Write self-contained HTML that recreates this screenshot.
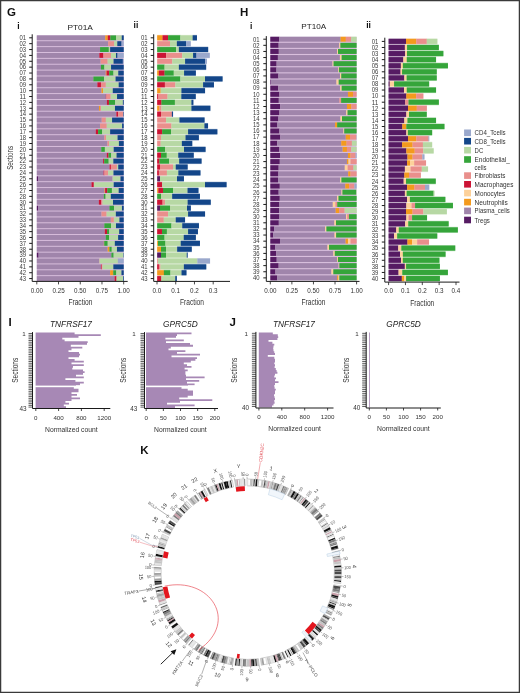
<!DOCTYPE html>
<html><head><meta charset="utf-8"><style>
html,body{margin:0;padding:0;background:#fff;}
body{width:520px;height:693px;overflow:hidden;}
svg{display:block;font-family:"Liberation Sans",sans-serif;will-change:transform;}
</style></head><body>
<svg width="520" height="693" viewBox="0 0 520 693">
<rect x="0" y="0" width="520" height="693" fill="#fff"/>
<rect x="36.8" y="35.4" width="86.9" height="245.3" fill="#d9bfdd"/>
<rect x="270.3" y="36.9" width="86.3" height="243.4" fill="#d9bfdd"/>
<rect x="36.80" y="35.35" width="68.50" height="4.9" fill="#a085ab"/>
<rect x="105.25" y="35.35" width="2.56" height="4.9" fill="#f39a1e"/>
<rect x="107.76" y="35.35" width="2.61" height="4.9" fill="#cc1435"/>
<rect x="110.32" y="35.35" width="5.77" height="4.9" fill="#35a53a"/>
<rect x="116.03" y="35.35" width="5.77" height="4.9" fill="#b7d8a4"/>
<rect x="121.75" y="35.35" width="2.00" height="4.9" fill="#134689"/>
<line x1="29.20" y1="37.80" x2="32.20" y2="37.80" stroke="#1a1a1a" stroke-width="1.0"/>
<text x="26.00" y="40.10" font-size="6.5" text-anchor="end" fill="#3a3a3a" textLength="6.6" lengthAdjust="spacingAndGlyphs" >01</text>
<rect x="36.80" y="41.22" width="71.38" height="4.9" fill="#a085ab"/>
<rect x="108.13" y="41.22" width="6.00" height="4.9" fill="#e98f8c"/>
<rect x="114.08" y="41.22" width="3.26" height="4.9" fill="#b7d8a4"/>
<rect x="117.29" y="41.22" width="4.33" height="4.9" fill="#134689"/>
<rect x="121.56" y="41.22" width="2.19" height="4.9" fill="#9aa8cc"/>
<line x1="29.20" y1="43.67" x2="32.20" y2="43.67" stroke="#1a1a1a" stroke-width="1.0"/>
<text x="26.00" y="45.97" font-size="6.5" text-anchor="end" fill="#3a3a3a" textLength="6.6" lengthAdjust="spacingAndGlyphs" >02</text>
<rect x="36.80" y="47.10" width="63.30" height="4.9" fill="#a085ab"/>
<rect x="100.05" y="47.10" width="8.83" height="4.9" fill="#35a53a"/>
<rect x="108.83" y="47.10" width="1.35" height="4.9" fill="#b7d8a4"/>
<rect x="110.13" y="47.10" width="13.62" height="4.9" fill="#134689"/>
<line x1="29.20" y1="49.55" x2="32.20" y2="49.55" stroke="#1a1a1a" stroke-width="1.0"/>
<text x="26.00" y="51.85" font-size="6.5" text-anchor="end" fill="#3a3a3a" textLength="6.6" lengthAdjust="spacingAndGlyphs" >03</text>
<rect x="36.80" y="52.97" width="62.55" height="4.9" fill="#a085ab"/>
<rect x="99.30" y="52.97" width="4.19" height="4.9" fill="#cc1435"/>
<rect x="103.44" y="52.97" width="7.58" height="4.9" fill="#e98f8c"/>
<rect x="110.97" y="52.97" width="5.07" height="4.9" fill="#b7d8a4"/>
<rect x="115.99" y="52.97" width="1.63" height="4.9" fill="#134689"/>
<rect x="117.57" y="52.97" width="6.18" height="4.9" fill="#9aa8cc"/>
<line x1="29.20" y1="55.42" x2="32.20" y2="55.42" stroke="#1a1a1a" stroke-width="1.0"/>
<text x="26.00" y="57.72" font-size="6.5" text-anchor="end" fill="#3a3a3a" textLength="6.6" lengthAdjust="spacingAndGlyphs" >04</text>
<rect x="36.80" y="58.84" width="63.85" height="4.9" fill="#a085ab"/>
<rect x="100.60" y="58.84" width="7.07" height="4.9" fill="#e98f8c"/>
<rect x="107.62" y="58.84" width="6.00" height="4.9" fill="#b7d8a4"/>
<rect x="113.57" y="58.84" width="9.34" height="4.9" fill="#134689"/>
<rect x="122.86" y="58.84" width="0.89" height="4.9" fill="#9aa8cc"/>
<line x1="29.20" y1="61.29" x2="32.20" y2="61.29" stroke="#1a1a1a" stroke-width="1.0"/>
<text x="26.00" y="63.59" font-size="6.5" text-anchor="end" fill="#3a3a3a" textLength="6.6" lengthAdjust="spacingAndGlyphs" >05</text>
<rect x="36.80" y="64.71" width="64.23" height="4.9" fill="#a085ab"/>
<rect x="100.98" y="64.71" width="3.49" height="4.9" fill="#35a53a"/>
<rect x="104.41" y="64.71" width="6.70" height="4.9" fill="#b7d8a4"/>
<rect x="111.06" y="64.71" width="12.69" height="4.9" fill="#134689"/>
<line x1="29.20" y1="67.16" x2="32.20" y2="67.16" stroke="#1a1a1a" stroke-width="1.0"/>
<text x="26.00" y="69.46" font-size="6.5" text-anchor="end" fill="#3a3a3a" textLength="6.6" lengthAdjust="spacingAndGlyphs" >06</text>
<rect x="36.80" y="70.59" width="69.01" height="4.9" fill="#a085ab"/>
<rect x="105.76" y="70.59" width="0.84" height="4.9" fill="#f39a1e"/>
<rect x="106.55" y="70.59" width="2.70" height="4.9" fill="#cc1435"/>
<rect x="109.20" y="70.59" width="4.33" height="4.9" fill="#35a53a"/>
<rect x="113.48" y="70.59" width="4.84" height="4.9" fill="#b7d8a4"/>
<rect x="118.26" y="70.59" width="5.49" height="4.9" fill="#134689"/>
<line x1="29.20" y1="73.04" x2="32.20" y2="73.04" stroke="#1a1a1a" stroke-width="1.0"/>
<text x="26.00" y="75.34" font-size="6.5" text-anchor="end" fill="#3a3a3a" textLength="6.6" lengthAdjust="spacingAndGlyphs" >07</text>
<rect x="36.80" y="76.46" width="56.60" height="4.9" fill="#a085ab"/>
<rect x="93.35" y="76.46" width="10.83" height="4.9" fill="#35a53a"/>
<rect x="104.14" y="76.46" width="11.48" height="4.9" fill="#b7d8a4"/>
<rect x="115.57" y="76.46" width="8.18" height="4.9" fill="#134689"/>
<line x1="29.20" y1="78.91" x2="32.20" y2="78.91" stroke="#1a1a1a" stroke-width="1.0"/>
<text x="26.00" y="81.21" font-size="6.5" text-anchor="end" fill="#3a3a3a" textLength="6.6" lengthAdjust="spacingAndGlyphs" >08</text>
<rect x="36.80" y="82.33" width="60.60" height="4.9" fill="#a085ab"/>
<rect x="97.35" y="82.33" width="3.63" height="4.9" fill="#cc1435"/>
<rect x="100.93" y="82.33" width="4.93" height="4.9" fill="#e98f8c"/>
<rect x="105.81" y="82.33" width="12.92" height="4.9" fill="#b7d8a4"/>
<rect x="118.68" y="82.33" width="5.07" height="4.9" fill="#134689"/>
<line x1="29.20" y1="84.78" x2="32.20" y2="84.78" stroke="#1a1a1a" stroke-width="1.0"/>
<text x="26.00" y="87.08" font-size="6.5" text-anchor="end" fill="#3a3a3a" textLength="6.6" lengthAdjust="spacingAndGlyphs" >09</text>
<rect x="36.80" y="88.21" width="64.74" height="4.9" fill="#a085ab"/>
<rect x="101.49" y="88.21" width="1.68" height="4.9" fill="#f39a1e"/>
<rect x="103.11" y="88.21" width="9.72" height="4.9" fill="#b7d8a4"/>
<rect x="112.78" y="88.21" width="10.97" height="4.9" fill="#134689"/>
<line x1="29.20" y1="90.66" x2="32.20" y2="90.66" stroke="#1a1a1a" stroke-width="1.0"/>
<text x="26.00" y="92.96" font-size="6.5" text-anchor="end" fill="#3a3a3a" textLength="6.6" lengthAdjust="spacingAndGlyphs" >10</text>
<rect x="36.80" y="94.08" width="69.06" height="4.9" fill="#a085ab"/>
<rect x="105.81" y="94.08" width="0.61" height="4.9" fill="#cc1435"/>
<rect x="106.37" y="94.08" width="4.33" height="4.9" fill="#e98f8c"/>
<rect x="110.64" y="94.08" width="6.46" height="4.9" fill="#b7d8a4"/>
<rect x="117.05" y="94.08" width="6.70" height="4.9" fill="#134689"/>
<line x1="29.20" y1="96.53" x2="32.20" y2="96.53" stroke="#1a1a1a" stroke-width="1.0"/>
<text x="26.00" y="98.83" font-size="6.5" text-anchor="end" fill="#3a3a3a" textLength="6.6" lengthAdjust="spacingAndGlyphs" >11</text>
<rect x="36.80" y="99.95" width="70.17" height="4.9" fill="#a085ab"/>
<rect x="106.92" y="99.95" width="2.05" height="4.9" fill="#cc1435"/>
<rect x="108.92" y="99.95" width="6.28" height="4.9" fill="#35a53a"/>
<rect x="115.15" y="99.95" width="7.76" height="4.9" fill="#b7d8a4"/>
<rect x="122.86" y="99.95" width="0.89" height="4.9" fill="#134689"/>
<line x1="29.20" y1="102.40" x2="32.20" y2="102.40" stroke="#1a1a1a" stroke-width="1.0"/>
<text x="26.00" y="104.70" font-size="6.5" text-anchor="end" fill="#3a3a3a" textLength="6.6" lengthAdjust="spacingAndGlyphs" >12</text>
<rect x="36.80" y="105.83" width="62.27" height="4.9" fill="#a085ab"/>
<rect x="99.02" y="105.83" width="1.12" height="4.9" fill="#f39a1e"/>
<rect x="100.09" y="105.83" width="0.98" height="4.9" fill="#e98f8c"/>
<rect x="101.02" y="105.83" width="13.99" height="4.9" fill="#b7d8a4"/>
<rect x="114.96" y="105.83" width="8.79" height="4.9" fill="#134689"/>
<line x1="29.20" y1="108.28" x2="32.20" y2="108.28" stroke="#1a1a1a" stroke-width="1.0"/>
<text x="26.00" y="110.58" font-size="6.5" text-anchor="end" fill="#3a3a3a" textLength="6.6" lengthAdjust="spacingAndGlyphs" >13</text>
<rect x="36.80" y="111.70" width="79.61" height="4.9" fill="#a085ab"/>
<rect x="116.36" y="111.70" width="1.82" height="4.9" fill="#cc1435"/>
<rect x="118.12" y="111.70" width="5.12" height="4.9" fill="#e98f8c"/>
<rect x="123.19" y="111.70" width="0.56" height="4.9" fill="#134689"/>
<line x1="29.20" y1="114.15" x2="32.20" y2="114.15" stroke="#1a1a1a" stroke-width="1.0"/>
<text x="26.00" y="116.45" font-size="6.5" text-anchor="end" fill="#3a3a3a" textLength="6.6" lengthAdjust="spacingAndGlyphs" >14</text>
<rect x="36.80" y="117.57" width="64.97" height="4.9" fill="#a085ab"/>
<rect x="101.72" y="117.57" width="4.19" height="4.9" fill="#e98f8c"/>
<rect x="105.86" y="117.57" width="6.28" height="4.9" fill="#b7d8a4"/>
<rect x="112.08" y="117.57" width="11.67" height="4.9" fill="#134689"/>
<line x1="29.20" y1="120.02" x2="32.20" y2="120.02" stroke="#1a1a1a" stroke-width="1.0"/>
<text x="26.00" y="122.32" font-size="6.5" text-anchor="end" fill="#3a3a3a" textLength="6.6" lengthAdjust="spacingAndGlyphs" >15</text>
<rect x="36.80" y="123.44" width="63.34" height="4.9" fill="#a085ab"/>
<rect x="100.09" y="123.44" width="6.70" height="4.9" fill="#e98f8c"/>
<rect x="106.74" y="123.44" width="15.39" height="4.9" fill="#b7d8a4"/>
<rect x="122.07" y="123.44" width="1.68" height="4.9" fill="#134689"/>
<line x1="29.20" y1="125.89" x2="32.20" y2="125.89" stroke="#1a1a1a" stroke-width="1.0"/>
<text x="26.00" y="128.19" font-size="6.5" text-anchor="end" fill="#3a3a3a" textLength="6.6" lengthAdjust="spacingAndGlyphs" >16</text>
<rect x="36.80" y="129.32" width="59.02" height="4.9" fill="#a085ab"/>
<rect x="95.77" y="129.32" width="2.37" height="4.9" fill="#cc1435"/>
<rect x="98.09" y="129.32" width="4.19" height="4.9" fill="#35a53a"/>
<rect x="102.23" y="129.32" width="7.95" height="4.9" fill="#b7d8a4"/>
<rect x="110.13" y="129.32" width="13.62" height="4.9" fill="#134689"/>
<line x1="29.20" y1="131.77" x2="32.20" y2="131.77" stroke="#1a1a1a" stroke-width="1.0"/>
<text x="26.00" y="134.07" font-size="6.5" text-anchor="end" fill="#3a3a3a" textLength="6.6" lengthAdjust="spacingAndGlyphs" >17</text>
<rect x="36.80" y="135.19" width="67.62" height="4.9" fill="#a085ab"/>
<rect x="104.37" y="135.19" width="1.82" height="4.9" fill="#e98f8c"/>
<rect x="106.13" y="135.19" width="11.48" height="4.9" fill="#b7d8a4"/>
<rect x="117.57" y="135.19" width="6.18" height="4.9" fill="#134689"/>
<line x1="29.20" y1="137.64" x2="32.20" y2="137.64" stroke="#1a1a1a" stroke-width="1.0"/>
<text x="26.00" y="139.94" font-size="6.5" text-anchor="end" fill="#3a3a3a" textLength="6.6" lengthAdjust="spacingAndGlyphs" >18</text>
<rect x="36.80" y="141.06" width="70.69" height="4.9" fill="#a085ab"/>
<rect x="107.44" y="141.06" width="1.68" height="4.9" fill="#e98f8c"/>
<rect x="109.06" y="141.06" width="9.90" height="4.9" fill="#b7d8a4"/>
<rect x="118.91" y="141.06" width="4.84" height="4.9" fill="#134689"/>
<line x1="29.20" y1="143.51" x2="32.20" y2="143.51" stroke="#1a1a1a" stroke-width="1.0"/>
<text x="26.00" y="145.81" font-size="6.5" text-anchor="end" fill="#3a3a3a" textLength="6.6" lengthAdjust="spacingAndGlyphs" >19</text>
<rect x="36.80" y="146.94" width="64.50" height="4.9" fill="#a085ab"/>
<rect x="101.25" y="146.94" width="3.67" height="4.9" fill="#35a53a"/>
<rect x="104.88" y="146.94" width="8.88" height="4.9" fill="#b7d8a4"/>
<rect x="113.71" y="146.94" width="10.04" height="4.9" fill="#134689"/>
<line x1="29.20" y1="149.39" x2="32.20" y2="149.39" stroke="#1a1a1a" stroke-width="1.0"/>
<text x="26.00" y="151.69" font-size="6.5" text-anchor="end" fill="#3a3a3a" textLength="6.6" lengthAdjust="spacingAndGlyphs" >20</text>
<rect x="36.80" y="152.81" width="69.99" height="4.9" fill="#a085ab"/>
<rect x="106.74" y="152.81" width="1.82" height="4.9" fill="#cc1435"/>
<rect x="108.50" y="152.81" width="2.75" height="4.9" fill="#35a53a"/>
<rect x="111.20" y="152.81" width="5.39" height="4.9" fill="#b7d8a4"/>
<rect x="116.54" y="152.81" width="7.21" height="4.9" fill="#134689"/>
<line x1="29.20" y1="155.26" x2="32.20" y2="155.26" stroke="#1a1a1a" stroke-width="1.0"/>
<text x="26.00" y="157.56" font-size="6.5" text-anchor="end" fill="#3a3a3a" textLength="6.6" lengthAdjust="spacingAndGlyphs" >21</text>
<rect x="36.80" y="158.68" width="66.36" height="4.9" fill="#a085ab"/>
<rect x="103.11" y="158.68" width="1.12" height="4.9" fill="#cc1435"/>
<rect x="104.18" y="158.68" width="4.56" height="4.9" fill="#35a53a"/>
<rect x="108.69" y="158.68" width="4.70" height="4.9" fill="#b7d8a4"/>
<rect x="113.34" y="158.68" width="10.41" height="4.9" fill="#134689"/>
<line x1="29.20" y1="161.13" x2="32.20" y2="161.13" stroke="#1a1a1a" stroke-width="1.0"/>
<text x="26.00" y="163.43" font-size="6.5" text-anchor="end" fill="#3a3a3a" textLength="6.6" lengthAdjust="spacingAndGlyphs" >22</text>
<rect x="36.80" y="164.56" width="72.82" height="4.9" fill="#a085ab"/>
<rect x="109.57" y="164.56" width="1.35" height="4.9" fill="#cc1435"/>
<rect x="110.87" y="164.56" width="6.09" height="4.9" fill="#e98f8c"/>
<rect x="116.92" y="164.56" width="1.35" height="4.9" fill="#b7d8a4"/>
<rect x="118.22" y="164.56" width="5.53" height="4.9" fill="#134689"/>
<line x1="29.20" y1="167.01" x2="32.20" y2="167.01" stroke="#1a1a1a" stroke-width="1.0"/>
<text x="26.00" y="169.31" font-size="6.5" text-anchor="end" fill="#3a3a3a" textLength="6.6" lengthAdjust="spacingAndGlyphs" >23</text>
<rect x="36.80" y="170.43" width="66.87" height="4.9" fill="#a085ab"/>
<rect x="103.62" y="170.43" width="0.84" height="4.9" fill="#cc1435"/>
<rect x="104.41" y="170.43" width="3.77" height="4.9" fill="#e98f8c"/>
<rect x="108.13" y="170.43" width="5.39" height="4.9" fill="#b7d8a4"/>
<rect x="113.48" y="170.43" width="10.27" height="4.9" fill="#134689"/>
<line x1="29.20" y1="172.88" x2="32.20" y2="172.88" stroke="#1a1a1a" stroke-width="1.0"/>
<text x="26.00" y="175.18" font-size="6.5" text-anchor="end" fill="#3a3a3a" textLength="6.6" lengthAdjust="spacingAndGlyphs" >24</text>
<rect x="36.80" y="176.30" width="1.35" height="4.9" fill="#561b63"/>
<rect x="38.10" y="176.30" width="74.54" height="4.9" fill="#a085ab"/>
<rect x="112.59" y="176.30" width="7.95" height="4.9" fill="#b7d8a4"/>
<rect x="120.49" y="176.30" width="3.26" height="4.9" fill="#134689"/>
<line x1="29.20" y1="178.75" x2="32.20" y2="178.75" stroke="#1a1a1a" stroke-width="1.0"/>
<text x="26.00" y="181.05" font-size="6.5" text-anchor="end" fill="#3a3a3a" textLength="6.6" lengthAdjust="spacingAndGlyphs" >25</text>
<rect x="36.80" y="182.18" width="54.75" height="4.9" fill="#a085ab"/>
<rect x="91.50" y="182.18" width="2.37" height="4.9" fill="#cc1435"/>
<rect x="93.82" y="182.18" width="19.94" height="4.9" fill="#b7d8a4"/>
<rect x="113.71" y="182.18" width="10.04" height="4.9" fill="#134689"/>
<line x1="29.20" y1="184.62" x2="32.20" y2="184.62" stroke="#1a1a1a" stroke-width="1.0"/>
<text x="26.00" y="186.93" font-size="6.5" text-anchor="end" fill="#3a3a3a" textLength="6.6" lengthAdjust="spacingAndGlyphs" >26</text>
<rect x="36.80" y="188.05" width="67.80" height="4.9" fill="#a085ab"/>
<rect x="104.55" y="188.05" width="0.61" height="4.9" fill="#f39a1e"/>
<rect x="105.11" y="188.05" width="2.19" height="4.9" fill="#cc1435"/>
<rect x="107.25" y="188.05" width="4.70" height="4.9" fill="#35a53a"/>
<rect x="111.90" y="188.05" width="6.83" height="4.9" fill="#b7d8a4"/>
<rect x="118.68" y="188.05" width="5.07" height="4.9" fill="#134689"/>
<line x1="29.20" y1="190.50" x2="32.20" y2="190.50" stroke="#1a1a1a" stroke-width="1.0"/>
<text x="26.00" y="192.80" font-size="6.5" text-anchor="end" fill="#3a3a3a" textLength="6.6" lengthAdjust="spacingAndGlyphs" >27</text>
<rect x="36.80" y="193.92" width="67.11" height="4.9" fill="#a085ab"/>
<rect x="103.86" y="193.92" width="1.82" height="4.9" fill="#35a53a"/>
<rect x="105.62" y="193.92" width="5.25" height="4.9" fill="#b7d8a4"/>
<rect x="110.83" y="193.92" width="12.92" height="4.9" fill="#134689"/>
<line x1="29.20" y1="196.37" x2="32.20" y2="196.37" stroke="#1a1a1a" stroke-width="1.0"/>
<text x="26.00" y="198.67" font-size="6.5" text-anchor="end" fill="#3a3a3a" textLength="6.6" lengthAdjust="spacingAndGlyphs" >28</text>
<rect x="36.80" y="199.79" width="62.09" height="4.9" fill="#a085ab"/>
<rect x="98.84" y="199.79" width="2.56" height="4.9" fill="#cc1435"/>
<rect x="101.35" y="199.79" width="1.21" height="4.9" fill="#e98f8c"/>
<rect x="102.51" y="199.79" width="10.55" height="4.9" fill="#b7d8a4"/>
<rect x="113.01" y="199.79" width="10.74" height="4.9" fill="#134689"/>
<line x1="29.20" y1="202.24" x2="32.20" y2="202.24" stroke="#1a1a1a" stroke-width="1.0"/>
<text x="26.00" y="204.54" font-size="6.5" text-anchor="end" fill="#3a3a3a" textLength="6.6" lengthAdjust="spacingAndGlyphs" >30</text>
<rect x="36.80" y="205.67" width="1.35" height="4.9" fill="#561b63"/>
<rect x="38.10" y="205.67" width="71.34" height="4.9" fill="#a085ab"/>
<rect x="109.39" y="205.67" width="4.70" height="4.9" fill="#35a53a"/>
<rect x="114.03" y="205.67" width="7.95" height="4.9" fill="#b7d8a4"/>
<rect x="121.93" y="205.67" width="1.82" height="4.9" fill="#134689"/>
<line x1="29.20" y1="208.12" x2="32.20" y2="208.12" stroke="#1a1a1a" stroke-width="1.0"/>
<text x="26.00" y="210.42" font-size="6.5" text-anchor="end" fill="#3a3a3a" textLength="6.6" lengthAdjust="spacingAndGlyphs" >31</text>
<rect x="36.80" y="211.54" width="64.74" height="4.9" fill="#a085ab"/>
<rect x="101.49" y="211.54" width="5.12" height="4.9" fill="#e98f8c"/>
<rect x="106.55" y="211.54" width="9.34" height="4.9" fill="#b7d8a4"/>
<rect x="115.85" y="211.54" width="7.90" height="4.9" fill="#134689"/>
<line x1="29.20" y1="213.99" x2="32.20" y2="213.99" stroke="#1a1a1a" stroke-width="1.0"/>
<text x="26.00" y="216.29" font-size="6.5" text-anchor="end" fill="#3a3a3a" textLength="6.6" lengthAdjust="spacingAndGlyphs" >32</text>
<rect x="36.80" y="217.41" width="74.03" height="4.9" fill="#a085ab"/>
<rect x="110.78" y="217.41" width="3.12" height="4.9" fill="#e98f8c"/>
<rect x="113.85" y="217.41" width="5.63" height="4.9" fill="#b7d8a4"/>
<rect x="119.42" y="217.41" width="4.33" height="4.9" fill="#134689"/>
<line x1="29.20" y1="219.86" x2="32.20" y2="219.86" stroke="#1a1a1a" stroke-width="1.0"/>
<text x="26.00" y="222.16" font-size="6.5" text-anchor="end" fill="#3a3a3a" textLength="6.6" lengthAdjust="spacingAndGlyphs" >33</text>
<rect x="36.80" y="223.29" width="67.57" height="4.9" fill="#a085ab"/>
<rect x="104.32" y="223.29" width="6.70" height="4.9" fill="#35a53a"/>
<rect x="110.97" y="223.29" width="5.07" height="4.9" fill="#b7d8a4"/>
<rect x="115.99" y="223.29" width="7.76" height="4.9" fill="#134689"/>
<line x1="29.20" y1="225.74" x2="32.20" y2="225.74" stroke="#1a1a1a" stroke-width="1.0"/>
<text x="26.00" y="228.04" font-size="6.5" text-anchor="end" fill="#3a3a3a" textLength="6.6" lengthAdjust="spacingAndGlyphs" >34</text>
<rect x="36.80" y="229.16" width="68.04" height="4.9" fill="#a085ab"/>
<rect x="104.79" y="229.16" width="2.28" height="4.9" fill="#cc1435"/>
<rect x="107.02" y="229.16" width="2.33" height="4.9" fill="#35a53a"/>
<rect x="109.29" y="229.16" width="9.90" height="4.9" fill="#b7d8a4"/>
<rect x="119.15" y="229.16" width="4.60" height="4.9" fill="#134689"/>
<line x1="29.20" y1="231.61" x2="32.20" y2="231.61" stroke="#1a1a1a" stroke-width="1.0"/>
<text x="26.00" y="233.91" font-size="6.5" text-anchor="end" fill="#3a3a3a" textLength="6.6" lengthAdjust="spacingAndGlyphs" >35</text>
<rect x="36.80" y="235.03" width="69.01" height="4.9" fill="#a085ab"/>
<rect x="105.76" y="235.03" width="3.49" height="4.9" fill="#35a53a"/>
<rect x="109.20" y="235.03" width="8.97" height="4.9" fill="#b7d8a4"/>
<rect x="118.12" y="235.03" width="5.63" height="4.9" fill="#134689"/>
<line x1="29.20" y1="237.48" x2="32.20" y2="237.48" stroke="#1a1a1a" stroke-width="1.0"/>
<text x="26.00" y="239.78" font-size="6.5" text-anchor="end" fill="#3a3a3a" textLength="6.6" lengthAdjust="spacingAndGlyphs" >36</text>
<rect x="36.80" y="240.91" width="67.11" height="4.9" fill="#a085ab"/>
<rect x="103.86" y="240.91" width="0.42" height="4.9" fill="#f39a1e"/>
<rect x="104.23" y="240.91" width="3.54" height="4.9" fill="#35a53a"/>
<rect x="107.71" y="240.91" width="7.16" height="4.9" fill="#b7d8a4"/>
<rect x="114.82" y="240.91" width="8.93" height="4.9" fill="#134689"/>
<line x1="29.20" y1="243.36" x2="32.20" y2="243.36" stroke="#1a1a1a" stroke-width="1.0"/>
<text x="26.00" y="245.66" font-size="6.5" text-anchor="end" fill="#3a3a3a" textLength="6.6" lengthAdjust="spacingAndGlyphs" >37</text>
<rect x="36.80" y="246.78" width="70.92" height="4.9" fill="#a085ab"/>
<rect x="107.67" y="246.78" width="1.82" height="4.9" fill="#f39a1e"/>
<rect x="109.43" y="246.78" width="2.37" height="4.9" fill="#35a53a"/>
<rect x="111.76" y="246.78" width="5.25" height="4.9" fill="#b7d8a4"/>
<rect x="116.96" y="246.78" width="6.79" height="4.9" fill="#134689"/>
<line x1="29.20" y1="249.23" x2="32.20" y2="249.23" stroke="#1a1a1a" stroke-width="1.0"/>
<text x="26.00" y="251.53" font-size="6.5" text-anchor="end" fill="#3a3a3a" textLength="6.6" lengthAdjust="spacingAndGlyphs" >38</text>
<rect x="36.80" y="252.65" width="1.82" height="4.9" fill="#561b63"/>
<rect x="38.57" y="252.65" width="72.82" height="4.9" fill="#a085ab"/>
<rect x="111.34" y="252.65" width="2.37" height="4.9" fill="#35a53a"/>
<rect x="113.66" y="252.65" width="9.72" height="4.9" fill="#b7d8a4"/>
<rect x="123.33" y="252.65" width="0.42" height="4.9" fill="#134689"/>
<line x1="29.20" y1="255.10" x2="32.20" y2="255.10" stroke="#1a1a1a" stroke-width="1.0"/>
<text x="26.00" y="257.40" font-size="6.5" text-anchor="end" fill="#3a3a3a" textLength="6.6" lengthAdjust="spacingAndGlyphs" >39</text>
<rect x="36.80" y="258.52" width="62.41" height="4.9" fill="#a085ab"/>
<rect x="99.16" y="258.52" width="0.42" height="4.9" fill="#e98f8c"/>
<rect x="99.54" y="258.52" width="18.36" height="4.9" fill="#b7d8a4"/>
<rect x="117.84" y="258.52" width="5.91" height="4.9" fill="#9aa8cc"/>
<line x1="29.20" y1="260.97" x2="32.20" y2="260.97" stroke="#1a1a1a" stroke-width="1.0"/>
<text x="26.00" y="263.27" font-size="6.5" text-anchor="end" fill="#3a3a3a" textLength="6.6" lengthAdjust="spacingAndGlyphs" >40</text>
<rect x="36.80" y="264.40" width="64.18" height="4.9" fill="#a085ab"/>
<rect x="100.93" y="264.40" width="0.84" height="4.9" fill="#cc1435"/>
<rect x="101.72" y="264.40" width="0.79" height="4.9" fill="#e98f8c"/>
<rect x="102.46" y="264.40" width="10.92" height="4.9" fill="#b7d8a4"/>
<rect x="113.34" y="264.40" width="10.41" height="4.9" fill="#134689"/>
<line x1="29.20" y1="266.85" x2="32.20" y2="266.85" stroke="#1a1a1a" stroke-width="1.0"/>
<text x="26.00" y="269.15" font-size="6.5" text-anchor="end" fill="#3a3a3a" textLength="6.6" lengthAdjust="spacingAndGlyphs" >41</text>
<rect x="36.80" y="270.27" width="73.38" height="4.9" fill="#a085ab"/>
<rect x="110.13" y="270.27" width="3.16" height="4.9" fill="#f39a1e"/>
<rect x="113.24" y="270.27" width="3.12" height="4.9" fill="#35a53a"/>
<rect x="116.31" y="270.27" width="5.21" height="4.9" fill="#b7d8a4"/>
<rect x="121.47" y="270.27" width="2.28" height="4.9" fill="#134689"/>
<line x1="29.20" y1="272.72" x2="32.20" y2="272.72" stroke="#1a1a1a" stroke-width="1.0"/>
<text x="26.00" y="275.02" font-size="6.5" text-anchor="end" fill="#3a3a3a" textLength="6.6" lengthAdjust="spacingAndGlyphs" >42</text>
<rect x="36.80" y="276.14" width="77.84" height="4.9" fill="#a085ab"/>
<rect x="114.59" y="276.14" width="2.00" height="4.9" fill="#cc1435"/>
<rect x="116.54" y="276.14" width="6.51" height="4.9" fill="#b7d8a4"/>
<rect x="123.00" y="276.14" width="0.75" height="4.9" fill="#134689"/>
<line x1="29.20" y1="278.59" x2="32.20" y2="278.59" stroke="#1a1a1a" stroke-width="1.0"/>
<text x="26.00" y="280.89" font-size="6.5" text-anchor="end" fill="#3a3a3a" textLength="6.6" lengthAdjust="spacingAndGlyphs" >43</text>
<path d="M32.20 34.30 V281.40 H127.70" fill="none" stroke="#1a1a1a" stroke-width="1"/>
<line x1="36.80" y1="281.40" x2="36.80" y2="284.40" stroke="#1a1a1a" stroke-width="0.8"/>
<text x="36.80" y="292.70" font-size="6.3" text-anchor="middle" fill="#333" >0.00</text>
<line x1="58.52" y1="281.40" x2="58.52" y2="284.40" stroke="#1a1a1a" stroke-width="0.8"/>
<text x="58.52" y="292.70" font-size="6.3" text-anchor="middle" fill="#333" >0.25</text>
<line x1="80.25" y1="281.40" x2="80.25" y2="284.40" stroke="#1a1a1a" stroke-width="0.8"/>
<text x="80.25" y="292.70" font-size="6.3" text-anchor="middle" fill="#333" >0.50</text>
<line x1="101.98" y1="281.40" x2="101.98" y2="284.40" stroke="#1a1a1a" stroke-width="0.8"/>
<text x="101.98" y="292.70" font-size="6.3" text-anchor="middle" fill="#333" >0.75</text>
<line x1="123.70" y1="281.40" x2="123.70" y2="284.40" stroke="#1a1a1a" stroke-width="0.8"/>
<text x="123.70" y="292.70" font-size="6.3" text-anchor="middle" fill="#333" >1.00</text>
<rect x="157.20" y="34.86" width="5.45" height="5.873" fill="#f39a1e" fill-opacity="0.42"/>
<rect x="157.20" y="35.35" width="5.45" height="4.9" fill="#f39a1e"/>
<rect x="162.60" y="34.86" width="5.55" height="5.873" fill="#cc1435" fill-opacity="0.42"/>
<rect x="162.60" y="35.35" width="5.55" height="4.9" fill="#cc1435"/>
<rect x="168.10" y="34.86" width="12.35" height="5.873" fill="#35a53a" fill-opacity="0.42"/>
<rect x="168.10" y="35.35" width="12.35" height="4.9" fill="#35a53a"/>
<rect x="180.40" y="34.86" width="12.35" height="5.873" fill="#b7d8a4" fill-opacity="0.42"/>
<rect x="180.40" y="35.35" width="12.35" height="4.9" fill="#b7d8a4"/>
<rect x="192.70" y="34.86" width="4.25" height="5.873" fill="#134689" fill-opacity="0.42"/>
<rect x="192.70" y="35.35" width="4.25" height="4.9" fill="#134689"/>
<line x1="150.70" y1="37.80" x2="153.70" y2="37.80" stroke="#1a1a1a" stroke-width="1.0"/>
<text x="147.60" y="40.10" font-size="6.5" text-anchor="end" fill="#3a3a3a" textLength="6.6" lengthAdjust="spacingAndGlyphs" >01</text>
<rect x="157.20" y="40.74" width="12.85" height="5.873" fill="#e98f8c" fill-opacity="0.42"/>
<rect x="157.20" y="41.22" width="12.85" height="4.9" fill="#e98f8c"/>
<rect x="170.00" y="40.74" width="6.95" height="5.873" fill="#b7d8a4" fill-opacity="0.42"/>
<rect x="170.00" y="41.22" width="6.95" height="4.9" fill="#b7d8a4"/>
<rect x="176.90" y="40.74" width="9.25" height="5.873" fill="#134689" fill-opacity="0.42"/>
<rect x="176.90" y="41.22" width="9.25" height="4.9" fill="#134689"/>
<rect x="186.10" y="40.74" width="4.65" height="5.873" fill="#9aa8cc" fill-opacity="0.42"/>
<rect x="186.10" y="41.22" width="4.65" height="4.9" fill="#9aa8cc"/>
<line x1="150.70" y1="43.67" x2="153.70" y2="43.67" stroke="#1a1a1a" stroke-width="1.0"/>
<text x="147.60" y="45.97" font-size="6.5" text-anchor="end" fill="#3a3a3a" textLength="6.6" lengthAdjust="spacingAndGlyphs" >02</text>
<rect x="157.20" y="46.61" width="18.95" height="5.873" fill="#35a53a" fill-opacity="0.42"/>
<rect x="157.20" y="47.10" width="18.95" height="4.9" fill="#35a53a"/>
<rect x="176.10" y="46.61" width="2.85" height="5.873" fill="#b7d8a4" fill-opacity="0.42"/>
<rect x="176.10" y="47.10" width="2.85" height="4.9" fill="#b7d8a4"/>
<rect x="178.90" y="46.61" width="29.25" height="5.873" fill="#134689" fill-opacity="0.42"/>
<rect x="178.90" y="47.10" width="29.25" height="4.9" fill="#134689"/>
<line x1="150.70" y1="49.55" x2="153.70" y2="49.55" stroke="#1a1a1a" stroke-width="1.0"/>
<text x="147.60" y="51.85" font-size="6.5" text-anchor="end" fill="#3a3a3a" textLength="6.6" lengthAdjust="spacingAndGlyphs" >03</text>
<rect x="157.20" y="52.48" width="8.95" height="5.873" fill="#cc1435" fill-opacity="0.42"/>
<rect x="157.20" y="52.97" width="8.95" height="4.9" fill="#cc1435"/>
<rect x="166.10" y="52.48" width="16.25" height="5.873" fill="#e98f8c" fill-opacity="0.42"/>
<rect x="166.10" y="52.97" width="16.25" height="4.9" fill="#e98f8c"/>
<rect x="182.30" y="52.48" width="10.85" height="5.873" fill="#b7d8a4" fill-opacity="0.42"/>
<rect x="182.30" y="52.97" width="10.85" height="4.9" fill="#b7d8a4"/>
<rect x="193.10" y="52.48" width="3.45" height="5.873" fill="#134689" fill-opacity="0.42"/>
<rect x="193.10" y="52.97" width="3.45" height="4.9" fill="#134689"/>
<rect x="196.50" y="52.48" width="13.25" height="5.873" fill="#9aa8cc" fill-opacity="0.42"/>
<rect x="196.50" y="52.97" width="13.25" height="4.9" fill="#9aa8cc"/>
<line x1="150.70" y1="55.42" x2="153.70" y2="55.42" stroke="#1a1a1a" stroke-width="1.0"/>
<text x="147.60" y="57.72" font-size="6.5" text-anchor="end" fill="#3a3a3a" textLength="6.6" lengthAdjust="spacingAndGlyphs" >04</text>
<rect x="157.20" y="58.36" width="15.15" height="5.873" fill="#e98f8c" fill-opacity="0.42"/>
<rect x="157.20" y="58.84" width="15.15" height="4.9" fill="#e98f8c"/>
<rect x="172.30" y="58.36" width="12.85" height="5.873" fill="#b7d8a4" fill-opacity="0.42"/>
<rect x="172.30" y="58.84" width="12.85" height="4.9" fill="#b7d8a4"/>
<rect x="185.10" y="58.36" width="20.05" height="5.873" fill="#134689" fill-opacity="0.42"/>
<rect x="185.10" y="58.84" width="20.05" height="4.9" fill="#134689"/>
<rect x="205.10" y="58.36" width="1.85" height="5.873" fill="#9aa8cc" fill-opacity="0.42"/>
<rect x="205.10" y="58.84" width="1.85" height="4.9" fill="#9aa8cc"/>
<line x1="150.70" y1="61.29" x2="153.70" y2="61.29" stroke="#1a1a1a" stroke-width="1.0"/>
<text x="147.60" y="63.59" font-size="6.5" text-anchor="end" fill="#3a3a3a" textLength="6.6" lengthAdjust="spacingAndGlyphs" >05</text>
<rect x="157.20" y="64.23" width="7.45" height="5.873" fill="#35a53a" fill-opacity="0.42"/>
<rect x="157.20" y="64.71" width="7.45" height="4.9" fill="#35a53a"/>
<rect x="164.60" y="64.23" width="14.35" height="5.873" fill="#b7d8a4" fill-opacity="0.42"/>
<rect x="164.60" y="64.71" width="14.35" height="4.9" fill="#b7d8a4"/>
<rect x="178.90" y="64.23" width="27.25" height="5.873" fill="#134689" fill-opacity="0.42"/>
<rect x="178.90" y="64.71" width="27.25" height="4.9" fill="#134689"/>
<line x1="150.70" y1="67.16" x2="153.70" y2="67.16" stroke="#1a1a1a" stroke-width="1.0"/>
<text x="147.60" y="69.46" font-size="6.5" text-anchor="end" fill="#3a3a3a" textLength="6.6" lengthAdjust="spacingAndGlyphs" >06</text>
<rect x="157.20" y="70.10" width="1.75" height="5.873" fill="#f39a1e" fill-opacity="0.42"/>
<rect x="157.20" y="70.59" width="1.75" height="4.9" fill="#f39a1e"/>
<rect x="158.90" y="70.10" width="5.75" height="5.873" fill="#cc1435" fill-opacity="0.42"/>
<rect x="158.90" y="70.59" width="5.75" height="4.9" fill="#cc1435"/>
<rect x="164.60" y="70.10" width="9.25" height="5.873" fill="#35a53a" fill-opacity="0.42"/>
<rect x="164.60" y="70.59" width="9.25" height="4.9" fill="#35a53a"/>
<rect x="173.80" y="70.10" width="10.35" height="5.873" fill="#b7d8a4" fill-opacity="0.42"/>
<rect x="173.80" y="70.59" width="10.35" height="4.9" fill="#b7d8a4"/>
<rect x="184.10" y="70.10" width="11.75" height="5.873" fill="#134689" fill-opacity="0.42"/>
<rect x="184.10" y="70.59" width="11.75" height="4.9" fill="#134689"/>
<line x1="150.70" y1="73.04" x2="153.70" y2="73.04" stroke="#1a1a1a" stroke-width="1.0"/>
<text x="147.60" y="75.34" font-size="6.5" text-anchor="end" fill="#3a3a3a" textLength="6.6" lengthAdjust="spacingAndGlyphs" >07</text>
<rect x="157.20" y="75.97" width="23.25" height="5.873" fill="#35a53a" fill-opacity="0.42"/>
<rect x="157.20" y="76.46" width="23.25" height="4.9" fill="#35a53a"/>
<rect x="180.40" y="75.97" width="24.65" height="5.873" fill="#b7d8a4" fill-opacity="0.42"/>
<rect x="180.40" y="76.46" width="24.65" height="4.9" fill="#b7d8a4"/>
<rect x="205.00" y="75.97" width="17.55" height="5.873" fill="#134689" fill-opacity="0.42"/>
<rect x="205.00" y="76.46" width="17.55" height="4.9" fill="#134689"/>
<line x1="150.70" y1="78.91" x2="153.70" y2="78.91" stroke="#1a1a1a" stroke-width="1.0"/>
<text x="147.60" y="81.21" font-size="6.5" text-anchor="end" fill="#3a3a3a" textLength="6.6" lengthAdjust="spacingAndGlyphs" >08</text>
<rect x="157.20" y="81.85" width="7.75" height="5.873" fill="#cc1435" fill-opacity="0.42"/>
<rect x="157.20" y="82.33" width="7.75" height="4.9" fill="#cc1435"/>
<rect x="164.90" y="81.85" width="10.55" height="5.873" fill="#e98f8c" fill-opacity="0.42"/>
<rect x="164.90" y="82.33" width="10.55" height="4.9" fill="#e98f8c"/>
<rect x="175.40" y="81.85" width="27.75" height="5.873" fill="#b7d8a4" fill-opacity="0.42"/>
<rect x="175.40" y="82.33" width="27.75" height="4.9" fill="#b7d8a4"/>
<rect x="203.10" y="81.85" width="10.85" height="5.873" fill="#134689" fill-opacity="0.42"/>
<rect x="203.10" y="82.33" width="10.85" height="4.9" fill="#134689"/>
<line x1="150.70" y1="84.78" x2="153.70" y2="84.78" stroke="#1a1a1a" stroke-width="1.0"/>
<text x="147.60" y="87.08" font-size="6.5" text-anchor="end" fill="#3a3a3a" textLength="6.6" lengthAdjust="spacingAndGlyphs" >09</text>
<rect x="157.20" y="87.72" width="3.55" height="5.873" fill="#f39a1e" fill-opacity="0.42"/>
<rect x="157.20" y="88.21" width="3.55" height="4.9" fill="#f39a1e"/>
<rect x="160.70" y="87.72" width="20.85" height="5.873" fill="#b7d8a4" fill-opacity="0.42"/>
<rect x="160.70" y="88.21" width="20.85" height="4.9" fill="#b7d8a4"/>
<rect x="181.50" y="87.72" width="23.55" height="5.873" fill="#134689" fill-opacity="0.42"/>
<rect x="181.50" y="88.21" width="23.55" height="4.9" fill="#134689"/>
<line x1="150.70" y1="90.66" x2="153.70" y2="90.66" stroke="#1a1a1a" stroke-width="1.0"/>
<text x="147.60" y="92.96" font-size="6.5" text-anchor="end" fill="#3a3a3a" textLength="6.6" lengthAdjust="spacingAndGlyphs" >10</text>
<rect x="157.20" y="93.59" width="1.25" height="5.873" fill="#cc1435" fill-opacity="0.42"/>
<rect x="157.20" y="94.08" width="1.25" height="4.9" fill="#cc1435"/>
<rect x="158.40" y="93.59" width="9.25" height="5.873" fill="#e98f8c" fill-opacity="0.42"/>
<rect x="158.40" y="94.08" width="9.25" height="4.9" fill="#e98f8c"/>
<rect x="167.60" y="93.59" width="13.85" height="5.873" fill="#b7d8a4" fill-opacity="0.42"/>
<rect x="167.60" y="94.08" width="13.85" height="4.9" fill="#b7d8a4"/>
<rect x="181.40" y="93.59" width="14.35" height="5.873" fill="#134689" fill-opacity="0.42"/>
<rect x="181.40" y="94.08" width="14.35" height="4.9" fill="#134689"/>
<line x1="150.70" y1="96.53" x2="153.70" y2="96.53" stroke="#1a1a1a" stroke-width="1.0"/>
<text x="147.60" y="98.83" font-size="6.5" text-anchor="end" fill="#3a3a3a" textLength="6.6" lengthAdjust="spacingAndGlyphs" >11</text>
<rect x="157.20" y="99.47" width="4.35" height="5.873" fill="#cc1435" fill-opacity="0.42"/>
<rect x="157.20" y="99.95" width="4.35" height="4.9" fill="#cc1435"/>
<rect x="161.50" y="99.47" width="13.45" height="5.873" fill="#35a53a" fill-opacity="0.42"/>
<rect x="161.50" y="99.95" width="13.45" height="4.9" fill="#35a53a"/>
<rect x="174.90" y="99.47" width="16.65" height="5.873" fill="#b7d8a4" fill-opacity="0.42"/>
<rect x="174.90" y="99.95" width="16.65" height="4.9" fill="#b7d8a4"/>
<rect x="191.50" y="99.47" width="1.85" height="5.873" fill="#134689" fill-opacity="0.42"/>
<rect x="191.50" y="99.95" width="1.85" height="4.9" fill="#134689"/>
<line x1="150.70" y1="102.40" x2="153.70" y2="102.40" stroke="#1a1a1a" stroke-width="1.0"/>
<text x="147.60" y="104.70" font-size="6.5" text-anchor="end" fill="#3a3a3a" textLength="6.6" lengthAdjust="spacingAndGlyphs" >12</text>
<rect x="157.20" y="105.34" width="2.35" height="5.873" fill="#f39a1e" fill-opacity="0.42"/>
<rect x="157.20" y="105.83" width="2.35" height="4.9" fill="#f39a1e"/>
<rect x="159.50" y="105.34" width="2.05" height="5.873" fill="#e98f8c" fill-opacity="0.42"/>
<rect x="159.50" y="105.83" width="2.05" height="4.9" fill="#e98f8c"/>
<rect x="161.50" y="105.34" width="30.05" height="5.873" fill="#b7d8a4" fill-opacity="0.42"/>
<rect x="161.50" y="105.83" width="30.05" height="4.9" fill="#b7d8a4"/>
<rect x="191.50" y="105.34" width="18.85" height="5.873" fill="#134689" fill-opacity="0.42"/>
<rect x="191.50" y="105.83" width="18.85" height="4.9" fill="#134689"/>
<line x1="150.70" y1="108.28" x2="153.70" y2="108.28" stroke="#1a1a1a" stroke-width="1.0"/>
<text x="147.60" y="110.58" font-size="6.5" text-anchor="end" fill="#3a3a3a" textLength="6.6" lengthAdjust="spacingAndGlyphs" >13</text>
<rect x="157.20" y="111.21" width="3.85" height="5.873" fill="#cc1435" fill-opacity="0.42"/>
<rect x="157.20" y="111.70" width="3.85" height="4.9" fill="#cc1435"/>
<rect x="161.00" y="111.21" width="10.95" height="5.873" fill="#e98f8c" fill-opacity="0.42"/>
<rect x="161.00" y="111.70" width="10.95" height="4.9" fill="#e98f8c"/>
<rect x="171.90" y="111.21" width="1.15" height="5.873" fill="#134689" fill-opacity="0.42"/>
<rect x="171.90" y="111.70" width="1.15" height="4.9" fill="#134689"/>
<line x1="150.70" y1="114.15" x2="153.70" y2="114.15" stroke="#1a1a1a" stroke-width="1.0"/>
<text x="147.60" y="116.45" font-size="6.5" text-anchor="end" fill="#3a3a3a" textLength="6.6" lengthAdjust="spacingAndGlyphs" >14</text>
<rect x="157.20" y="117.09" width="8.95" height="5.873" fill="#e98f8c" fill-opacity="0.42"/>
<rect x="157.20" y="117.57" width="8.95" height="4.9" fill="#e98f8c"/>
<rect x="166.10" y="117.09" width="13.45" height="5.873" fill="#b7d8a4" fill-opacity="0.42"/>
<rect x="166.10" y="117.57" width="13.45" height="4.9" fill="#b7d8a4"/>
<rect x="179.50" y="117.09" width="25.05" height="5.873" fill="#134689" fill-opacity="0.42"/>
<rect x="179.50" y="117.57" width="25.05" height="4.9" fill="#134689"/>
<line x1="150.70" y1="120.02" x2="153.70" y2="120.02" stroke="#1a1a1a" stroke-width="1.0"/>
<text x="147.60" y="122.32" font-size="6.5" text-anchor="end" fill="#3a3a3a" textLength="6.6" lengthAdjust="spacingAndGlyphs" >15</text>
<rect x="157.20" y="122.96" width="14.35" height="5.873" fill="#e98f8c" fill-opacity="0.42"/>
<rect x="157.20" y="123.44" width="14.35" height="4.9" fill="#e98f8c"/>
<rect x="171.50" y="122.96" width="33.05" height="5.873" fill="#b7d8a4" fill-opacity="0.42"/>
<rect x="171.50" y="123.44" width="33.05" height="4.9" fill="#b7d8a4"/>
<rect x="204.50" y="122.96" width="3.55" height="5.873" fill="#134689" fill-opacity="0.42"/>
<rect x="204.50" y="123.44" width="3.55" height="4.9" fill="#134689"/>
<line x1="150.70" y1="125.89" x2="153.70" y2="125.89" stroke="#1a1a1a" stroke-width="1.0"/>
<text x="147.60" y="128.19" font-size="6.5" text-anchor="end" fill="#3a3a3a" textLength="6.6" lengthAdjust="spacingAndGlyphs" >16</text>
<rect x="157.20" y="128.83" width="5.05" height="5.873" fill="#cc1435" fill-opacity="0.42"/>
<rect x="157.20" y="129.32" width="5.05" height="4.9" fill="#cc1435"/>
<rect x="162.20" y="128.83" width="8.95" height="5.873" fill="#35a53a" fill-opacity="0.42"/>
<rect x="162.20" y="129.32" width="8.95" height="4.9" fill="#35a53a"/>
<rect x="171.10" y="128.83" width="17.05" height="5.873" fill="#b7d8a4" fill-opacity="0.42"/>
<rect x="171.10" y="129.32" width="17.05" height="4.9" fill="#b7d8a4"/>
<rect x="188.10" y="128.83" width="29.25" height="5.873" fill="#134689" fill-opacity="0.42"/>
<rect x="188.10" y="129.32" width="29.25" height="4.9" fill="#134689"/>
<line x1="150.70" y1="131.77" x2="153.70" y2="131.77" stroke="#1a1a1a" stroke-width="1.0"/>
<text x="147.60" y="134.07" font-size="6.5" text-anchor="end" fill="#3a3a3a" textLength="6.6" lengthAdjust="spacingAndGlyphs" >17</text>
<rect x="157.20" y="134.70" width="3.85" height="5.873" fill="#e98f8c" fill-opacity="0.42"/>
<rect x="157.20" y="135.19" width="3.85" height="4.9" fill="#e98f8c"/>
<rect x="161.00" y="134.70" width="24.65" height="5.873" fill="#b7d8a4" fill-opacity="0.42"/>
<rect x="161.00" y="135.19" width="24.65" height="4.9" fill="#b7d8a4"/>
<rect x="185.60" y="134.70" width="13.25" height="5.873" fill="#134689" fill-opacity="0.42"/>
<rect x="185.60" y="135.19" width="13.25" height="4.9" fill="#134689"/>
<line x1="150.70" y1="137.64" x2="153.70" y2="137.64" stroke="#1a1a1a" stroke-width="1.0"/>
<text x="147.60" y="139.94" font-size="6.5" text-anchor="end" fill="#3a3a3a" textLength="6.6" lengthAdjust="spacingAndGlyphs" >18</text>
<rect x="157.20" y="140.58" width="3.55" height="5.873" fill="#e98f8c" fill-opacity="0.42"/>
<rect x="157.20" y="141.06" width="3.55" height="4.9" fill="#e98f8c"/>
<rect x="160.70" y="140.58" width="21.25" height="5.873" fill="#b7d8a4" fill-opacity="0.42"/>
<rect x="160.70" y="141.06" width="21.25" height="4.9" fill="#b7d8a4"/>
<rect x="181.90" y="140.58" width="10.35" height="5.873" fill="#134689" fill-opacity="0.42"/>
<rect x="181.90" y="141.06" width="10.35" height="4.9" fill="#134689"/>
<line x1="150.70" y1="143.51" x2="153.70" y2="143.51" stroke="#1a1a1a" stroke-width="1.0"/>
<text x="147.60" y="145.81" font-size="6.5" text-anchor="end" fill="#3a3a3a" textLength="6.6" lengthAdjust="spacingAndGlyphs" >19</text>
<rect x="157.20" y="146.45" width="7.85" height="5.873" fill="#35a53a" fill-opacity="0.42"/>
<rect x="157.20" y="146.94" width="7.85" height="4.9" fill="#35a53a"/>
<rect x="165.00" y="146.45" width="19.05" height="5.873" fill="#b7d8a4" fill-opacity="0.42"/>
<rect x="165.00" y="146.94" width="19.05" height="4.9" fill="#b7d8a4"/>
<rect x="184.00" y="146.45" width="21.55" height="5.873" fill="#134689" fill-opacity="0.42"/>
<rect x="184.00" y="146.94" width="21.55" height="4.9" fill="#134689"/>
<line x1="150.70" y1="149.39" x2="153.70" y2="149.39" stroke="#1a1a1a" stroke-width="1.0"/>
<text x="147.60" y="151.69" font-size="6.5" text-anchor="end" fill="#3a3a3a" textLength="6.6" lengthAdjust="spacingAndGlyphs" >20</text>
<rect x="157.20" y="152.32" width="3.85" height="5.873" fill="#cc1435" fill-opacity="0.42"/>
<rect x="157.20" y="152.81" width="3.85" height="4.9" fill="#cc1435"/>
<rect x="161.00" y="152.32" width="5.85" height="5.873" fill="#35a53a" fill-opacity="0.42"/>
<rect x="161.00" y="152.81" width="5.85" height="4.9" fill="#35a53a"/>
<rect x="166.80" y="152.32" width="11.55" height="5.873" fill="#b7d8a4" fill-opacity="0.42"/>
<rect x="166.80" y="152.81" width="11.55" height="4.9" fill="#b7d8a4"/>
<rect x="178.30" y="152.32" width="15.45" height="5.873" fill="#134689" fill-opacity="0.42"/>
<rect x="178.30" y="152.81" width="15.45" height="4.9" fill="#134689"/>
<line x1="150.70" y1="155.26" x2="153.70" y2="155.26" stroke="#1a1a1a" stroke-width="1.0"/>
<text x="147.60" y="157.56" font-size="6.5" text-anchor="end" fill="#3a3a3a" textLength="6.6" lengthAdjust="spacingAndGlyphs" >21</text>
<rect x="157.20" y="158.20" width="2.35" height="5.873" fill="#cc1435" fill-opacity="0.42"/>
<rect x="157.20" y="158.68" width="2.35" height="4.9" fill="#cc1435"/>
<rect x="159.50" y="158.20" width="9.75" height="5.873" fill="#35a53a" fill-opacity="0.42"/>
<rect x="159.50" y="158.68" width="9.75" height="4.9" fill="#35a53a"/>
<rect x="169.20" y="158.20" width="10.05" height="5.873" fill="#b7d8a4" fill-opacity="0.42"/>
<rect x="169.20" y="158.68" width="10.05" height="4.9" fill="#b7d8a4"/>
<rect x="179.20" y="158.20" width="22.35" height="5.873" fill="#134689" fill-opacity="0.42"/>
<rect x="179.20" y="158.68" width="22.35" height="4.9" fill="#134689"/>
<line x1="150.70" y1="161.13" x2="153.70" y2="161.13" stroke="#1a1a1a" stroke-width="1.0"/>
<text x="147.60" y="163.43" font-size="6.5" text-anchor="end" fill="#3a3a3a" textLength="6.6" lengthAdjust="spacingAndGlyphs" >22</text>
<rect x="157.20" y="164.07" width="2.85" height="5.873" fill="#cc1435" fill-opacity="0.42"/>
<rect x="157.20" y="164.56" width="2.85" height="4.9" fill="#cc1435"/>
<rect x="160.00" y="164.07" width="13.05" height="5.873" fill="#e98f8c" fill-opacity="0.42"/>
<rect x="160.00" y="164.56" width="13.05" height="4.9" fill="#e98f8c"/>
<rect x="173.00" y="164.07" width="2.85" height="5.873" fill="#b7d8a4" fill-opacity="0.42"/>
<rect x="173.00" y="164.56" width="2.85" height="4.9" fill="#b7d8a4"/>
<rect x="175.80" y="164.07" width="11.85" height="5.873" fill="#134689" fill-opacity="0.42"/>
<rect x="175.80" y="164.56" width="11.85" height="4.9" fill="#134689"/>
<line x1="150.70" y1="167.01" x2="153.70" y2="167.01" stroke="#1a1a1a" stroke-width="1.0"/>
<text x="147.60" y="169.31" font-size="6.5" text-anchor="end" fill="#3a3a3a" textLength="6.6" lengthAdjust="spacingAndGlyphs" >23</text>
<rect x="157.20" y="169.94" width="1.75" height="5.873" fill="#cc1435" fill-opacity="0.42"/>
<rect x="157.20" y="170.43" width="1.75" height="4.9" fill="#cc1435"/>
<rect x="158.90" y="169.94" width="8.05" height="5.873" fill="#e98f8c" fill-opacity="0.42"/>
<rect x="158.90" y="170.43" width="8.05" height="4.9" fill="#e98f8c"/>
<rect x="166.90" y="169.94" width="11.55" height="5.873" fill="#b7d8a4" fill-opacity="0.42"/>
<rect x="166.90" y="170.43" width="11.55" height="4.9" fill="#b7d8a4"/>
<rect x="178.40" y="169.94" width="22.05" height="5.873" fill="#134689" fill-opacity="0.42"/>
<rect x="178.40" y="170.43" width="22.05" height="4.9" fill="#134689"/>
<line x1="150.70" y1="172.88" x2="153.70" y2="172.88" stroke="#1a1a1a" stroke-width="1.0"/>
<text x="147.60" y="175.18" font-size="6.5" text-anchor="end" fill="#3a3a3a" textLength="6.6" lengthAdjust="spacingAndGlyphs" >24</text>
<rect x="157.20" y="175.82" width="2.85" height="5.873" fill="#561b63" fill-opacity="0.42"/>
<rect x="157.20" y="176.30" width="2.85" height="4.9" fill="#561b63"/>
<rect x="160.00" y="175.82" width="17.05" height="5.873" fill="#b7d8a4" fill-opacity="0.42"/>
<rect x="160.00" y="176.30" width="17.05" height="4.9" fill="#b7d8a4"/>
<rect x="177.00" y="175.82" width="6.95" height="5.873" fill="#134689" fill-opacity="0.42"/>
<rect x="177.00" y="176.30" width="6.95" height="4.9" fill="#134689"/>
<line x1="150.70" y1="178.75" x2="153.70" y2="178.75" stroke="#1a1a1a" stroke-width="1.0"/>
<text x="147.60" y="181.05" font-size="6.5" text-anchor="end" fill="#3a3a3a" textLength="6.6" lengthAdjust="spacingAndGlyphs" >25</text>
<rect x="157.20" y="181.69" width="5.05" height="5.873" fill="#cc1435" fill-opacity="0.42"/>
<rect x="157.20" y="182.18" width="5.05" height="4.9" fill="#cc1435"/>
<rect x="162.20" y="181.69" width="42.85" height="5.873" fill="#b7d8a4" fill-opacity="0.42"/>
<rect x="162.20" y="182.18" width="42.85" height="4.9" fill="#b7d8a4"/>
<rect x="205.00" y="181.69" width="21.55" height="5.873" fill="#134689" fill-opacity="0.42"/>
<rect x="205.00" y="182.18" width="21.55" height="4.9" fill="#134689"/>
<line x1="150.70" y1="184.62" x2="153.70" y2="184.62" stroke="#1a1a1a" stroke-width="1.0"/>
<text x="147.60" y="186.93" font-size="6.5" text-anchor="end" fill="#3a3a3a" textLength="6.6" lengthAdjust="spacingAndGlyphs" >26</text>
<rect x="157.20" y="187.56" width="1.25" height="5.873" fill="#f39a1e" fill-opacity="0.42"/>
<rect x="157.20" y="188.05" width="1.25" height="4.9" fill="#f39a1e"/>
<rect x="158.40" y="187.56" width="4.65" height="5.873" fill="#cc1435" fill-opacity="0.42"/>
<rect x="158.40" y="188.05" width="4.65" height="4.9" fill="#cc1435"/>
<rect x="163.00" y="187.56" width="10.05" height="5.873" fill="#35a53a" fill-opacity="0.42"/>
<rect x="163.00" y="188.05" width="10.05" height="4.9" fill="#35a53a"/>
<rect x="173.00" y="187.56" width="14.65" height="5.873" fill="#b7d8a4" fill-opacity="0.42"/>
<rect x="173.00" y="188.05" width="14.65" height="4.9" fill="#b7d8a4"/>
<rect x="187.60" y="187.56" width="10.85" height="5.873" fill="#134689" fill-opacity="0.42"/>
<rect x="187.60" y="188.05" width="10.85" height="4.9" fill="#134689"/>
<line x1="150.70" y1="190.50" x2="153.70" y2="190.50" stroke="#1a1a1a" stroke-width="1.0"/>
<text x="147.60" y="192.80" font-size="6.5" text-anchor="end" fill="#3a3a3a" textLength="6.6" lengthAdjust="spacingAndGlyphs" >27</text>
<rect x="157.20" y="193.43" width="3.85" height="5.873" fill="#35a53a" fill-opacity="0.42"/>
<rect x="157.20" y="193.92" width="3.85" height="4.9" fill="#35a53a"/>
<rect x="161.00" y="193.43" width="11.25" height="5.873" fill="#b7d8a4" fill-opacity="0.42"/>
<rect x="161.00" y="193.92" width="11.25" height="4.9" fill="#b7d8a4"/>
<rect x="172.20" y="193.43" width="27.75" height="5.873" fill="#134689" fill-opacity="0.42"/>
<rect x="172.20" y="193.92" width="27.75" height="4.9" fill="#134689"/>
<line x1="150.70" y1="196.37" x2="153.70" y2="196.37" stroke="#1a1a1a" stroke-width="1.0"/>
<text x="147.60" y="198.67" font-size="6.5" text-anchor="end" fill="#3a3a3a" textLength="6.6" lengthAdjust="spacingAndGlyphs" >28</text>
<rect x="157.20" y="199.31" width="5.45" height="5.873" fill="#cc1435" fill-opacity="0.42"/>
<rect x="157.20" y="199.79" width="5.45" height="4.9" fill="#cc1435"/>
<rect x="162.60" y="199.31" width="2.55" height="5.873" fill="#e98f8c" fill-opacity="0.42"/>
<rect x="162.60" y="199.79" width="2.55" height="4.9" fill="#e98f8c"/>
<rect x="165.10" y="199.31" width="22.65" height="5.873" fill="#b7d8a4" fill-opacity="0.42"/>
<rect x="165.10" y="199.79" width="22.65" height="4.9" fill="#b7d8a4"/>
<rect x="187.70" y="199.31" width="23.05" height="5.873" fill="#134689" fill-opacity="0.42"/>
<rect x="187.70" y="199.79" width="23.05" height="4.9" fill="#134689"/>
<line x1="150.70" y1="202.24" x2="153.70" y2="202.24" stroke="#1a1a1a" stroke-width="1.0"/>
<text x="147.60" y="204.54" font-size="6.5" text-anchor="end" fill="#3a3a3a" textLength="6.6" lengthAdjust="spacingAndGlyphs" >30</text>
<rect x="157.20" y="205.18" width="2.85" height="5.873" fill="#561b63" fill-opacity="0.42"/>
<rect x="157.20" y="205.67" width="2.85" height="4.9" fill="#561b63"/>
<rect x="160.00" y="205.18" width="10.05" height="5.873" fill="#35a53a" fill-opacity="0.42"/>
<rect x="160.00" y="205.67" width="10.05" height="4.9" fill="#35a53a"/>
<rect x="170.00" y="205.18" width="17.05" height="5.873" fill="#b7d8a4" fill-opacity="0.42"/>
<rect x="170.00" y="205.67" width="17.05" height="4.9" fill="#b7d8a4"/>
<rect x="187.00" y="205.18" width="3.85" height="5.873" fill="#134689" fill-opacity="0.42"/>
<rect x="187.00" y="205.67" width="3.85" height="4.9" fill="#134689"/>
<line x1="150.70" y1="208.12" x2="153.70" y2="208.12" stroke="#1a1a1a" stroke-width="1.0"/>
<text x="147.60" y="210.42" font-size="6.5" text-anchor="end" fill="#3a3a3a" textLength="6.6" lengthAdjust="spacingAndGlyphs" >31</text>
<rect x="157.20" y="211.05" width="10.95" height="5.873" fill="#e98f8c" fill-opacity="0.42"/>
<rect x="157.20" y="211.54" width="10.95" height="4.9" fill="#e98f8c"/>
<rect x="168.10" y="211.05" width="20.05" height="5.873" fill="#b7d8a4" fill-opacity="0.42"/>
<rect x="168.10" y="211.54" width="20.05" height="4.9" fill="#b7d8a4"/>
<rect x="188.10" y="211.05" width="16.95" height="5.873" fill="#134689" fill-opacity="0.42"/>
<rect x="188.10" y="211.54" width="16.95" height="4.9" fill="#134689"/>
<line x1="150.70" y1="213.99" x2="153.70" y2="213.99" stroke="#1a1a1a" stroke-width="1.0"/>
<text x="147.60" y="216.29" font-size="6.5" text-anchor="end" fill="#3a3a3a" textLength="6.6" lengthAdjust="spacingAndGlyphs" >32</text>
<rect x="157.20" y="216.93" width="6.65" height="5.873" fill="#e98f8c" fill-opacity="0.42"/>
<rect x="157.20" y="217.41" width="6.65" height="4.9" fill="#e98f8c"/>
<rect x="163.80" y="216.93" width="12.05" height="5.873" fill="#b7d8a4" fill-opacity="0.42"/>
<rect x="163.80" y="217.41" width="12.05" height="4.9" fill="#b7d8a4"/>
<rect x="175.80" y="216.93" width="9.25" height="5.873" fill="#134689" fill-opacity="0.42"/>
<rect x="175.80" y="217.41" width="9.25" height="4.9" fill="#134689"/>
<line x1="150.70" y1="219.86" x2="153.70" y2="219.86" stroke="#1a1a1a" stroke-width="1.0"/>
<text x="147.60" y="222.16" font-size="6.5" text-anchor="end" fill="#3a3a3a" textLength="6.6" lengthAdjust="spacingAndGlyphs" >33</text>
<rect x="157.20" y="222.80" width="14.35" height="5.873" fill="#35a53a" fill-opacity="0.42"/>
<rect x="157.20" y="223.29" width="14.35" height="4.9" fill="#35a53a"/>
<rect x="171.50" y="222.80" width="10.85" height="5.873" fill="#b7d8a4" fill-opacity="0.42"/>
<rect x="171.50" y="223.29" width="10.85" height="4.9" fill="#b7d8a4"/>
<rect x="182.30" y="222.80" width="16.65" height="5.873" fill="#134689" fill-opacity="0.42"/>
<rect x="182.30" y="223.29" width="16.65" height="4.9" fill="#134689"/>
<line x1="150.70" y1="225.74" x2="153.70" y2="225.74" stroke="#1a1a1a" stroke-width="1.0"/>
<text x="147.60" y="228.04" font-size="6.5" text-anchor="end" fill="#3a3a3a" textLength="6.6" lengthAdjust="spacingAndGlyphs" >34</text>
<rect x="157.20" y="228.67" width="4.85" height="5.873" fill="#cc1435" fill-opacity="0.42"/>
<rect x="157.20" y="229.16" width="4.85" height="4.9" fill="#cc1435"/>
<rect x="162.00" y="228.67" width="4.95" height="5.873" fill="#35a53a" fill-opacity="0.42"/>
<rect x="162.00" y="229.16" width="4.95" height="4.9" fill="#35a53a"/>
<rect x="166.90" y="228.67" width="21.25" height="5.873" fill="#b7d8a4" fill-opacity="0.42"/>
<rect x="166.90" y="229.16" width="21.25" height="4.9" fill="#b7d8a4"/>
<rect x="188.10" y="228.67" width="9.85" height="5.873" fill="#134689" fill-opacity="0.42"/>
<rect x="188.10" y="229.16" width="9.85" height="4.9" fill="#134689"/>
<line x1="150.70" y1="231.61" x2="153.70" y2="231.61" stroke="#1a1a1a" stroke-width="1.0"/>
<text x="147.60" y="233.91" font-size="6.5" text-anchor="end" fill="#3a3a3a" textLength="6.6" lengthAdjust="spacingAndGlyphs" >35</text>
<rect x="157.20" y="234.55" width="7.45" height="5.873" fill="#35a53a" fill-opacity="0.42"/>
<rect x="157.20" y="235.03" width="7.45" height="4.9" fill="#35a53a"/>
<rect x="164.60" y="234.55" width="19.25" height="5.873" fill="#b7d8a4" fill-opacity="0.42"/>
<rect x="164.60" y="235.03" width="19.25" height="4.9" fill="#b7d8a4"/>
<rect x="183.80" y="234.55" width="12.05" height="5.873" fill="#134689" fill-opacity="0.42"/>
<rect x="183.80" y="235.03" width="12.05" height="4.9" fill="#134689"/>
<line x1="150.70" y1="237.48" x2="153.70" y2="237.48" stroke="#1a1a1a" stroke-width="1.0"/>
<text x="147.60" y="239.78" font-size="6.5" text-anchor="end" fill="#3a3a3a" textLength="6.6" lengthAdjust="spacingAndGlyphs" >36</text>
<rect x="157.20" y="240.42" width="0.85" height="5.873" fill="#f39a1e" fill-opacity="0.42"/>
<rect x="157.20" y="240.91" width="0.85" height="4.9" fill="#f39a1e"/>
<rect x="158.00" y="240.42" width="7.55" height="5.873" fill="#35a53a" fill-opacity="0.42"/>
<rect x="158.00" y="240.91" width="7.55" height="4.9" fill="#35a53a"/>
<rect x="165.50" y="240.42" width="15.35" height="5.873" fill="#b7d8a4" fill-opacity="0.42"/>
<rect x="165.50" y="240.91" width="15.35" height="4.9" fill="#b7d8a4"/>
<rect x="180.80" y="240.42" width="19.15" height="5.873" fill="#134689" fill-opacity="0.42"/>
<rect x="180.80" y="240.91" width="19.15" height="4.9" fill="#134689"/>
<line x1="150.70" y1="243.36" x2="153.70" y2="243.36" stroke="#1a1a1a" stroke-width="1.0"/>
<text x="147.60" y="245.66" font-size="6.5" text-anchor="end" fill="#3a3a3a" textLength="6.6" lengthAdjust="spacingAndGlyphs" >37</text>
<rect x="157.20" y="246.29" width="3.85" height="5.873" fill="#f39a1e" fill-opacity="0.42"/>
<rect x="157.20" y="246.78" width="3.85" height="4.9" fill="#f39a1e"/>
<rect x="161.00" y="246.29" width="5.05" height="5.873" fill="#35a53a" fill-opacity="0.42"/>
<rect x="161.00" y="246.78" width="5.05" height="4.9" fill="#35a53a"/>
<rect x="166.00" y="246.29" width="11.25" height="5.873" fill="#b7d8a4" fill-opacity="0.42"/>
<rect x="166.00" y="246.78" width="11.25" height="4.9" fill="#b7d8a4"/>
<rect x="177.20" y="246.29" width="14.55" height="5.873" fill="#134689" fill-opacity="0.42"/>
<rect x="177.20" y="246.78" width="14.55" height="4.9" fill="#134689"/>
<line x1="150.70" y1="249.23" x2="153.70" y2="249.23" stroke="#1a1a1a" stroke-width="1.0"/>
<text x="147.60" y="251.53" font-size="6.5" text-anchor="end" fill="#3a3a3a" textLength="6.6" lengthAdjust="spacingAndGlyphs" >38</text>
<rect x="157.20" y="252.16" width="3.85" height="5.873" fill="#561b63" fill-opacity="0.42"/>
<rect x="157.20" y="252.65" width="3.85" height="4.9" fill="#561b63"/>
<rect x="161.00" y="252.16" width="5.05" height="5.873" fill="#35a53a" fill-opacity="0.42"/>
<rect x="161.00" y="252.65" width="5.05" height="4.9" fill="#35a53a"/>
<rect x="166.00" y="252.16" width="20.85" height="5.873" fill="#b7d8a4" fill-opacity="0.42"/>
<rect x="166.00" y="252.65" width="20.85" height="4.9" fill="#b7d8a4"/>
<rect x="186.80" y="252.16" width="0.85" height="5.873" fill="#134689" fill-opacity="0.42"/>
<rect x="186.80" y="252.65" width="0.85" height="4.9" fill="#134689"/>
<line x1="150.70" y1="255.10" x2="153.70" y2="255.10" stroke="#1a1a1a" stroke-width="1.0"/>
<text x="147.60" y="257.40" font-size="6.5" text-anchor="end" fill="#3a3a3a" textLength="6.6" lengthAdjust="spacingAndGlyphs" >39</text>
<rect x="157.20" y="258.04" width="0.85" height="5.873" fill="#e98f8c" fill-opacity="0.42"/>
<rect x="157.20" y="258.52" width="0.85" height="4.9" fill="#e98f8c"/>
<rect x="158.00" y="258.04" width="39.45" height="5.873" fill="#b7d8a4" fill-opacity="0.42"/>
<rect x="158.00" y="258.52" width="39.45" height="4.9" fill="#b7d8a4"/>
<rect x="197.40" y="258.04" width="12.65" height="5.873" fill="#9aa8cc" fill-opacity="0.42"/>
<rect x="197.40" y="258.52" width="12.65" height="4.9" fill="#9aa8cc"/>
<line x1="150.70" y1="260.97" x2="153.70" y2="260.97" stroke="#1a1a1a" stroke-width="1.0"/>
<text x="147.60" y="263.27" font-size="6.5" text-anchor="end" fill="#3a3a3a" textLength="6.6" lengthAdjust="spacingAndGlyphs" >40</text>
<rect x="157.20" y="263.91" width="1.75" height="5.873" fill="#cc1435" fill-opacity="0.42"/>
<rect x="157.20" y="264.40" width="1.75" height="4.9" fill="#cc1435"/>
<rect x="158.90" y="263.91" width="1.65" height="5.873" fill="#e98f8c" fill-opacity="0.42"/>
<rect x="158.90" y="264.40" width="1.65" height="4.9" fill="#e98f8c"/>
<rect x="160.50" y="263.91" width="23.45" height="5.873" fill="#b7d8a4" fill-opacity="0.42"/>
<rect x="160.50" y="264.40" width="23.45" height="4.9" fill="#b7d8a4"/>
<rect x="183.90" y="263.91" width="22.35" height="5.873" fill="#134689" fill-opacity="0.42"/>
<rect x="183.90" y="264.40" width="22.35" height="4.9" fill="#134689"/>
<line x1="150.70" y1="266.85" x2="153.70" y2="266.85" stroke="#1a1a1a" stroke-width="1.0"/>
<text x="147.60" y="269.15" font-size="6.5" text-anchor="end" fill="#3a3a3a" textLength="6.6" lengthAdjust="spacingAndGlyphs" >41</text>
<rect x="157.20" y="269.78" width="6.75" height="5.873" fill="#f39a1e" fill-opacity="0.42"/>
<rect x="157.20" y="270.27" width="6.75" height="4.9" fill="#f39a1e"/>
<rect x="163.90" y="269.78" width="6.65" height="5.873" fill="#35a53a" fill-opacity="0.42"/>
<rect x="163.90" y="270.27" width="6.65" height="4.9" fill="#35a53a"/>
<rect x="170.50" y="269.78" width="11.15" height="5.873" fill="#b7d8a4" fill-opacity="0.42"/>
<rect x="170.50" y="270.27" width="11.15" height="4.9" fill="#b7d8a4"/>
<rect x="181.60" y="269.78" width="4.85" height="5.873" fill="#134689" fill-opacity="0.42"/>
<rect x="181.60" y="270.27" width="4.85" height="4.9" fill="#134689"/>
<line x1="150.70" y1="272.72" x2="153.70" y2="272.72" stroke="#1a1a1a" stroke-width="1.0"/>
<text x="147.60" y="275.02" font-size="6.5" text-anchor="end" fill="#3a3a3a" textLength="6.6" lengthAdjust="spacingAndGlyphs" >42</text>
<rect x="157.20" y="275.66" width="4.25" height="5.873" fill="#cc1435" fill-opacity="0.42"/>
<rect x="157.20" y="276.14" width="4.25" height="4.9" fill="#cc1435"/>
<rect x="161.40" y="275.66" width="13.95" height="5.873" fill="#b7d8a4" fill-opacity="0.42"/>
<rect x="161.40" y="276.14" width="13.95" height="4.9" fill="#b7d8a4"/>
<rect x="175.30" y="275.66" width="1.55" height="5.873" fill="#134689" fill-opacity="0.42"/>
<rect x="175.30" y="276.14" width="1.55" height="4.9" fill="#134689"/>
<line x1="150.70" y1="278.59" x2="153.70" y2="278.59" stroke="#1a1a1a" stroke-width="1.0"/>
<text x="147.60" y="280.89" font-size="6.5" text-anchor="end" fill="#3a3a3a" textLength="6.6" lengthAdjust="spacingAndGlyphs" >43</text>
<path d="M153.70 34.30 V281.40 H230.00" fill="none" stroke="#1a1a1a" stroke-width="1"/>
<line x1="157.00" y1="281.40" x2="157.00" y2="284.40" stroke="#1a1a1a" stroke-width="0.8"/>
<text x="157.00" y="292.70" font-size="6.3" text-anchor="middle" fill="#333" >0.0</text>
<line x1="175.73" y1="281.40" x2="175.73" y2="284.40" stroke="#1a1a1a" stroke-width="0.8"/>
<text x="175.73" y="292.70" font-size="6.3" text-anchor="middle" fill="#333" >0.1</text>
<line x1="194.46" y1="281.40" x2="194.46" y2="284.40" stroke="#1a1a1a" stroke-width="0.8"/>
<text x="194.46" y="292.70" font-size="6.3" text-anchor="middle" fill="#333" >0.2</text>
<line x1="213.19" y1="281.40" x2="213.19" y2="284.40" stroke="#1a1a1a" stroke-width="0.8"/>
<text x="213.19" y="292.70" font-size="6.3" text-anchor="middle" fill="#333" >0.3</text>
<rect x="270.30" y="36.70" width="8.96" height="5.0" fill="#561b63"/>
<rect x="279.21" y="36.70" width="61.41" height="5.0" fill="#a085ab"/>
<rect x="340.57" y="36.70" width="5.33" height="5.0" fill="#f39a1e"/>
<rect x="345.84" y="36.70" width="5.43" height="5.0" fill="#e98f8c"/>
<rect x="351.22" y="36.70" width="5.43" height="5.0" fill="#b7d8a4"/>
<line x1="263.30" y1="39.20" x2="266.30" y2="39.20" stroke="#1a1a1a" stroke-width="1.0"/>
<text x="259.60" y="41.50" font-size="6.5" text-anchor="end" fill="#3a3a3a" textLength="6.6" lengthAdjust="spacingAndGlyphs" >01</text>
<rect x="270.30" y="42.82" width="8.40" height="5.0" fill="#561b63"/>
<rect x="278.65" y="42.82" width="60.64" height="5.0" fill="#a085ab"/>
<rect x="339.24" y="42.82" width="1.18" height="5.0" fill="#fdd19a"/>
<rect x="340.36" y="42.82" width="16.29" height="5.0" fill="#35a53a"/>
<line x1="263.30" y1="45.32" x2="266.30" y2="45.32" stroke="#1a1a1a" stroke-width="1.0"/>
<text x="259.60" y="47.62" font-size="6.5" text-anchor="end" fill="#3a3a3a" textLength="6.6" lengthAdjust="spacingAndGlyphs" >02</text>
<rect x="270.30" y="48.94" width="8.55" height="5.0" fill="#561b63"/>
<rect x="278.80" y="48.94" width="58.33" height="5.0" fill="#a085ab"/>
<rect x="337.09" y="48.94" width="0.97" height="5.0" fill="#fdd19a"/>
<rect x="338.01" y="48.94" width="18.64" height="5.0" fill="#35a53a"/>
<line x1="263.30" y1="51.44" x2="266.30" y2="51.44" stroke="#1a1a1a" stroke-width="1.0"/>
<text x="259.60" y="53.74" font-size="6.5" text-anchor="end" fill="#3a3a3a" textLength="6.6" lengthAdjust="spacingAndGlyphs" >03</text>
<rect x="270.30" y="55.06" width="7.63" height="5.0" fill="#561b63"/>
<rect x="277.88" y="55.06" width="62.07" height="5.0" fill="#a085ab"/>
<rect x="339.90" y="55.06" width="1.79" height="5.0" fill="#fdd19a"/>
<rect x="341.64" y="55.06" width="15.01" height="5.0" fill="#35a53a"/>
<line x1="263.30" y1="57.56" x2="266.30" y2="57.56" stroke="#1a1a1a" stroke-width="1.0"/>
<text x="259.60" y="59.86" font-size="6.5" text-anchor="end" fill="#3a3a3a" textLength="6.6" lengthAdjust="spacingAndGlyphs" >04</text>
<rect x="270.30" y="61.18" width="6.35" height="5.0" fill="#561b63"/>
<rect x="276.60" y="61.18" width="55.98" height="5.0" fill="#a085ab"/>
<rect x="332.53" y="61.18" width="1.07" height="5.0" fill="#fdd19a"/>
<rect x="333.55" y="61.18" width="23.10" height="5.0" fill="#35a53a"/>
<line x1="263.30" y1="63.68" x2="266.30" y2="63.68" stroke="#1a1a1a" stroke-width="1.0"/>
<text x="259.60" y="65.98" font-size="6.5" text-anchor="end" fill="#3a3a3a" textLength="6.6" lengthAdjust="spacingAndGlyphs" >05</text>
<rect x="270.30" y="67.30" width="6.20" height="5.0" fill="#561b63"/>
<rect x="276.45" y="67.30" width="61.71" height="5.0" fill="#a085ab"/>
<rect x="338.11" y="67.30" width="0.82" height="5.0" fill="#fdd19a"/>
<rect x="338.88" y="67.30" width="17.77" height="5.0" fill="#35a53a"/>
<line x1="263.30" y1="69.80" x2="266.30" y2="69.80" stroke="#1a1a1a" stroke-width="1.0"/>
<text x="259.60" y="72.10" font-size="6.5" text-anchor="end" fill="#3a3a3a" textLength="6.6" lengthAdjust="spacingAndGlyphs" >06</text>
<rect x="270.30" y="73.42" width="8.14" height="5.0" fill="#561b63"/>
<rect x="278.39" y="73.42" width="61.71" height="5.0" fill="#a085ab"/>
<rect x="340.06" y="73.42" width="1.23" height="5.0" fill="#fdd19a"/>
<rect x="341.24" y="73.42" width="15.41" height="5.0" fill="#35a53a"/>
<line x1="263.30" y1="75.92" x2="266.30" y2="75.92" stroke="#1a1a1a" stroke-width="1.0"/>
<text x="259.60" y="78.22" font-size="6.5" text-anchor="end" fill="#3a3a3a" textLength="6.6" lengthAdjust="spacingAndGlyphs" >07</text>
<rect x="270.30" y="79.54" width="0.66" height="5.0" fill="#561b63"/>
<rect x="270.91" y="79.54" width="65.61" height="5.0" fill="#a085ab"/>
<rect x="336.47" y="79.54" width="2.25" height="5.0" fill="#fdd19a"/>
<rect x="338.67" y="79.54" width="17.98" height="5.0" fill="#35a53a"/>
<line x1="263.30" y1="82.04" x2="266.30" y2="82.04" stroke="#1a1a1a" stroke-width="1.0"/>
<text x="259.60" y="84.34" font-size="6.5" text-anchor="end" fill="#3a3a3a" textLength="6.6" lengthAdjust="spacingAndGlyphs" >08</text>
<rect x="270.30" y="85.66" width="7.94" height="5.0" fill="#561b63"/>
<rect x="278.19" y="85.66" width="62.07" height="5.0" fill="#a085ab"/>
<rect x="340.21" y="85.66" width="1.48" height="5.0" fill="#fdd19a"/>
<rect x="341.64" y="85.66" width="15.01" height="5.0" fill="#35a53a"/>
<line x1="263.30" y1="88.16" x2="266.30" y2="88.16" stroke="#1a1a1a" stroke-width="1.0"/>
<text x="259.60" y="90.46" font-size="6.5" text-anchor="end" fill="#3a3a3a" textLength="6.6" lengthAdjust="spacingAndGlyphs" >09</text>
<rect x="270.30" y="91.78" width="9.17" height="5.0" fill="#561b63"/>
<rect x="279.42" y="91.78" width="68.58" height="5.0" fill="#a085ab"/>
<rect x="347.94" y="91.78" width="5.07" height="5.0" fill="#f39a1e"/>
<rect x="352.96" y="91.78" width="3.69" height="5.0" fill="#e98f8c"/>
<line x1="263.30" y1="94.28" x2="266.30" y2="94.28" stroke="#1a1a1a" stroke-width="1.0"/>
<text x="259.60" y="96.58" font-size="6.5" text-anchor="end" fill="#3a3a3a" textLength="6.6" lengthAdjust="spacingAndGlyphs" >10</text>
<rect x="270.30" y="97.90" width="8.55" height="5.0" fill="#561b63"/>
<rect x="278.80" y="97.90" width="60.64" height="5.0" fill="#a085ab"/>
<rect x="339.39" y="97.90" width="1.79" height="5.0" fill="#e98f8c"/>
<rect x="341.13" y="97.90" width="15.52" height="5.0" fill="#35a53a"/>
<line x1="263.30" y1="100.40" x2="266.30" y2="100.40" stroke="#1a1a1a" stroke-width="1.0"/>
<text x="259.60" y="102.70" font-size="6.5" text-anchor="end" fill="#3a3a3a" textLength="6.6" lengthAdjust="spacingAndGlyphs" >11</text>
<rect x="270.30" y="104.02" width="9.99" height="5.0" fill="#561b63"/>
<rect x="280.24" y="104.02" width="66.79" height="5.0" fill="#a085ab"/>
<rect x="346.97" y="104.02" width="4.56" height="5.0" fill="#f39a1e"/>
<rect x="351.48" y="104.02" width="5.17" height="5.0" fill="#e98f8c"/>
<line x1="263.30" y1="106.52" x2="266.30" y2="106.52" stroke="#1a1a1a" stroke-width="1.0"/>
<text x="259.60" y="108.82" font-size="6.5" text-anchor="end" fill="#3a3a3a" textLength="6.6" lengthAdjust="spacingAndGlyphs" >12</text>
<rect x="270.30" y="110.14" width="9.17" height="5.0" fill="#561b63"/>
<rect x="279.42" y="110.14" width="66.84" height="5.0" fill="#a085ab"/>
<rect x="346.20" y="110.14" width="1.38" height="5.0" fill="#fdd19a"/>
<rect x="347.53" y="110.14" width="9.12" height="5.0" fill="#35a53a"/>
<line x1="263.30" y1="112.64" x2="266.30" y2="112.64" stroke="#1a1a1a" stroke-width="1.0"/>
<text x="259.60" y="114.94" font-size="6.5" text-anchor="end" fill="#3a3a3a" textLength="6.6" lengthAdjust="spacingAndGlyphs" >13</text>
<rect x="270.30" y="116.26" width="8.14" height="5.0" fill="#561b63"/>
<rect x="278.39" y="116.26" width="62.07" height="5.0" fill="#a085ab"/>
<rect x="340.42" y="116.26" width="1.64" height="5.0" fill="#fdd19a"/>
<rect x="342.00" y="116.26" width="14.65" height="5.0" fill="#35a53a"/>
<line x1="263.30" y1="118.76" x2="266.30" y2="118.76" stroke="#1a1a1a" stroke-width="1.0"/>
<text x="259.60" y="121.06" font-size="6.5" text-anchor="end" fill="#3a3a3a" textLength="6.6" lengthAdjust="spacingAndGlyphs" >14</text>
<rect x="270.30" y="122.38" width="7.12" height="5.0" fill="#561b63"/>
<rect x="277.37" y="122.38" width="57.77" height="5.0" fill="#a085ab"/>
<rect x="335.09" y="122.38" width="2.10" height="5.0" fill="#f39a1e"/>
<rect x="337.14" y="122.38" width="19.51" height="5.0" fill="#35a53a"/>
<line x1="263.30" y1="124.88" x2="266.30" y2="124.88" stroke="#1a1a1a" stroke-width="1.0"/>
<text x="259.60" y="127.18" font-size="6.5" text-anchor="end" fill="#3a3a3a" textLength="6.6" lengthAdjust="spacingAndGlyphs" >15</text>
<rect x="270.30" y="128.50" width="9.17" height="5.0" fill="#561b63"/>
<rect x="279.42" y="128.50" width="64.07" height="5.0" fill="#a085ab"/>
<rect x="343.44" y="128.50" width="0.82" height="5.0" fill="#fdd19a"/>
<rect x="344.21" y="128.50" width="12.44" height="5.0" fill="#35a53a"/>
<line x1="263.30" y1="131.00" x2="266.30" y2="131.00" stroke="#1a1a1a" stroke-width="1.0"/>
<text x="259.60" y="133.30" font-size="6.5" text-anchor="end" fill="#3a3a3a" textLength="6.6" lengthAdjust="spacingAndGlyphs" >16</text>
<rect x="270.30" y="134.62" width="9.99" height="5.0" fill="#561b63"/>
<rect x="280.24" y="134.62" width="65.56" height="5.0" fill="#a085ab"/>
<rect x="345.74" y="134.62" width="4.30" height="5.0" fill="#f39a1e"/>
<rect x="349.99" y="134.62" width="6.35" height="5.0" fill="#e98f8c"/>
<rect x="356.29" y="134.62" width="0.36" height="5.0" fill="#9aa8cc"/>
<line x1="263.30" y1="137.12" x2="266.30" y2="137.12" stroke="#1a1a1a" stroke-width="1.0"/>
<text x="259.60" y="139.42" font-size="6.5" text-anchor="end" fill="#3a3a3a" textLength="6.6" lengthAdjust="spacingAndGlyphs" >17</text>
<rect x="270.30" y="140.74" width="6.96" height="5.0" fill="#561b63"/>
<rect x="277.21" y="140.74" width="64.07" height="5.0" fill="#a085ab"/>
<rect x="341.24" y="140.74" width="5.43" height="5.0" fill="#f39a1e"/>
<rect x="346.61" y="140.74" width="5.33" height="5.0" fill="#e98f8c"/>
<rect x="351.89" y="140.74" width="4.76" height="5.0" fill="#b7d8a4"/>
<line x1="263.30" y1="143.24" x2="266.30" y2="143.24" stroke="#1a1a1a" stroke-width="1.0"/>
<text x="259.60" y="145.54" font-size="6.5" text-anchor="end" fill="#3a3a3a" textLength="6.6" lengthAdjust="spacingAndGlyphs" >18</text>
<rect x="270.30" y="146.86" width="9.17" height="5.0" fill="#561b63"/>
<rect x="279.42" y="146.86" width="63.30" height="5.0" fill="#a085ab"/>
<rect x="342.67" y="146.86" width="4.30" height="5.0" fill="#f39a1e"/>
<rect x="346.92" y="146.86" width="4.45" height="5.0" fill="#e98f8c"/>
<rect x="351.32" y="146.86" width="5.33" height="5.0" fill="#b7d8a4"/>
<line x1="263.30" y1="149.36" x2="266.30" y2="149.36" stroke="#1a1a1a" stroke-width="1.0"/>
<text x="259.60" y="151.66" font-size="6.5" text-anchor="end" fill="#3a3a3a" textLength="6.6" lengthAdjust="spacingAndGlyphs" >19</text>
<rect x="270.30" y="152.98" width="9.73" height="5.0" fill="#561b63"/>
<rect x="279.98" y="152.98" width="68.01" height="5.0" fill="#a085ab"/>
<rect x="347.94" y="152.98" width="2.66" height="5.0" fill="#f39a1e"/>
<rect x="350.56" y="152.98" width="5.07" height="5.0" fill="#e98f8c"/>
<rect x="355.58" y="152.98" width="1.07" height="5.0" fill="#9aa8cc"/>
<line x1="263.30" y1="155.48" x2="266.30" y2="155.48" stroke="#1a1a1a" stroke-width="1.0"/>
<text x="259.60" y="157.78" font-size="6.5" text-anchor="end" fill="#3a3a3a" textLength="6.6" lengthAdjust="spacingAndGlyphs" >20</text>
<rect x="270.30" y="159.10" width="9.53" height="5.0" fill="#561b63"/>
<rect x="279.78" y="159.10" width="67.19" height="5.0" fill="#a085ab"/>
<rect x="346.92" y="159.10" width="1.64" height="5.0" fill="#f39a1e"/>
<rect x="348.51" y="159.10" width="2.10" height="5.0" fill="#fdd19a"/>
<rect x="350.56" y="159.10" width="6.09" height="5.0" fill="#e98f8c"/>
<line x1="263.30" y1="161.60" x2="266.30" y2="161.60" stroke="#1a1a1a" stroke-width="1.0"/>
<text x="259.60" y="163.90" font-size="6.5" text-anchor="end" fill="#3a3a3a" textLength="6.6" lengthAdjust="spacingAndGlyphs" >21</text>
<rect x="270.30" y="165.22" width="8.40" height="5.0" fill="#561b63"/>
<rect x="278.65" y="165.22" width="66.17" height="5.0" fill="#a085ab"/>
<rect x="344.77" y="165.22" width="2.97" height="5.0" fill="#fdd19a"/>
<rect x="347.69" y="165.22" width="5.79" height="5.0" fill="#e98f8c"/>
<rect x="353.42" y="165.22" width="3.23" height="5.0" fill="#b7d8a4"/>
<line x1="263.30" y1="167.72" x2="266.30" y2="167.72" stroke="#1a1a1a" stroke-width="1.0"/>
<text x="259.60" y="170.02" font-size="6.5" text-anchor="end" fill="#3a3a3a" textLength="6.6" lengthAdjust="spacingAndGlyphs" >22</text>
<rect x="270.30" y="171.34" width="8.14" height="5.0" fill="#561b63"/>
<rect x="278.39" y="171.34" width="69.86" height="5.0" fill="#a085ab"/>
<rect x="348.20" y="171.34" width="2.41" height="5.0" fill="#f39a1e"/>
<rect x="350.56" y="171.34" width="6.09" height="5.0" fill="#e98f8c"/>
<line x1="263.30" y1="173.84" x2="266.30" y2="173.84" stroke="#1a1a1a" stroke-width="1.0"/>
<text x="259.60" y="176.14" font-size="6.5" text-anchor="end" fill="#3a3a3a" textLength="6.6" lengthAdjust="spacingAndGlyphs" >23</text>
<rect x="270.30" y="177.46" width="7.78" height="5.0" fill="#561b63"/>
<rect x="278.03" y="177.46" width="62.23" height="5.0" fill="#a085ab"/>
<rect x="340.21" y="177.46" width="1.23" height="5.0" fill="#fdd19a"/>
<rect x="341.39" y="177.46" width="15.26" height="5.0" fill="#35a53a"/>
<line x1="263.30" y1="179.96" x2="266.30" y2="179.96" stroke="#1a1a1a" stroke-width="1.0"/>
<text x="259.60" y="182.26" font-size="6.5" text-anchor="end" fill="#3a3a3a" textLength="6.6" lengthAdjust="spacingAndGlyphs" >24</text>
<rect x="270.30" y="183.58" width="9.53" height="5.0" fill="#561b63"/>
<rect x="279.78" y="183.58" width="65.56" height="5.0" fill="#a085ab"/>
<rect x="345.28" y="183.58" width="3.84" height="5.0" fill="#f39a1e"/>
<rect x="349.07" y="183.58" width="5.43" height="5.0" fill="#e98f8c"/>
<rect x="354.45" y="183.58" width="2.20" height="5.0" fill="#9aa8cc"/>
<line x1="263.30" y1="186.08" x2="266.30" y2="186.08" stroke="#1a1a1a" stroke-width="1.0"/>
<text x="259.60" y="188.38" font-size="6.5" text-anchor="end" fill="#3a3a3a" textLength="6.6" lengthAdjust="spacingAndGlyphs" >25</text>
<rect x="270.30" y="189.70" width="8.40" height="5.0" fill="#561b63"/>
<rect x="278.65" y="189.70" width="62.89" height="5.0" fill="#a085ab"/>
<rect x="341.49" y="189.70" width="0.97" height="5.0" fill="#fdd19a"/>
<rect x="342.41" y="189.70" width="13.83" height="5.0" fill="#35a53a"/>
<rect x="356.19" y="189.70" width="0.46" height="5.0" fill="#b7d8a4"/>
<line x1="263.30" y1="192.20" x2="266.30" y2="192.20" stroke="#1a1a1a" stroke-width="1.0"/>
<text x="259.60" y="194.50" font-size="6.5" text-anchor="end" fill="#3a3a3a" textLength="6.6" lengthAdjust="spacingAndGlyphs" >26</text>
<rect x="270.30" y="195.82" width="9.53" height="5.0" fill="#561b63"/>
<rect x="279.78" y="195.82" width="57.31" height="5.0" fill="#a085ab"/>
<rect x="337.04" y="195.82" width="1.48" height="5.0" fill="#fdd19a"/>
<rect x="338.47" y="195.82" width="18.18" height="5.0" fill="#35a53a"/>
<line x1="263.30" y1="198.32" x2="266.30" y2="198.32" stroke="#1a1a1a" stroke-width="1.0"/>
<text x="259.60" y="200.62" font-size="6.5" text-anchor="end" fill="#3a3a3a" textLength="6.6" lengthAdjust="spacingAndGlyphs" >27</text>
<rect x="270.30" y="201.94" width="9.17" height="5.0" fill="#561b63"/>
<rect x="279.42" y="201.94" width="53.42" height="5.0" fill="#a085ab"/>
<rect x="332.78" y="201.94" width="2.71" height="5.0" fill="#fdd19a"/>
<rect x="335.45" y="201.94" width="1.84" height="5.0" fill="#e98f8c"/>
<rect x="337.24" y="201.94" width="19.41" height="5.0" fill="#35a53a"/>
<line x1="263.30" y1="204.44" x2="266.30" y2="204.44" stroke="#1a1a1a" stroke-width="1.0"/>
<text x="259.60" y="206.74" font-size="6.5" text-anchor="end" fill="#3a3a3a" textLength="6.6" lengthAdjust="spacingAndGlyphs" >28</text>
<rect x="270.30" y="208.06" width="8.96" height="5.0" fill="#561b63"/>
<rect x="279.21" y="208.06" width="56.54" height="5.0" fill="#a085ab"/>
<rect x="335.70" y="208.06" width="3.43" height="5.0" fill="#f39a1e"/>
<rect x="339.08" y="208.06" width="5.58" height="5.0" fill="#e98f8c"/>
<rect x="344.62" y="208.06" width="12.03" height="5.0" fill="#b7d8a4"/>
<line x1="263.30" y1="210.56" x2="266.30" y2="210.56" stroke="#1a1a1a" stroke-width="1.0"/>
<text x="259.60" y="212.86" font-size="6.5" text-anchor="end" fill="#3a3a3a" textLength="6.6" lengthAdjust="spacingAndGlyphs" >29</text>
<rect x="270.30" y="214.18" width="9.17" height="5.0" fill="#561b63"/>
<rect x="279.42" y="214.18" width="66.68" height="5.0" fill="#a085ab"/>
<rect x="346.05" y="214.18" width="1.18" height="5.0" fill="#fdd19a"/>
<rect x="347.18" y="214.18" width="1.84" height="5.0" fill="#e98f8c"/>
<rect x="348.97" y="214.18" width="7.68" height="5.0" fill="#35a53a"/>
<line x1="263.30" y1="216.68" x2="266.30" y2="216.68" stroke="#1a1a1a" stroke-width="1.0"/>
<text x="259.60" y="218.98" font-size="6.5" text-anchor="end" fill="#3a3a3a" textLength="6.6" lengthAdjust="spacingAndGlyphs" >30</text>
<rect x="270.30" y="220.30" width="8.55" height="5.0" fill="#561b63"/>
<rect x="278.80" y="220.30" width="55.62" height="5.0" fill="#a085ab"/>
<rect x="334.37" y="220.30" width="1.64" height="5.0" fill="#fdd19a"/>
<rect x="335.96" y="220.30" width="20.69" height="5.0" fill="#35a53a"/>
<line x1="263.30" y1="222.80" x2="266.30" y2="222.80" stroke="#1a1a1a" stroke-width="1.0"/>
<text x="259.60" y="225.10" font-size="6.5" text-anchor="end" fill="#3a3a3a" textLength="6.6" lengthAdjust="spacingAndGlyphs" >31</text>
<rect x="270.30" y="226.42" width="3.99" height="5.0" fill="#561b63"/>
<rect x="274.24" y="226.42" width="50.91" height="5.0" fill="#a085ab"/>
<rect x="325.10" y="226.42" width="1.33" height="5.0" fill="#fdd19a"/>
<rect x="326.38" y="226.42" width="30.27" height="5.0" fill="#35a53a"/>
<line x1="263.30" y1="228.92" x2="266.30" y2="228.92" stroke="#1a1a1a" stroke-width="1.0"/>
<text x="259.60" y="231.22" font-size="6.5" text-anchor="end" fill="#3a3a3a" textLength="6.6" lengthAdjust="spacingAndGlyphs" >32</text>
<rect x="270.30" y="232.54" width="2.87" height="5.0" fill="#561b63"/>
<rect x="273.12" y="232.54" width="61.46" height="5.0" fill="#a085ab"/>
<rect x="334.53" y="232.54" width="1.64" height="5.0" fill="#fdd19a"/>
<rect x="336.11" y="232.54" width="20.54" height="5.0" fill="#35a53a"/>
<line x1="263.30" y1="235.04" x2="266.30" y2="235.04" stroke="#1a1a1a" stroke-width="1.0"/>
<text x="259.60" y="237.34" font-size="6.5" text-anchor="end" fill="#3a3a3a" textLength="6.6" lengthAdjust="spacingAndGlyphs" >33</text>
<rect x="270.30" y="238.66" width="9.73" height="5.0" fill="#561b63"/>
<rect x="279.98" y="238.66" width="65.66" height="5.0" fill="#a085ab"/>
<rect x="345.59" y="238.66" width="2.41" height="5.0" fill="#f39a1e"/>
<rect x="347.94" y="238.66" width="2.66" height="5.0" fill="#fdd19a"/>
<rect x="350.56" y="238.66" width="6.09" height="5.0" fill="#e98f8c"/>
<line x1="263.30" y1="241.16" x2="266.30" y2="241.16" stroke="#1a1a1a" stroke-width="1.0"/>
<text x="259.60" y="243.46" font-size="6.5" text-anchor="end" fill="#3a3a3a" textLength="6.6" lengthAdjust="spacingAndGlyphs" >34</text>
<rect x="270.30" y="244.78" width="5.02" height="5.0" fill="#561b63"/>
<rect x="275.27" y="244.78" width="52.24" height="5.0" fill="#a085ab"/>
<rect x="327.46" y="244.78" width="1.64" height="5.0" fill="#fdd19a"/>
<rect x="329.05" y="244.78" width="27.60" height="5.0" fill="#35a53a"/>
<line x1="263.30" y1="247.28" x2="266.30" y2="247.28" stroke="#1a1a1a" stroke-width="1.0"/>
<text x="259.60" y="249.58" font-size="6.5" text-anchor="end" fill="#3a3a3a" textLength="6.6" lengthAdjust="spacingAndGlyphs" >35</text>
<rect x="270.30" y="250.90" width="5.94" height="5.0" fill="#561b63"/>
<rect x="276.19" y="250.90" width="57.21" height="5.0" fill="#a085ab"/>
<rect x="333.35" y="250.90" width="1.48" height="5.0" fill="#fdd19a"/>
<rect x="334.78" y="250.90" width="21.87" height="5.0" fill="#35a53a"/>
<line x1="263.30" y1="253.40" x2="266.30" y2="253.40" stroke="#1a1a1a" stroke-width="1.0"/>
<text x="259.60" y="255.70" font-size="6.5" text-anchor="end" fill="#3a3a3a" textLength="6.6" lengthAdjust="spacingAndGlyphs" >36</text>
<rect x="270.30" y="257.02" width="6.45" height="5.0" fill="#561b63"/>
<rect x="276.70" y="257.02" width="60.36" height="5.0" fill="#a085ab"/>
<rect x="337.01" y="257.02" width="0.95" height="5.0" fill="#fdd19a"/>
<rect x="337.91" y="257.02" width="18.74" height="5.0" fill="#35a53a"/>
<line x1="263.30" y1="259.52" x2="266.30" y2="259.52" stroke="#1a1a1a" stroke-width="1.0"/>
<text x="259.60" y="261.82" font-size="6.5" text-anchor="end" fill="#3a3a3a" textLength="6.6" lengthAdjust="spacingAndGlyphs" >37</text>
<rect x="270.30" y="263.14" width="8.37" height="5.0" fill="#561b63"/>
<rect x="278.62" y="263.14" width="60.10" height="5.0" fill="#a085ab"/>
<rect x="338.67" y="263.14" width="0.69" height="5.0" fill="#fdd19a"/>
<rect x="339.31" y="263.14" width="17.34" height="5.0" fill="#35a53a"/>
<line x1="263.30" y1="265.64" x2="266.30" y2="265.64" stroke="#1a1a1a" stroke-width="1.0"/>
<text x="259.60" y="267.94" font-size="6.5" text-anchor="end" fill="#3a3a3a" textLength="6.6" lengthAdjust="spacingAndGlyphs" >38</text>
<rect x="270.30" y="269.26" width="5.17" height="5.0" fill="#561b63"/>
<rect x="275.42" y="269.26" width="56.00" height="5.0" fill="#a085ab"/>
<rect x="331.38" y="269.26" width="1.97" height="5.0" fill="#fdd19a"/>
<rect x="333.30" y="269.26" width="23.35" height="5.0" fill="#35a53a"/>
<line x1="263.30" y1="271.76" x2="266.30" y2="271.76" stroke="#1a1a1a" stroke-width="1.0"/>
<text x="259.60" y="274.06" font-size="6.5" text-anchor="end" fill="#3a3a3a" textLength="6.6" lengthAdjust="spacingAndGlyphs" >39</text>
<rect x="270.30" y="275.38" width="6.84" height="5.0" fill="#561b63"/>
<rect x="277.09" y="275.38" width="60.10" height="5.0" fill="#a085ab"/>
<rect x="337.14" y="275.38" width="1.33" height="5.0" fill="#f39a1e"/>
<rect x="338.42" y="275.38" width="0.95" height="5.0" fill="#fdd19a"/>
<rect x="339.31" y="275.38" width="17.34" height="5.0" fill="#35a53a"/>
<line x1="263.30" y1="277.88" x2="266.30" y2="277.88" stroke="#1a1a1a" stroke-width="1.0"/>
<text x="259.60" y="280.18" font-size="6.5" text-anchor="end" fill="#3a3a3a" textLength="6.6" lengthAdjust="spacingAndGlyphs" >40</text>
<path d="M266.30 36.10 V281.40 H359.50" fill="none" stroke="#1a1a1a" stroke-width="1"/>
<line x1="270.30" y1="281.40" x2="270.30" y2="284.40" stroke="#1a1a1a" stroke-width="0.8"/>
<text x="270.30" y="292.70" font-size="6.3" text-anchor="middle" fill="#333" >0.00</text>
<line x1="291.88" y1="281.40" x2="291.88" y2="284.40" stroke="#1a1a1a" stroke-width="0.8"/>
<text x="291.88" y="292.70" font-size="6.3" text-anchor="middle" fill="#333" >0.25</text>
<line x1="313.45" y1="281.40" x2="313.45" y2="284.40" stroke="#1a1a1a" stroke-width="0.8"/>
<text x="313.45" y="292.70" font-size="6.3" text-anchor="middle" fill="#333" >0.50</text>
<line x1="335.02" y1="281.40" x2="335.02" y2="284.40" stroke="#1a1a1a" stroke-width="0.8"/>
<text x="335.02" y="292.70" font-size="6.3" text-anchor="middle" fill="#333" >0.75</text>
<line x1="356.60" y1="281.40" x2="356.60" y2="284.40" stroke="#1a1a1a" stroke-width="0.8"/>
<text x="356.60" y="292.70" font-size="6.3" text-anchor="middle" fill="#333" >1.00</text>
<rect x="388.60" y="38.36" width="17.45" height="6.080" fill="#561b63" fill-opacity="0.42"/>
<rect x="388.60" y="38.90" width="17.45" height="5.0" fill="#561b63"/>
<rect x="406.00" y="38.36" width="10.35" height="6.080" fill="#f39a1e" fill-opacity="0.42"/>
<rect x="406.00" y="38.90" width="10.35" height="5.0" fill="#f39a1e"/>
<rect x="416.30" y="38.36" width="10.55" height="6.080" fill="#e98f8c" fill-opacity="0.42"/>
<rect x="416.30" y="38.90" width="10.55" height="5.0" fill="#e98f8c"/>
<rect x="426.80" y="38.36" width="10.55" height="6.080" fill="#b7d8a4" fill-opacity="0.42"/>
<rect x="426.80" y="38.90" width="10.55" height="5.0" fill="#b7d8a4"/>
<line x1="381.80" y1="41.40" x2="384.80" y2="41.40" stroke="#1a1a1a" stroke-width="1.0"/>
<text x="378.40" y="43.70" font-size="6.5" text-anchor="end" fill="#3a3a3a" textLength="6.6" lengthAdjust="spacingAndGlyphs" >01</text>
<rect x="388.60" y="44.44" width="16.35" height="6.080" fill="#561b63" fill-opacity="0.42"/>
<rect x="388.60" y="44.98" width="16.35" height="5.0" fill="#561b63"/>
<rect x="404.90" y="44.44" width="2.25" height="6.080" fill="#fdd19a" fill-opacity="0.42"/>
<rect x="404.90" y="44.98" width="2.25" height="5.0" fill="#fdd19a"/>
<rect x="407.10" y="44.44" width="31.75" height="6.080" fill="#35a53a" fill-opacity="0.42"/>
<rect x="407.10" y="44.98" width="31.75" height="5.0" fill="#35a53a"/>
<line x1="381.80" y1="47.48" x2="384.80" y2="47.48" stroke="#1a1a1a" stroke-width="1.0"/>
<text x="378.40" y="49.78" font-size="6.5" text-anchor="end" fill="#3a3a3a" textLength="6.6" lengthAdjust="spacingAndGlyphs" >02</text>
<rect x="388.60" y="50.52" width="16.65" height="6.080" fill="#561b63" fill-opacity="0.42"/>
<rect x="388.60" y="51.06" width="16.65" height="5.0" fill="#561b63"/>
<rect x="405.20" y="50.52" width="1.85" height="6.080" fill="#fdd19a" fill-opacity="0.42"/>
<rect x="405.20" y="51.06" width="1.85" height="5.0" fill="#fdd19a"/>
<rect x="407.00" y="50.52" width="36.35" height="6.080" fill="#35a53a" fill-opacity="0.42"/>
<rect x="407.00" y="51.06" width="36.35" height="5.0" fill="#35a53a"/>
<line x1="381.80" y1="53.56" x2="384.80" y2="53.56" stroke="#1a1a1a" stroke-width="1.0"/>
<text x="378.40" y="55.86" font-size="6.5" text-anchor="end" fill="#3a3a3a" textLength="6.6" lengthAdjust="spacingAndGlyphs" >03</text>
<rect x="388.60" y="56.60" width="14.85" height="6.080" fill="#561b63" fill-opacity="0.42"/>
<rect x="388.60" y="57.14" width="14.85" height="5.0" fill="#561b63"/>
<rect x="403.40" y="56.60" width="3.45" height="6.080" fill="#fdd19a" fill-opacity="0.42"/>
<rect x="403.40" y="57.14" width="3.45" height="5.0" fill="#fdd19a"/>
<rect x="406.80" y="56.60" width="29.25" height="6.080" fill="#35a53a" fill-opacity="0.42"/>
<rect x="406.80" y="57.14" width="29.25" height="5.0" fill="#35a53a"/>
<line x1="381.80" y1="59.64" x2="384.80" y2="59.64" stroke="#1a1a1a" stroke-width="1.0"/>
<text x="378.40" y="61.94" font-size="6.5" text-anchor="end" fill="#3a3a3a" textLength="6.6" lengthAdjust="spacingAndGlyphs" >04</text>
<rect x="388.60" y="62.68" width="12.35" height="6.080" fill="#561b63" fill-opacity="0.42"/>
<rect x="388.60" y="63.22" width="12.35" height="5.0" fill="#561b63"/>
<rect x="400.90" y="62.68" width="2.05" height="6.080" fill="#fdd19a" fill-opacity="0.42"/>
<rect x="400.90" y="63.22" width="2.05" height="5.0" fill="#fdd19a"/>
<rect x="402.90" y="62.68" width="45.05" height="6.080" fill="#35a53a" fill-opacity="0.42"/>
<rect x="402.90" y="63.22" width="45.05" height="5.0" fill="#35a53a"/>
<line x1="381.80" y1="65.72" x2="384.80" y2="65.72" stroke="#1a1a1a" stroke-width="1.0"/>
<text x="378.40" y="68.02" font-size="6.5" text-anchor="end" fill="#3a3a3a" textLength="6.6" lengthAdjust="spacingAndGlyphs" >05</text>
<rect x="388.60" y="68.76" width="12.05" height="6.080" fill="#561b63" fill-opacity="0.42"/>
<rect x="388.60" y="69.30" width="12.05" height="5.0" fill="#561b63"/>
<rect x="400.60" y="68.76" width="1.55" height="6.080" fill="#fdd19a" fill-opacity="0.42"/>
<rect x="400.60" y="69.30" width="1.55" height="5.0" fill="#fdd19a"/>
<rect x="402.10" y="68.76" width="34.65" height="6.080" fill="#35a53a" fill-opacity="0.42"/>
<rect x="402.10" y="69.30" width="34.65" height="5.0" fill="#35a53a"/>
<line x1="381.80" y1="71.80" x2="384.80" y2="71.80" stroke="#1a1a1a" stroke-width="1.0"/>
<text x="378.40" y="74.10" font-size="6.5" text-anchor="end" fill="#3a3a3a" textLength="6.6" lengthAdjust="spacingAndGlyphs" >06</text>
<rect x="388.60" y="74.84" width="15.85" height="6.080" fill="#561b63" fill-opacity="0.42"/>
<rect x="388.60" y="75.38" width="15.85" height="5.0" fill="#561b63"/>
<rect x="404.40" y="74.84" width="2.35" height="6.080" fill="#fdd19a" fill-opacity="0.42"/>
<rect x="404.40" y="75.38" width="2.35" height="5.0" fill="#fdd19a"/>
<rect x="406.70" y="74.84" width="30.05" height="6.080" fill="#35a53a" fill-opacity="0.42"/>
<rect x="406.70" y="75.38" width="30.05" height="5.0" fill="#35a53a"/>
<line x1="381.80" y1="77.88" x2="384.80" y2="77.88" stroke="#1a1a1a" stroke-width="1.0"/>
<text x="378.40" y="80.18" font-size="6.5" text-anchor="end" fill="#3a3a3a" textLength="6.6" lengthAdjust="spacingAndGlyphs" >07</text>
<rect x="388.60" y="80.92" width="1.25" height="6.080" fill="#561b63" fill-opacity="0.42"/>
<rect x="388.60" y="81.46" width="1.25" height="5.0" fill="#561b63"/>
<rect x="389.80" y="80.92" width="4.35" height="6.080" fill="#fdd19a" fill-opacity="0.42"/>
<rect x="389.80" y="81.46" width="4.35" height="5.0" fill="#fdd19a"/>
<rect x="394.10" y="80.92" width="35.05" height="6.080" fill="#35a53a" fill-opacity="0.42"/>
<rect x="394.10" y="81.46" width="35.05" height="5.0" fill="#35a53a"/>
<line x1="381.80" y1="83.96" x2="384.80" y2="83.96" stroke="#1a1a1a" stroke-width="1.0"/>
<text x="378.40" y="86.26" font-size="6.5" text-anchor="end" fill="#3a3a3a" textLength="6.6" lengthAdjust="spacingAndGlyphs" >08</text>
<rect x="388.60" y="87.00" width="15.45" height="6.080" fill="#561b63" fill-opacity="0.42"/>
<rect x="388.60" y="87.54" width="15.45" height="5.0" fill="#561b63"/>
<rect x="404.00" y="87.00" width="2.85" height="6.080" fill="#fdd19a" fill-opacity="0.42"/>
<rect x="404.00" y="87.54" width="2.85" height="5.0" fill="#fdd19a"/>
<rect x="406.80" y="87.00" width="29.25" height="6.080" fill="#35a53a" fill-opacity="0.42"/>
<rect x="406.80" y="87.54" width="29.25" height="5.0" fill="#35a53a"/>
<line x1="381.80" y1="90.04" x2="384.80" y2="90.04" stroke="#1a1a1a" stroke-width="1.0"/>
<text x="378.40" y="92.34" font-size="6.5" text-anchor="end" fill="#3a3a3a" textLength="6.6" lengthAdjust="spacingAndGlyphs" >09</text>
<rect x="388.60" y="93.08" width="17.85" height="6.080" fill="#561b63" fill-opacity="0.42"/>
<rect x="388.60" y="93.62" width="17.85" height="5.0" fill="#561b63"/>
<rect x="406.40" y="93.08" width="9.85" height="6.080" fill="#f39a1e" fill-opacity="0.42"/>
<rect x="406.40" y="93.62" width="9.85" height="5.0" fill="#f39a1e"/>
<rect x="416.20" y="93.08" width="7.15" height="6.080" fill="#e98f8c" fill-opacity="0.42"/>
<rect x="416.20" y="93.62" width="7.15" height="5.0" fill="#e98f8c"/>
<line x1="381.80" y1="96.12" x2="384.80" y2="96.12" stroke="#1a1a1a" stroke-width="1.0"/>
<text x="378.40" y="98.42" font-size="6.5" text-anchor="end" fill="#3a3a3a" textLength="6.6" lengthAdjust="spacingAndGlyphs" >10</text>
<rect x="388.60" y="99.16" width="16.65" height="6.080" fill="#561b63" fill-opacity="0.42"/>
<rect x="388.60" y="99.70" width="16.65" height="5.0" fill="#561b63"/>
<rect x="405.20" y="99.16" width="3.45" height="6.080" fill="#e98f8c" fill-opacity="0.42"/>
<rect x="405.20" y="99.70" width="3.45" height="5.0" fill="#e98f8c"/>
<rect x="408.60" y="99.16" width="30.25" height="6.080" fill="#35a53a" fill-opacity="0.42"/>
<rect x="408.60" y="99.70" width="30.25" height="5.0" fill="#35a53a"/>
<line x1="381.80" y1="102.20" x2="384.80" y2="102.20" stroke="#1a1a1a" stroke-width="1.0"/>
<text x="378.40" y="104.50" font-size="6.5" text-anchor="end" fill="#3a3a3a" textLength="6.6" lengthAdjust="spacingAndGlyphs" >11</text>
<rect x="388.60" y="105.24" width="19.45" height="6.080" fill="#561b63" fill-opacity="0.42"/>
<rect x="388.60" y="105.78" width="19.45" height="5.0" fill="#561b63"/>
<rect x="408.00" y="105.24" width="8.85" height="6.080" fill="#f39a1e" fill-opacity="0.42"/>
<rect x="408.00" y="105.78" width="8.85" height="5.0" fill="#f39a1e"/>
<rect x="416.80" y="105.24" width="10.05" height="6.080" fill="#e98f8c" fill-opacity="0.42"/>
<rect x="416.80" y="105.78" width="10.05" height="5.0" fill="#e98f8c"/>
<line x1="381.80" y1="108.28" x2="384.80" y2="108.28" stroke="#1a1a1a" stroke-width="1.0"/>
<text x="378.40" y="110.58" font-size="6.5" text-anchor="end" fill="#3a3a3a" textLength="6.6" lengthAdjust="spacingAndGlyphs" >12</text>
<rect x="388.60" y="111.32" width="17.85" height="6.080" fill="#561b63" fill-opacity="0.42"/>
<rect x="388.60" y="111.86" width="17.85" height="5.0" fill="#561b63"/>
<rect x="406.40" y="111.32" width="2.65" height="6.080" fill="#fdd19a" fill-opacity="0.42"/>
<rect x="406.40" y="111.86" width="2.65" height="5.0" fill="#fdd19a"/>
<rect x="409.00" y="111.32" width="17.75" height="6.080" fill="#35a53a" fill-opacity="0.42"/>
<rect x="409.00" y="111.86" width="17.75" height="5.0" fill="#35a53a"/>
<line x1="381.80" y1="114.36" x2="384.80" y2="114.36" stroke="#1a1a1a" stroke-width="1.0"/>
<text x="378.40" y="116.66" font-size="6.5" text-anchor="end" fill="#3a3a3a" textLength="6.6" lengthAdjust="spacingAndGlyphs" >13</text>
<rect x="388.60" y="117.40" width="15.85" height="6.080" fill="#561b63" fill-opacity="0.42"/>
<rect x="388.60" y="117.94" width="15.85" height="5.0" fill="#561b63"/>
<rect x="404.40" y="117.40" width="3.15" height="6.080" fill="#fdd19a" fill-opacity="0.42"/>
<rect x="404.40" y="117.94" width="3.15" height="5.0" fill="#fdd19a"/>
<rect x="407.50" y="117.40" width="28.55" height="6.080" fill="#35a53a" fill-opacity="0.42"/>
<rect x="407.50" y="117.94" width="28.55" height="5.0" fill="#35a53a"/>
<line x1="381.80" y1="120.44" x2="384.80" y2="120.44" stroke="#1a1a1a" stroke-width="1.0"/>
<text x="378.40" y="122.74" font-size="6.5" text-anchor="end" fill="#3a3a3a" textLength="6.6" lengthAdjust="spacingAndGlyphs" >14</text>
<rect x="388.60" y="123.48" width="13.85" height="6.080" fill="#561b63" fill-opacity="0.42"/>
<rect x="388.60" y="124.02" width="13.85" height="5.0" fill="#561b63"/>
<rect x="402.40" y="123.48" width="4.05" height="6.080" fill="#f39a1e" fill-opacity="0.42"/>
<rect x="402.40" y="124.02" width="4.05" height="5.0" fill="#f39a1e"/>
<rect x="406.40" y="123.48" width="38.05" height="6.080" fill="#35a53a" fill-opacity="0.42"/>
<rect x="406.40" y="124.02" width="38.05" height="5.0" fill="#35a53a"/>
<line x1="381.80" y1="126.52" x2="384.80" y2="126.52" stroke="#1a1a1a" stroke-width="1.0"/>
<text x="378.40" y="128.82" font-size="6.5" text-anchor="end" fill="#3a3a3a" textLength="6.6" lengthAdjust="spacingAndGlyphs" >15</text>
<rect x="388.60" y="129.56" width="17.85" height="6.080" fill="#561b63" fill-opacity="0.42"/>
<rect x="388.60" y="130.10" width="17.85" height="5.0" fill="#561b63"/>
<rect x="406.40" y="129.56" width="1.55" height="6.080" fill="#fdd19a" fill-opacity="0.42"/>
<rect x="406.40" y="130.10" width="1.55" height="5.0" fill="#fdd19a"/>
<rect x="407.90" y="129.56" width="24.25" height="6.080" fill="#35a53a" fill-opacity="0.42"/>
<rect x="407.90" y="130.10" width="24.25" height="5.0" fill="#35a53a"/>
<line x1="381.80" y1="132.60" x2="384.80" y2="132.60" stroke="#1a1a1a" stroke-width="1.0"/>
<text x="378.40" y="134.90" font-size="6.5" text-anchor="end" fill="#3a3a3a" textLength="6.6" lengthAdjust="spacingAndGlyphs" >16</text>
<rect x="388.60" y="135.64" width="19.45" height="6.080" fill="#561b63" fill-opacity="0.42"/>
<rect x="388.60" y="136.18" width="19.45" height="5.0" fill="#561b63"/>
<rect x="408.00" y="135.64" width="8.35" height="6.080" fill="#f39a1e" fill-opacity="0.42"/>
<rect x="408.00" y="136.18" width="8.35" height="5.0" fill="#f39a1e"/>
<rect x="416.30" y="135.64" width="12.35" height="6.080" fill="#e98f8c" fill-opacity="0.42"/>
<rect x="416.30" y="136.18" width="12.35" height="5.0" fill="#e98f8c"/>
<rect x="428.60" y="135.64" width="0.65" height="6.080" fill="#9aa8cc" fill-opacity="0.42"/>
<rect x="428.60" y="136.18" width="0.65" height="5.0" fill="#9aa8cc"/>
<line x1="381.80" y1="138.68" x2="384.80" y2="138.68" stroke="#1a1a1a" stroke-width="1.0"/>
<text x="378.40" y="140.98" font-size="6.5" text-anchor="end" fill="#3a3a3a" textLength="6.6" lengthAdjust="spacingAndGlyphs" >17</text>
<rect x="388.60" y="141.72" width="13.55" height="6.080" fill="#561b63" fill-opacity="0.42"/>
<rect x="388.60" y="142.26" width="13.55" height="5.0" fill="#561b63"/>
<rect x="402.10" y="141.72" width="10.55" height="6.080" fill="#f39a1e" fill-opacity="0.42"/>
<rect x="402.10" y="142.26" width="10.55" height="5.0" fill="#f39a1e"/>
<rect x="412.60" y="141.72" width="10.35" height="6.080" fill="#e98f8c" fill-opacity="0.42"/>
<rect x="412.60" y="142.26" width="10.35" height="5.0" fill="#e98f8c"/>
<rect x="422.90" y="141.72" width="9.25" height="6.080" fill="#b7d8a4" fill-opacity="0.42"/>
<rect x="422.90" y="142.26" width="9.25" height="5.0" fill="#b7d8a4"/>
<line x1="381.80" y1="144.76" x2="384.80" y2="144.76" stroke="#1a1a1a" stroke-width="1.0"/>
<text x="378.40" y="147.06" font-size="6.5" text-anchor="end" fill="#3a3a3a" textLength="6.6" lengthAdjust="spacingAndGlyphs" >18</text>
<rect x="388.60" y="147.80" width="17.85" height="6.080" fill="#561b63" fill-opacity="0.42"/>
<rect x="388.60" y="148.34" width="17.85" height="5.0" fill="#561b63"/>
<rect x="406.40" y="147.80" width="8.35" height="6.080" fill="#f39a1e" fill-opacity="0.42"/>
<rect x="406.40" y="148.34" width="8.35" height="5.0" fill="#f39a1e"/>
<rect x="414.70" y="147.80" width="8.65" height="6.080" fill="#e98f8c" fill-opacity="0.42"/>
<rect x="414.70" y="148.34" width="8.65" height="5.0" fill="#e98f8c"/>
<rect x="423.30" y="147.80" width="10.35" height="6.080" fill="#b7d8a4" fill-opacity="0.42"/>
<rect x="423.30" y="148.34" width="10.35" height="5.0" fill="#b7d8a4"/>
<line x1="381.80" y1="150.84" x2="384.80" y2="150.84" stroke="#1a1a1a" stroke-width="1.0"/>
<text x="378.40" y="153.14" font-size="6.5" text-anchor="end" fill="#3a3a3a" textLength="6.6" lengthAdjust="spacingAndGlyphs" >19</text>
<rect x="388.60" y="153.88" width="18.95" height="6.080" fill="#561b63" fill-opacity="0.42"/>
<rect x="388.60" y="154.42" width="18.95" height="5.0" fill="#561b63"/>
<rect x="407.50" y="153.88" width="5.15" height="6.080" fill="#f39a1e" fill-opacity="0.42"/>
<rect x="407.50" y="154.42" width="5.15" height="5.0" fill="#f39a1e"/>
<rect x="412.60" y="153.88" width="9.85" height="6.080" fill="#e98f8c" fill-opacity="0.42"/>
<rect x="412.60" y="154.42" width="9.85" height="5.0" fill="#e98f8c"/>
<rect x="422.40" y="153.88" width="2.05" height="6.080" fill="#9aa8cc" fill-opacity="0.42"/>
<rect x="422.40" y="154.42" width="2.05" height="5.0" fill="#9aa8cc"/>
<line x1="381.80" y1="156.92" x2="384.80" y2="156.92" stroke="#1a1a1a" stroke-width="1.0"/>
<text x="378.40" y="159.22" font-size="6.5" text-anchor="end" fill="#3a3a3a" textLength="6.6" lengthAdjust="spacingAndGlyphs" >20</text>
<rect x="388.60" y="159.96" width="18.55" height="6.080" fill="#561b63" fill-opacity="0.42"/>
<rect x="388.60" y="160.50" width="18.55" height="5.0" fill="#561b63"/>
<rect x="407.10" y="159.96" width="3.15" height="6.080" fill="#f39a1e" fill-opacity="0.42"/>
<rect x="407.10" y="160.50" width="3.15" height="5.0" fill="#f39a1e"/>
<rect x="410.20" y="159.96" width="4.05" height="6.080" fill="#fdd19a" fill-opacity="0.42"/>
<rect x="410.20" y="160.50" width="4.05" height="5.0" fill="#fdd19a"/>
<rect x="414.20" y="159.96" width="11.85" height="6.080" fill="#e98f8c" fill-opacity="0.42"/>
<rect x="414.20" y="160.50" width="11.85" height="5.0" fill="#e98f8c"/>
<line x1="381.80" y1="163.00" x2="384.80" y2="163.00" stroke="#1a1a1a" stroke-width="1.0"/>
<text x="378.40" y="165.30" font-size="6.5" text-anchor="end" fill="#3a3a3a" textLength="6.6" lengthAdjust="spacingAndGlyphs" >21</text>
<rect x="388.60" y="166.04" width="16.35" height="6.080" fill="#561b63" fill-opacity="0.42"/>
<rect x="388.60" y="166.58" width="16.35" height="5.0" fill="#561b63"/>
<rect x="404.90" y="166.04" width="5.75" height="6.080" fill="#fdd19a" fill-opacity="0.42"/>
<rect x="404.90" y="166.58" width="5.75" height="5.0" fill="#fdd19a"/>
<rect x="410.60" y="166.04" width="11.25" height="6.080" fill="#e98f8c" fill-opacity="0.42"/>
<rect x="410.60" y="166.58" width="11.25" height="5.0" fill="#e98f8c"/>
<rect x="421.80" y="166.04" width="6.25" height="6.080" fill="#b7d8a4" fill-opacity="0.42"/>
<rect x="421.80" y="166.58" width="6.25" height="5.0" fill="#b7d8a4"/>
<line x1="381.80" y1="169.08" x2="384.80" y2="169.08" stroke="#1a1a1a" stroke-width="1.0"/>
<text x="378.40" y="171.38" font-size="6.5" text-anchor="end" fill="#3a3a3a" textLength="6.6" lengthAdjust="spacingAndGlyphs" >22</text>
<rect x="388.60" y="172.12" width="15.85" height="6.080" fill="#561b63" fill-opacity="0.42"/>
<rect x="388.60" y="172.66" width="15.85" height="5.0" fill="#561b63"/>
<rect x="404.40" y="172.12" width="4.65" height="6.080" fill="#f39a1e" fill-opacity="0.42"/>
<rect x="404.40" y="172.66" width="4.65" height="5.0" fill="#f39a1e"/>
<rect x="409.00" y="172.12" width="11.85" height="6.080" fill="#e98f8c" fill-opacity="0.42"/>
<rect x="409.00" y="172.66" width="11.85" height="5.0" fill="#e98f8c"/>
<line x1="381.80" y1="175.16" x2="384.80" y2="175.16" stroke="#1a1a1a" stroke-width="1.0"/>
<text x="378.40" y="177.46" font-size="6.5" text-anchor="end" fill="#3a3a3a" textLength="6.6" lengthAdjust="spacingAndGlyphs" >23</text>
<rect x="388.60" y="178.20" width="15.15" height="6.080" fill="#561b63" fill-opacity="0.42"/>
<rect x="388.60" y="178.74" width="15.15" height="5.0" fill="#561b63"/>
<rect x="403.70" y="178.20" width="2.35" height="6.080" fill="#fdd19a" fill-opacity="0.42"/>
<rect x="403.70" y="178.74" width="2.35" height="5.0" fill="#fdd19a"/>
<rect x="406.00" y="178.20" width="29.75" height="6.080" fill="#35a53a" fill-opacity="0.42"/>
<rect x="406.00" y="178.74" width="29.75" height="5.0" fill="#35a53a"/>
<line x1="381.80" y1="181.24" x2="384.80" y2="181.24" stroke="#1a1a1a" stroke-width="1.0"/>
<text x="378.40" y="183.54" font-size="6.5" text-anchor="end" fill="#3a3a3a" textLength="6.6" lengthAdjust="spacingAndGlyphs" >24</text>
<rect x="388.60" y="184.28" width="18.55" height="6.080" fill="#561b63" fill-opacity="0.42"/>
<rect x="388.60" y="184.82" width="18.55" height="5.0" fill="#561b63"/>
<rect x="407.10" y="184.28" width="7.45" height="6.080" fill="#f39a1e" fill-opacity="0.42"/>
<rect x="407.10" y="184.82" width="7.45" height="5.0" fill="#f39a1e"/>
<rect x="414.50" y="184.28" width="10.55" height="6.080" fill="#e98f8c" fill-opacity="0.42"/>
<rect x="414.50" y="184.82" width="10.55" height="5.0" fill="#e98f8c"/>
<rect x="425.00" y="184.28" width="4.25" height="6.080" fill="#9aa8cc" fill-opacity="0.42"/>
<rect x="425.00" y="184.82" width="4.25" height="5.0" fill="#9aa8cc"/>
<line x1="381.80" y1="187.32" x2="384.80" y2="187.32" stroke="#1a1a1a" stroke-width="1.0"/>
<text x="378.40" y="189.62" font-size="6.5" text-anchor="end" fill="#3a3a3a" textLength="6.6" lengthAdjust="spacingAndGlyphs" >25</text>
<rect x="388.60" y="190.36" width="16.35" height="6.080" fill="#561b63" fill-opacity="0.42"/>
<rect x="388.60" y="190.90" width="16.35" height="5.0" fill="#561b63"/>
<rect x="404.90" y="190.36" width="1.85" height="6.080" fill="#fdd19a" fill-opacity="0.42"/>
<rect x="404.90" y="190.90" width="1.85" height="5.0" fill="#fdd19a"/>
<rect x="406.70" y="190.36" width="26.95" height="6.080" fill="#35a53a" fill-opacity="0.42"/>
<rect x="406.70" y="190.90" width="26.95" height="5.0" fill="#35a53a"/>
<rect x="433.60" y="190.36" width="0.85" height="6.080" fill="#b7d8a4" fill-opacity="0.42"/>
<rect x="433.60" y="190.90" width="0.85" height="5.0" fill="#b7d8a4"/>
<line x1="381.80" y1="193.40" x2="384.80" y2="193.40" stroke="#1a1a1a" stroke-width="1.0"/>
<text x="378.40" y="195.70" font-size="6.5" text-anchor="end" fill="#3a3a3a" textLength="6.6" lengthAdjust="spacingAndGlyphs" >26</text>
<rect x="388.60" y="196.44" width="18.55" height="6.080" fill="#561b63" fill-opacity="0.42"/>
<rect x="388.60" y="196.98" width="18.55" height="5.0" fill="#561b63"/>
<rect x="407.10" y="196.44" width="2.85" height="6.080" fill="#fdd19a" fill-opacity="0.42"/>
<rect x="407.10" y="196.98" width="2.85" height="5.0" fill="#fdd19a"/>
<rect x="409.90" y="196.44" width="35.45" height="6.080" fill="#35a53a" fill-opacity="0.42"/>
<rect x="409.90" y="196.98" width="35.45" height="5.0" fill="#35a53a"/>
<line x1="381.80" y1="199.48" x2="384.80" y2="199.48" stroke="#1a1a1a" stroke-width="1.0"/>
<text x="378.40" y="201.78" font-size="6.5" text-anchor="end" fill="#3a3a3a" textLength="6.6" lengthAdjust="spacingAndGlyphs" >27</text>
<rect x="388.60" y="202.52" width="17.85" height="6.080" fill="#561b63" fill-opacity="0.42"/>
<rect x="388.60" y="203.06" width="17.85" height="5.0" fill="#561b63"/>
<rect x="406.40" y="202.52" width="5.25" height="6.080" fill="#fdd19a" fill-opacity="0.42"/>
<rect x="406.40" y="203.06" width="5.25" height="5.0" fill="#fdd19a"/>
<rect x="411.60" y="202.52" width="3.55" height="6.080" fill="#e98f8c" fill-opacity="0.42"/>
<rect x="411.60" y="203.06" width="3.55" height="5.0" fill="#e98f8c"/>
<rect x="415.10" y="202.52" width="37.85" height="6.080" fill="#35a53a" fill-opacity="0.42"/>
<rect x="415.10" y="203.06" width="37.85" height="5.0" fill="#35a53a"/>
<line x1="381.80" y1="205.56" x2="384.80" y2="205.56" stroke="#1a1a1a" stroke-width="1.0"/>
<text x="378.40" y="207.86" font-size="6.5" text-anchor="end" fill="#3a3a3a" textLength="6.6" lengthAdjust="spacingAndGlyphs" >28</text>
<rect x="388.60" y="208.60" width="17.45" height="6.080" fill="#561b63" fill-opacity="0.42"/>
<rect x="388.60" y="209.14" width="17.45" height="5.0" fill="#561b63"/>
<rect x="406.00" y="208.60" width="6.65" height="6.080" fill="#f39a1e" fill-opacity="0.42"/>
<rect x="406.00" y="209.14" width="6.65" height="5.0" fill="#f39a1e"/>
<rect x="412.60" y="208.60" width="10.85" height="6.080" fill="#e98f8c" fill-opacity="0.42"/>
<rect x="412.60" y="209.14" width="10.85" height="5.0" fill="#e98f8c"/>
<rect x="423.40" y="208.60" width="23.45" height="6.080" fill="#b7d8a4" fill-opacity="0.42"/>
<rect x="423.40" y="209.14" width="23.45" height="5.0" fill="#b7d8a4"/>
<line x1="381.80" y1="211.64" x2="384.80" y2="211.64" stroke="#1a1a1a" stroke-width="1.0"/>
<text x="378.40" y="213.94" font-size="6.5" text-anchor="end" fill="#3a3a3a" textLength="6.6" lengthAdjust="spacingAndGlyphs" >29</text>
<rect x="388.60" y="214.68" width="17.85" height="6.080" fill="#561b63" fill-opacity="0.42"/>
<rect x="388.60" y="215.22" width="17.85" height="5.0" fill="#561b63"/>
<rect x="406.40" y="214.68" width="2.25" height="6.080" fill="#fdd19a" fill-opacity="0.42"/>
<rect x="406.40" y="215.22" width="2.25" height="5.0" fill="#fdd19a"/>
<rect x="408.60" y="214.68" width="3.55" height="6.080" fill="#e98f8c" fill-opacity="0.42"/>
<rect x="408.60" y="215.22" width="3.55" height="5.0" fill="#e98f8c"/>
<rect x="412.10" y="214.68" width="14.95" height="6.080" fill="#35a53a" fill-opacity="0.42"/>
<rect x="412.10" y="215.22" width="14.95" height="5.0" fill="#35a53a"/>
<line x1="381.80" y1="217.72" x2="384.80" y2="217.72" stroke="#1a1a1a" stroke-width="1.0"/>
<text x="378.40" y="220.02" font-size="6.5" text-anchor="end" fill="#3a3a3a" textLength="6.6" lengthAdjust="spacingAndGlyphs" >30</text>
<rect x="388.60" y="220.76" width="16.65" height="6.080" fill="#561b63" fill-opacity="0.42"/>
<rect x="388.60" y="221.30" width="16.65" height="5.0" fill="#561b63"/>
<rect x="405.20" y="220.76" width="3.15" height="6.080" fill="#fdd19a" fill-opacity="0.42"/>
<rect x="405.20" y="221.30" width="3.15" height="5.0" fill="#fdd19a"/>
<rect x="408.30" y="220.76" width="40.35" height="6.080" fill="#35a53a" fill-opacity="0.42"/>
<rect x="408.30" y="221.30" width="40.35" height="5.0" fill="#35a53a"/>
<line x1="381.80" y1="223.80" x2="384.80" y2="223.80" stroke="#1a1a1a" stroke-width="1.0"/>
<text x="378.40" y="226.10" font-size="6.5" text-anchor="end" fill="#3a3a3a" textLength="6.6" lengthAdjust="spacingAndGlyphs" >31</text>
<rect x="388.60" y="226.84" width="7.75" height="6.080" fill="#561b63" fill-opacity="0.42"/>
<rect x="388.60" y="227.38" width="7.75" height="5.0" fill="#561b63"/>
<rect x="396.30" y="226.84" width="2.55" height="6.080" fill="#fdd19a" fill-opacity="0.42"/>
<rect x="396.30" y="227.38" width="2.55" height="5.0" fill="#fdd19a"/>
<rect x="398.80" y="226.84" width="59.05" height="6.080" fill="#35a53a" fill-opacity="0.42"/>
<rect x="398.80" y="227.38" width="59.05" height="5.0" fill="#35a53a"/>
<line x1="381.80" y1="229.88" x2="384.80" y2="229.88" stroke="#1a1a1a" stroke-width="1.0"/>
<text x="378.40" y="232.18" font-size="6.5" text-anchor="end" fill="#3a3a3a" textLength="6.6" lengthAdjust="spacingAndGlyphs" >32</text>
<rect x="388.60" y="232.92" width="5.55" height="6.080" fill="#561b63" fill-opacity="0.42"/>
<rect x="388.60" y="233.46" width="5.55" height="5.0" fill="#561b63"/>
<rect x="394.10" y="232.92" width="3.15" height="6.080" fill="#fdd19a" fill-opacity="0.42"/>
<rect x="394.10" y="233.46" width="3.15" height="5.0" fill="#fdd19a"/>
<rect x="397.20" y="232.92" width="40.05" height="6.080" fill="#35a53a" fill-opacity="0.42"/>
<rect x="397.20" y="233.46" width="40.05" height="5.0" fill="#35a53a"/>
<line x1="381.80" y1="235.96" x2="384.80" y2="235.96" stroke="#1a1a1a" stroke-width="1.0"/>
<text x="378.40" y="238.26" font-size="6.5" text-anchor="end" fill="#3a3a3a" textLength="6.6" lengthAdjust="spacingAndGlyphs" >33</text>
<rect x="388.60" y="239.00" width="18.95" height="6.080" fill="#561b63" fill-opacity="0.42"/>
<rect x="388.60" y="239.54" width="18.95" height="5.0" fill="#561b63"/>
<rect x="407.50" y="239.00" width="4.65" height="6.080" fill="#f39a1e" fill-opacity="0.42"/>
<rect x="407.50" y="239.54" width="4.65" height="5.0" fill="#f39a1e"/>
<rect x="412.10" y="239.00" width="5.15" height="6.080" fill="#fdd19a" fill-opacity="0.42"/>
<rect x="412.10" y="239.54" width="5.15" height="5.0" fill="#fdd19a"/>
<rect x="417.20" y="239.00" width="11.85" height="6.080" fill="#e98f8c" fill-opacity="0.42"/>
<rect x="417.20" y="239.54" width="11.85" height="5.0" fill="#e98f8c"/>
<line x1="381.80" y1="242.04" x2="384.80" y2="242.04" stroke="#1a1a1a" stroke-width="1.0"/>
<text x="378.40" y="244.34" font-size="6.5" text-anchor="end" fill="#3a3a3a" textLength="6.6" lengthAdjust="spacingAndGlyphs" >34</text>
<rect x="388.60" y="245.08" width="9.75" height="6.080" fill="#561b63" fill-opacity="0.42"/>
<rect x="388.60" y="245.62" width="9.75" height="5.0" fill="#561b63"/>
<rect x="398.30" y="245.08" width="3.15" height="6.080" fill="#fdd19a" fill-opacity="0.42"/>
<rect x="398.30" y="245.62" width="3.15" height="5.0" fill="#fdd19a"/>
<rect x="401.40" y="245.08" width="53.85" height="6.080" fill="#35a53a" fill-opacity="0.42"/>
<rect x="401.40" y="245.62" width="53.85" height="5.0" fill="#35a53a"/>
<line x1="381.80" y1="248.12" x2="384.80" y2="248.12" stroke="#1a1a1a" stroke-width="1.0"/>
<text x="378.40" y="250.42" font-size="6.5" text-anchor="end" fill="#3a3a3a" textLength="6.6" lengthAdjust="spacingAndGlyphs" >35</text>
<rect x="388.60" y="251.16" width="11.55" height="6.080" fill="#561b63" fill-opacity="0.42"/>
<rect x="388.60" y="251.70" width="11.55" height="5.0" fill="#561b63"/>
<rect x="400.10" y="251.16" width="2.85" height="6.080" fill="#fdd19a" fill-opacity="0.42"/>
<rect x="400.10" y="251.70" width="2.85" height="5.0" fill="#fdd19a"/>
<rect x="402.90" y="251.16" width="42.65" height="6.080" fill="#35a53a" fill-opacity="0.42"/>
<rect x="402.90" y="251.70" width="42.65" height="5.0" fill="#35a53a"/>
<line x1="381.80" y1="254.20" x2="384.80" y2="254.20" stroke="#1a1a1a" stroke-width="1.0"/>
<text x="378.40" y="256.50" font-size="6.5" text-anchor="end" fill="#3a3a3a" textLength="6.6" lengthAdjust="spacingAndGlyphs" >36</text>
<rect x="388.60" y="257.24" width="12.55" height="6.080" fill="#561b63" fill-opacity="0.42"/>
<rect x="388.60" y="257.78" width="12.55" height="5.0" fill="#561b63"/>
<rect x="401.10" y="257.24" width="1.80" height="6.080" fill="#fdd19a" fill-opacity="0.42"/>
<rect x="401.10" y="257.78" width="1.80" height="5.0" fill="#fdd19a"/>
<rect x="402.85" y="257.24" width="36.55" height="6.080" fill="#35a53a" fill-opacity="0.42"/>
<rect x="402.85" y="257.78" width="36.55" height="5.0" fill="#35a53a"/>
<line x1="381.80" y1="260.28" x2="384.80" y2="260.28" stroke="#1a1a1a" stroke-width="1.0"/>
<text x="378.40" y="262.58" font-size="6.5" text-anchor="end" fill="#3a3a3a" textLength="6.6" lengthAdjust="spacingAndGlyphs" >37</text>
<rect x="388.60" y="263.32" width="16.30" height="6.080" fill="#561b63" fill-opacity="0.42"/>
<rect x="388.60" y="263.86" width="16.30" height="5.0" fill="#561b63"/>
<rect x="404.85" y="263.32" width="1.30" height="6.080" fill="#fdd19a" fill-opacity="0.42"/>
<rect x="404.85" y="263.86" width="1.30" height="5.0" fill="#fdd19a"/>
<rect x="406.10" y="263.32" width="33.80" height="6.080" fill="#35a53a" fill-opacity="0.42"/>
<rect x="406.10" y="263.86" width="33.80" height="5.0" fill="#35a53a"/>
<line x1="381.80" y1="266.36" x2="384.80" y2="266.36" stroke="#1a1a1a" stroke-width="1.0"/>
<text x="378.40" y="268.66" font-size="6.5" text-anchor="end" fill="#3a3a3a" textLength="6.6" lengthAdjust="spacingAndGlyphs" >38</text>
<rect x="388.60" y="269.40" width="10.05" height="6.080" fill="#561b63" fill-opacity="0.42"/>
<rect x="388.60" y="269.94" width="10.05" height="5.0" fill="#561b63"/>
<rect x="398.60" y="269.40" width="3.80" height="6.080" fill="#fdd19a" fill-opacity="0.42"/>
<rect x="398.60" y="269.94" width="3.80" height="5.0" fill="#fdd19a"/>
<rect x="402.35" y="269.40" width="45.55" height="6.080" fill="#35a53a" fill-opacity="0.42"/>
<rect x="402.35" y="269.94" width="45.55" height="5.0" fill="#35a53a"/>
<line x1="381.80" y1="272.44" x2="384.80" y2="272.44" stroke="#1a1a1a" stroke-width="1.0"/>
<text x="378.40" y="274.74" font-size="6.5" text-anchor="end" fill="#3a3a3a" textLength="6.6" lengthAdjust="spacingAndGlyphs" >39</text>
<rect x="388.60" y="275.48" width="13.30" height="6.080" fill="#561b63" fill-opacity="0.42"/>
<rect x="388.60" y="276.02" width="13.30" height="5.0" fill="#561b63"/>
<rect x="401.85" y="275.48" width="2.55" height="6.080" fill="#f39a1e" fill-opacity="0.42"/>
<rect x="401.85" y="276.02" width="2.55" height="5.0" fill="#f39a1e"/>
<rect x="404.35" y="275.48" width="1.80" height="6.080" fill="#fdd19a" fill-opacity="0.42"/>
<rect x="404.35" y="276.02" width="1.80" height="5.0" fill="#fdd19a"/>
<rect x="406.10" y="275.48" width="33.80" height="6.080" fill="#35a53a" fill-opacity="0.42"/>
<rect x="406.10" y="276.02" width="33.80" height="5.0" fill="#35a53a"/>
<line x1="381.80" y1="278.52" x2="384.80" y2="278.52" stroke="#1a1a1a" stroke-width="1.0"/>
<text x="378.40" y="280.82" font-size="6.5" text-anchor="end" fill="#3a3a3a" textLength="6.6" lengthAdjust="spacingAndGlyphs" >40</text>
<path d="M384.80 37.70 V282.10 H459.50" fill="none" stroke="#1a1a1a" stroke-width="1"/>
<line x1="388.60" y1="282.10" x2="388.60" y2="285.10" stroke="#1a1a1a" stroke-width="0.8"/>
<text x="388.60" y="293.40" font-size="6.3" text-anchor="middle" fill="#333" >0.0</text>
<line x1="405.45" y1="282.10" x2="405.45" y2="285.10" stroke="#1a1a1a" stroke-width="0.8"/>
<text x="405.45" y="293.40" font-size="6.3" text-anchor="middle" fill="#333" >0.1</text>
<line x1="422.30" y1="282.10" x2="422.30" y2="285.10" stroke="#1a1a1a" stroke-width="0.8"/>
<text x="422.30" y="293.40" font-size="6.3" text-anchor="middle" fill="#333" >0.2</text>
<line x1="439.15" y1="282.10" x2="439.15" y2="285.10" stroke="#1a1a1a" stroke-width="0.8"/>
<text x="439.15" y="293.40" font-size="6.3" text-anchor="middle" fill="#333" >0.3</text>
<line x1="456.00" y1="282.10" x2="456.00" y2="285.10" stroke="#1a1a1a" stroke-width="0.8"/>
<text x="456.00" y="293.40" font-size="6.3" text-anchor="middle" fill="#333" >0.4</text>
<text x="7.00" y="16.30" font-size="11.5" text-anchor="start" fill="#111" font-weight="bold" >G</text>
<text x="240.00" y="16.30" font-size="11.5" text-anchor="start" fill="#111" font-weight="bold" >H</text>
<text x="17.20" y="28.50" font-size="8.5" text-anchor="start" fill="#111" font-weight="bold" >i</text>
<text x="133.60" y="28.20" font-size="8.5" text-anchor="start" fill="#111" font-weight="bold" >ii</text>
<text x="250.00" y="28.60" font-size="8.5" text-anchor="start" fill="#111" font-weight="bold" >i</text>
<text x="366.20" y="28.20" font-size="8.5" text-anchor="start" fill="#111" font-weight="bold" >ii</text>
<text x="80.20" y="29.50" font-size="8.0" text-anchor="middle" fill="#222" textLength="25.5" lengthAdjust="spacingAndGlyphs" >PT01A</text>
<text x="313.80" y="29.30" font-size="8.0" text-anchor="middle" fill="#222" textLength="25" lengthAdjust="spacingAndGlyphs" >PT10A</text>
<text x="80.40" y="305.00" font-size="8.2" text-anchor="middle" fill="#333" textLength="24" lengthAdjust="spacingAndGlyphs" >Fraction</text>
<text x="192.00" y="305.00" font-size="8.2" text-anchor="middle" fill="#333" textLength="24" lengthAdjust="spacingAndGlyphs" >Fraction</text>
<text x="313.50" y="305.00" font-size="8.2" text-anchor="middle" fill="#333" textLength="24" lengthAdjust="spacingAndGlyphs" >Fraction</text>
<text x="422.30" y="305.50" font-size="8.2" text-anchor="middle" fill="#333" textLength="24" lengthAdjust="spacingAndGlyphs" >Fraction</text>
<text transform="translate(13.4,157.8) rotate(-90)" x="0" y="0" font-size="8.2" text-anchor="middle" fill="#333" textLength="24" lengthAdjust="spacingAndGlyphs">Sections</text>
<rect x="464.1" y="129.50" width="6.9" height="6.6" fill="#9aa8cc"/>
<text x="474.60" y="135.30" font-size="7.2" text-anchor="start" fill="#333" textLength="31.0" lengthAdjust="spacingAndGlyphs" >CD4_Tcells</text>
<rect x="464.1" y="137.90" width="6.9" height="6.6" fill="#134689"/>
<text x="474.60" y="143.70" font-size="7.2" text-anchor="start" fill="#333" textLength="31.0" lengthAdjust="spacingAndGlyphs" >CD8_Tcells</text>
<rect x="464.1" y="146.90" width="6.9" height="6.6" fill="#b7d8a4"/>
<text x="474.60" y="152.70" font-size="7.2" text-anchor="start" fill="#333" textLength="8.6" lengthAdjust="spacingAndGlyphs" >DC</text>
<rect x="464.1" y="156.20" width="6.9" height="6.6" fill="#35a53a"/>
<text x="474.60" y="162.00" font-size="7.2" text-anchor="start" fill="#333" textLength="35.2" lengthAdjust="spacingAndGlyphs" >Endothelial_</text>
<text x="474.60" y="169.90" font-size="7.2" text-anchor="start" fill="#333" textLength="11.9" lengthAdjust="spacingAndGlyphs" >cells</text>
<rect x="464.1" y="172.30" width="6.9" height="6.6" fill="#e98f8c"/>
<text x="474.60" y="178.10" font-size="7.2" text-anchor="start" fill="#333" textLength="30.7" lengthAdjust="spacingAndGlyphs" >Fibroblasts</text>
<rect x="464.1" y="181.00" width="6.9" height="6.6" fill="#cc1435"/>
<text x="474.60" y="186.80" font-size="7.2" text-anchor="start" fill="#333" textLength="38.8" lengthAdjust="spacingAndGlyphs" >Macrophages</text>
<rect x="464.1" y="189.80" width="6.9" height="6.6" fill="#fdd19a"/>
<text x="474.60" y="195.60" font-size="7.2" text-anchor="start" fill="#333" textLength="30.7" lengthAdjust="spacingAndGlyphs" >Monocytes</text>
<rect x="464.1" y="198.80" width="6.9" height="6.6" fill="#f39a1e"/>
<text x="474.60" y="204.60" font-size="7.2" text-anchor="start" fill="#333" textLength="33.2" lengthAdjust="spacingAndGlyphs" >Neutrophils</text>
<rect x="464.1" y="207.60" width="6.9" height="6.6" fill="#a085ab"/>
<text x="474.60" y="213.40" font-size="7.2" text-anchor="start" fill="#333" textLength="35.2" lengthAdjust="spacingAndGlyphs" >Plasma_cells</text>
<rect x="464.1" y="216.70" width="6.9" height="6.6" fill="#561b63"/>
<text x="474.60" y="222.50" font-size="7.2" text-anchor="start" fill="#333" textLength="15.3" lengthAdjust="spacingAndGlyphs" >Tregs</text>
<path d="M35.60 332.60 H74.60 V334.35 H100.80 V336.11 H78.50 V337.86 H62.30 V339.61 H64.60 V341.37 H87.70 V343.12 H87.00 V344.87 H70.80 V346.63 H82.30 V348.38 H71.50 V350.13 H68.50 V351.89 H79.00 V353.64 H80.00 V355.40 H79.00 V357.15 H68.50 V358.90 H74.60 V360.66 H83.80 V362.41 H71.50 V364.16 H83.80 V365.92 H73.00 V367.67 H72.30 V369.42 H83.00 V371.18 H84.60 V372.93 H83.00 V374.68 H76.00 V376.44 H83.80 V378.19 H65.40 V379.94 H75.40 V381.70 H83.80 V383.45 H80.00 V385.20 H76.00 V386.96 H73.80 V388.71 H78.50 V390.47 H78.50 V392.22 H71.50 V393.97 H77.00 V395.73 H71.50 V397.48 H80.00 V399.23 H71.50 V400.99 H65.40 V402.74 H69.00 V404.49 H63.80 V406.25 H66.00 V408.00 H35.60 Z" fill="#a788b5"/>
<rect x="35.10" y="385.6" width="90" height="1.6" fill="#fff"/>
<line x1="28.50" y1="333.48" x2="32.50" y2="333.48" stroke="#1a1a1a" stroke-width="0.7"/>
<line x1="28.50" y1="335.23" x2="32.50" y2="335.23" stroke="#1a1a1a" stroke-width="0.7"/>
<line x1="28.50" y1="336.98" x2="32.50" y2="336.98" stroke="#1a1a1a" stroke-width="0.7"/>
<line x1="28.50" y1="338.74" x2="32.50" y2="338.74" stroke="#1a1a1a" stroke-width="0.7"/>
<line x1="28.50" y1="340.49" x2="32.50" y2="340.49" stroke="#1a1a1a" stroke-width="0.7"/>
<line x1="28.50" y1="342.24" x2="32.50" y2="342.24" stroke="#1a1a1a" stroke-width="0.7"/>
<line x1="28.50" y1="344.00" x2="32.50" y2="344.00" stroke="#1a1a1a" stroke-width="0.7"/>
<line x1="28.50" y1="345.75" x2="32.50" y2="345.75" stroke="#1a1a1a" stroke-width="0.7"/>
<line x1="28.50" y1="347.50" x2="32.50" y2="347.50" stroke="#1a1a1a" stroke-width="0.7"/>
<line x1="28.50" y1="349.26" x2="32.50" y2="349.26" stroke="#1a1a1a" stroke-width="0.7"/>
<line x1="28.50" y1="351.01" x2="32.50" y2="351.01" stroke="#1a1a1a" stroke-width="0.7"/>
<line x1="28.50" y1="352.77" x2="32.50" y2="352.77" stroke="#1a1a1a" stroke-width="0.7"/>
<line x1="28.50" y1="354.52" x2="32.50" y2="354.52" stroke="#1a1a1a" stroke-width="0.7"/>
<line x1="28.50" y1="356.27" x2="32.50" y2="356.27" stroke="#1a1a1a" stroke-width="0.7"/>
<line x1="28.50" y1="358.03" x2="32.50" y2="358.03" stroke="#1a1a1a" stroke-width="0.7"/>
<line x1="28.50" y1="359.78" x2="32.50" y2="359.78" stroke="#1a1a1a" stroke-width="0.7"/>
<line x1="28.50" y1="361.53" x2="32.50" y2="361.53" stroke="#1a1a1a" stroke-width="0.7"/>
<line x1="28.50" y1="363.29" x2="32.50" y2="363.29" stroke="#1a1a1a" stroke-width="0.7"/>
<line x1="28.50" y1="365.04" x2="32.50" y2="365.04" stroke="#1a1a1a" stroke-width="0.7"/>
<line x1="28.50" y1="366.79" x2="32.50" y2="366.79" stroke="#1a1a1a" stroke-width="0.7"/>
<line x1="28.50" y1="368.55" x2="32.50" y2="368.55" stroke="#1a1a1a" stroke-width="0.7"/>
<line x1="28.50" y1="370.30" x2="32.50" y2="370.30" stroke="#1a1a1a" stroke-width="0.7"/>
<line x1="28.50" y1="372.05" x2="32.50" y2="372.05" stroke="#1a1a1a" stroke-width="0.7"/>
<line x1="28.50" y1="373.81" x2="32.50" y2="373.81" stroke="#1a1a1a" stroke-width="0.7"/>
<line x1="28.50" y1="375.56" x2="32.50" y2="375.56" stroke="#1a1a1a" stroke-width="0.7"/>
<line x1="28.50" y1="377.31" x2="32.50" y2="377.31" stroke="#1a1a1a" stroke-width="0.7"/>
<line x1="28.50" y1="379.07" x2="32.50" y2="379.07" stroke="#1a1a1a" stroke-width="0.7"/>
<line x1="28.50" y1="380.82" x2="32.50" y2="380.82" stroke="#1a1a1a" stroke-width="0.7"/>
<line x1="28.50" y1="382.57" x2="32.50" y2="382.57" stroke="#1a1a1a" stroke-width="0.7"/>
<line x1="28.50" y1="384.33" x2="32.50" y2="384.33" stroke="#1a1a1a" stroke-width="0.7"/>
<line x1="28.50" y1="386.08" x2="32.50" y2="386.08" stroke="#1a1a1a" stroke-width="0.7"/>
<line x1="28.50" y1="387.83" x2="32.50" y2="387.83" stroke="#1a1a1a" stroke-width="0.7"/>
<line x1="28.50" y1="389.59" x2="32.50" y2="389.59" stroke="#1a1a1a" stroke-width="0.7"/>
<line x1="28.50" y1="391.34" x2="32.50" y2="391.34" stroke="#1a1a1a" stroke-width="0.7"/>
<line x1="28.50" y1="393.10" x2="32.50" y2="393.10" stroke="#1a1a1a" stroke-width="0.7"/>
<line x1="28.50" y1="394.85" x2="32.50" y2="394.85" stroke="#1a1a1a" stroke-width="0.7"/>
<line x1="28.50" y1="396.60" x2="32.50" y2="396.60" stroke="#1a1a1a" stroke-width="0.7"/>
<line x1="28.50" y1="398.36" x2="32.50" y2="398.36" stroke="#1a1a1a" stroke-width="0.7"/>
<line x1="28.50" y1="400.11" x2="32.50" y2="400.11" stroke="#1a1a1a" stroke-width="0.7"/>
<line x1="28.50" y1="401.86" x2="32.50" y2="401.86" stroke="#1a1a1a" stroke-width="0.7"/>
<line x1="28.50" y1="403.62" x2="32.50" y2="403.62" stroke="#1a1a1a" stroke-width="0.7"/>
<line x1="28.50" y1="405.37" x2="32.50" y2="405.37" stroke="#1a1a1a" stroke-width="0.7"/>
<line x1="28.50" y1="407.12" x2="32.50" y2="407.12" stroke="#1a1a1a" stroke-width="0.7"/>
<path d="M32.50 332.10 V408.50 H110.30" fill="none" stroke="#1a1a1a" stroke-width="1"/>
<line x1="35.80" y1="408.50" x2="35.80" y2="411.00" stroke="#1a1a1a" stroke-width="0.8"/>
<text x="35.80" y="419.70" font-size="6.2" text-anchor="middle" fill="#333" >0</text>
<line x1="58.60" y1="408.50" x2="58.60" y2="411.00" stroke="#1a1a1a" stroke-width="0.8"/>
<text x="58.60" y="419.70" font-size="6.2" text-anchor="middle" fill="#333" >400</text>
<line x1="81.40" y1="408.50" x2="81.40" y2="411.00" stroke="#1a1a1a" stroke-width="0.8"/>
<text x="81.40" y="419.70" font-size="6.2" text-anchor="middle" fill="#333" >800</text>
<line x1="104.20" y1="408.50" x2="104.20" y2="411.00" stroke="#1a1a1a" stroke-width="0.8"/>
<text x="104.20" y="419.70" font-size="6.2" text-anchor="middle" fill="#333" >1200</text>
<text x="71.00" y="327.00" font-size="8.3" text-anchor="middle" fill="#222" font-style="italic" >TNFRSF17</text>
<text transform="translate(18.0,370.3) rotate(-90)" x="0" y="0" font-size="8.8" text-anchor="middle" fill="#333" textLength="25" lengthAdjust="spacingAndGlyphs">Sections</text>
<text x="25.60" y="336.20" font-size="6.2" text-anchor="end" fill="#333" >1</text>
<text x="26.50" y="410.50" font-size="6.4" text-anchor="end" fill="#333" >43</text>
<text x="71.35" y="431.50" font-size="7.9" text-anchor="middle" fill="#333" textLength="52.6" lengthAdjust="spacingAndGlyphs" >Normalized count</text>
<path d="M146.00 332.60 H191.50 V334.35 H177.00 V336.11 H176.00 V337.86 H165.40 V339.61 H183.80 V341.37 H166.00 V343.12 H190.00 V344.87 H193.00 V346.63 H170.80 V348.38 H168.50 V350.13 H185.40 V351.89 H177.00 V353.64 H200.00 V355.40 H171.50 V357.15 H197.00 V358.90 H195.40 V360.66 H190.80 V362.41 H183.80 V364.16 H187.00 V365.92 H191.50 V367.67 H184.60 V369.42 H187.70 V371.18 H185.40 V372.93 H185.40 V374.68 H186.00 V376.44 H204.60 V378.19 H186.00 V379.94 H199.20 V381.70 H187.00 V383.45 H194.60 V385.20 H188.00 V386.96 H181.50 V388.71 H187.70 V390.47 H193.00 V392.22 H193.00 V393.97 H193.00 V395.73 H187.70 V397.48 H179.20 V399.23 H212.30 V400.99 H180.00 V402.74 H167.00 V404.49 H194.60 V406.25 H175.00 V408.00 H146.00 Z" fill="#a788b5"/>
<rect x="145.50" y="385.6" width="90" height="1.6" fill="#fff"/>
<line x1="140.50" y1="333.48" x2="144.50" y2="333.48" stroke="#1a1a1a" stroke-width="0.7"/>
<line x1="140.50" y1="335.23" x2="144.50" y2="335.23" stroke="#1a1a1a" stroke-width="0.7"/>
<line x1="140.50" y1="336.98" x2="144.50" y2="336.98" stroke="#1a1a1a" stroke-width="0.7"/>
<line x1="140.50" y1="338.74" x2="144.50" y2="338.74" stroke="#1a1a1a" stroke-width="0.7"/>
<line x1="140.50" y1="340.49" x2="144.50" y2="340.49" stroke="#1a1a1a" stroke-width="0.7"/>
<line x1="140.50" y1="342.24" x2="144.50" y2="342.24" stroke="#1a1a1a" stroke-width="0.7"/>
<line x1="140.50" y1="344.00" x2="144.50" y2="344.00" stroke="#1a1a1a" stroke-width="0.7"/>
<line x1="140.50" y1="345.75" x2="144.50" y2="345.75" stroke="#1a1a1a" stroke-width="0.7"/>
<line x1="140.50" y1="347.50" x2="144.50" y2="347.50" stroke="#1a1a1a" stroke-width="0.7"/>
<line x1="140.50" y1="349.26" x2="144.50" y2="349.26" stroke="#1a1a1a" stroke-width="0.7"/>
<line x1="140.50" y1="351.01" x2="144.50" y2="351.01" stroke="#1a1a1a" stroke-width="0.7"/>
<line x1="140.50" y1="352.77" x2="144.50" y2="352.77" stroke="#1a1a1a" stroke-width="0.7"/>
<line x1="140.50" y1="354.52" x2="144.50" y2="354.52" stroke="#1a1a1a" stroke-width="0.7"/>
<line x1="140.50" y1="356.27" x2="144.50" y2="356.27" stroke="#1a1a1a" stroke-width="0.7"/>
<line x1="140.50" y1="358.03" x2="144.50" y2="358.03" stroke="#1a1a1a" stroke-width="0.7"/>
<line x1="140.50" y1="359.78" x2="144.50" y2="359.78" stroke="#1a1a1a" stroke-width="0.7"/>
<line x1="140.50" y1="361.53" x2="144.50" y2="361.53" stroke="#1a1a1a" stroke-width="0.7"/>
<line x1="140.50" y1="363.29" x2="144.50" y2="363.29" stroke="#1a1a1a" stroke-width="0.7"/>
<line x1="140.50" y1="365.04" x2="144.50" y2="365.04" stroke="#1a1a1a" stroke-width="0.7"/>
<line x1="140.50" y1="366.79" x2="144.50" y2="366.79" stroke="#1a1a1a" stroke-width="0.7"/>
<line x1="140.50" y1="368.55" x2="144.50" y2="368.55" stroke="#1a1a1a" stroke-width="0.7"/>
<line x1="140.50" y1="370.30" x2="144.50" y2="370.30" stroke="#1a1a1a" stroke-width="0.7"/>
<line x1="140.50" y1="372.05" x2="144.50" y2="372.05" stroke="#1a1a1a" stroke-width="0.7"/>
<line x1="140.50" y1="373.81" x2="144.50" y2="373.81" stroke="#1a1a1a" stroke-width="0.7"/>
<line x1="140.50" y1="375.56" x2="144.50" y2="375.56" stroke="#1a1a1a" stroke-width="0.7"/>
<line x1="140.50" y1="377.31" x2="144.50" y2="377.31" stroke="#1a1a1a" stroke-width="0.7"/>
<line x1="140.50" y1="379.07" x2="144.50" y2="379.07" stroke="#1a1a1a" stroke-width="0.7"/>
<line x1="140.50" y1="380.82" x2="144.50" y2="380.82" stroke="#1a1a1a" stroke-width="0.7"/>
<line x1="140.50" y1="382.57" x2="144.50" y2="382.57" stroke="#1a1a1a" stroke-width="0.7"/>
<line x1="140.50" y1="384.33" x2="144.50" y2="384.33" stroke="#1a1a1a" stroke-width="0.7"/>
<line x1="140.50" y1="386.08" x2="144.50" y2="386.08" stroke="#1a1a1a" stroke-width="0.7"/>
<line x1="140.50" y1="387.83" x2="144.50" y2="387.83" stroke="#1a1a1a" stroke-width="0.7"/>
<line x1="140.50" y1="389.59" x2="144.50" y2="389.59" stroke="#1a1a1a" stroke-width="0.7"/>
<line x1="140.50" y1="391.34" x2="144.50" y2="391.34" stroke="#1a1a1a" stroke-width="0.7"/>
<line x1="140.50" y1="393.10" x2="144.50" y2="393.10" stroke="#1a1a1a" stroke-width="0.7"/>
<line x1="140.50" y1="394.85" x2="144.50" y2="394.85" stroke="#1a1a1a" stroke-width="0.7"/>
<line x1="140.50" y1="396.60" x2="144.50" y2="396.60" stroke="#1a1a1a" stroke-width="0.7"/>
<line x1="140.50" y1="398.36" x2="144.50" y2="398.36" stroke="#1a1a1a" stroke-width="0.7"/>
<line x1="140.50" y1="400.11" x2="144.50" y2="400.11" stroke="#1a1a1a" stroke-width="0.7"/>
<line x1="140.50" y1="401.86" x2="144.50" y2="401.86" stroke="#1a1a1a" stroke-width="0.7"/>
<line x1="140.50" y1="403.62" x2="144.50" y2="403.62" stroke="#1a1a1a" stroke-width="0.7"/>
<line x1="140.50" y1="405.37" x2="144.50" y2="405.37" stroke="#1a1a1a" stroke-width="0.7"/>
<line x1="140.50" y1="407.12" x2="144.50" y2="407.12" stroke="#1a1a1a" stroke-width="0.7"/>
<path d="M144.50 332.10 V408.50 H218.00" fill="none" stroke="#1a1a1a" stroke-width="1"/>
<line x1="146.20" y1="408.50" x2="146.20" y2="411.00" stroke="#1a1a1a" stroke-width="0.8"/>
<text x="146.20" y="419.70" font-size="6.2" text-anchor="middle" fill="#333" >0</text>
<line x1="163.35" y1="408.50" x2="163.35" y2="411.00" stroke="#1a1a1a" stroke-width="0.8"/>
<text x="163.35" y="419.70" font-size="6.2" text-anchor="middle" fill="#333" >50</text>
<line x1="180.50" y1="408.50" x2="180.50" y2="411.00" stroke="#1a1a1a" stroke-width="0.8"/>
<text x="180.50" y="419.70" font-size="6.2" text-anchor="middle" fill="#333" >100</text>
<line x1="197.65" y1="408.50" x2="197.65" y2="411.00" stroke="#1a1a1a" stroke-width="0.8"/>
<text x="197.65" y="419.70" font-size="6.2" text-anchor="middle" fill="#333" >150</text>
<line x1="214.80" y1="408.50" x2="214.80" y2="411.00" stroke="#1a1a1a" stroke-width="0.8"/>
<text x="214.80" y="419.70" font-size="6.2" text-anchor="middle" fill="#333" >200</text>
<text x="180.40" y="327.00" font-size="8.3" text-anchor="middle" fill="#222" font-style="italic" >GPRC5D</text>
<text transform="translate(125.5,370.3) rotate(-90)" x="0" y="0" font-size="8.8" text-anchor="middle" fill="#333" textLength="25" lengthAdjust="spacingAndGlyphs">Sections</text>
<text x="135.80" y="336.20" font-size="6.2" text-anchor="end" fill="#333" >1</text>
<text x="137.40" y="410.50" font-size="6.4" text-anchor="end" fill="#333" >43</text>
<text x="180.40" y="431.50" font-size="7.9" text-anchor="middle" fill="#333" textLength="52.6" lengthAdjust="spacingAndGlyphs" >Normalized count</text>
<path d="M258.80 332.40 H272.80 V334.27 H277.80 V336.15 H278.20 V338.02 H277.40 V339.90 H268.50 V341.77 H272.40 V343.65 H274.30 V345.52 H273.50 V347.40 H273.20 V349.27 H273.50 V351.15 H274.30 V353.02 H275.00 V354.90 H267.80 V356.77 H274.30 V358.65 H275.00 V360.52 H275.00 V362.40 H274.30 V364.27 H275.00 V366.15 H274.60 V368.02 H275.80 V369.90 H276.60 V371.77 H277.40 V373.65 H275.00 V375.52 H274.30 V377.40 H276.00 V379.27 H275.00 V381.15 H278.50 V383.02 H275.00 V384.90 H274.30 V386.77 H274.60 V388.65 H275.80 V390.52 H275.00 V392.40 H275.00 V394.27 H274.00 V396.15 H274.60 V398.02 H275.00 V399.90 H274.30 V401.77 H274.60 V403.65 H273.50 V405.52 H272.00 V407.40 H258.80 Z" fill="#a788b5"/>
<line x1="251.90" y1="333.34" x2="255.90" y2="333.34" stroke="#1a1a1a" stroke-width="0.7"/>
<line x1="251.90" y1="335.21" x2="255.90" y2="335.21" stroke="#1a1a1a" stroke-width="0.7"/>
<line x1="251.90" y1="337.09" x2="255.90" y2="337.09" stroke="#1a1a1a" stroke-width="0.7"/>
<line x1="251.90" y1="338.96" x2="255.90" y2="338.96" stroke="#1a1a1a" stroke-width="0.7"/>
<line x1="251.90" y1="340.84" x2="255.90" y2="340.84" stroke="#1a1a1a" stroke-width="0.7"/>
<line x1="251.90" y1="342.71" x2="255.90" y2="342.71" stroke="#1a1a1a" stroke-width="0.7"/>
<line x1="251.90" y1="344.59" x2="255.90" y2="344.59" stroke="#1a1a1a" stroke-width="0.7"/>
<line x1="251.90" y1="346.46" x2="255.90" y2="346.46" stroke="#1a1a1a" stroke-width="0.7"/>
<line x1="251.90" y1="348.34" x2="255.90" y2="348.34" stroke="#1a1a1a" stroke-width="0.7"/>
<line x1="251.90" y1="350.21" x2="255.90" y2="350.21" stroke="#1a1a1a" stroke-width="0.7"/>
<line x1="251.90" y1="352.09" x2="255.90" y2="352.09" stroke="#1a1a1a" stroke-width="0.7"/>
<line x1="251.90" y1="353.96" x2="255.90" y2="353.96" stroke="#1a1a1a" stroke-width="0.7"/>
<line x1="251.90" y1="355.84" x2="255.90" y2="355.84" stroke="#1a1a1a" stroke-width="0.7"/>
<line x1="251.90" y1="357.71" x2="255.90" y2="357.71" stroke="#1a1a1a" stroke-width="0.7"/>
<line x1="251.90" y1="359.59" x2="255.90" y2="359.59" stroke="#1a1a1a" stroke-width="0.7"/>
<line x1="251.90" y1="361.46" x2="255.90" y2="361.46" stroke="#1a1a1a" stroke-width="0.7"/>
<line x1="251.90" y1="363.34" x2="255.90" y2="363.34" stroke="#1a1a1a" stroke-width="0.7"/>
<line x1="251.90" y1="365.21" x2="255.90" y2="365.21" stroke="#1a1a1a" stroke-width="0.7"/>
<line x1="251.90" y1="367.09" x2="255.90" y2="367.09" stroke="#1a1a1a" stroke-width="0.7"/>
<line x1="251.90" y1="368.96" x2="255.90" y2="368.96" stroke="#1a1a1a" stroke-width="0.7"/>
<line x1="251.90" y1="370.84" x2="255.90" y2="370.84" stroke="#1a1a1a" stroke-width="0.7"/>
<line x1="251.90" y1="372.71" x2="255.90" y2="372.71" stroke="#1a1a1a" stroke-width="0.7"/>
<line x1="251.90" y1="374.59" x2="255.90" y2="374.59" stroke="#1a1a1a" stroke-width="0.7"/>
<line x1="251.90" y1="376.46" x2="255.90" y2="376.46" stroke="#1a1a1a" stroke-width="0.7"/>
<line x1="251.90" y1="378.34" x2="255.90" y2="378.34" stroke="#1a1a1a" stroke-width="0.7"/>
<line x1="251.90" y1="380.21" x2="255.90" y2="380.21" stroke="#1a1a1a" stroke-width="0.7"/>
<line x1="251.90" y1="382.09" x2="255.90" y2="382.09" stroke="#1a1a1a" stroke-width="0.7"/>
<line x1="251.90" y1="383.96" x2="255.90" y2="383.96" stroke="#1a1a1a" stroke-width="0.7"/>
<line x1="251.90" y1="385.84" x2="255.90" y2="385.84" stroke="#1a1a1a" stroke-width="0.7"/>
<line x1="251.90" y1="387.71" x2="255.90" y2="387.71" stroke="#1a1a1a" stroke-width="0.7"/>
<line x1="251.90" y1="389.59" x2="255.90" y2="389.59" stroke="#1a1a1a" stroke-width="0.7"/>
<line x1="251.90" y1="391.46" x2="255.90" y2="391.46" stroke="#1a1a1a" stroke-width="0.7"/>
<line x1="251.90" y1="393.34" x2="255.90" y2="393.34" stroke="#1a1a1a" stroke-width="0.7"/>
<line x1="251.90" y1="395.21" x2="255.90" y2="395.21" stroke="#1a1a1a" stroke-width="0.7"/>
<line x1="251.90" y1="397.09" x2="255.90" y2="397.09" stroke="#1a1a1a" stroke-width="0.7"/>
<line x1="251.90" y1="398.96" x2="255.90" y2="398.96" stroke="#1a1a1a" stroke-width="0.7"/>
<line x1="251.90" y1="400.84" x2="255.90" y2="400.84" stroke="#1a1a1a" stroke-width="0.7"/>
<line x1="251.90" y1="402.71" x2="255.90" y2="402.71" stroke="#1a1a1a" stroke-width="0.7"/>
<line x1="251.90" y1="404.59" x2="255.90" y2="404.59" stroke="#1a1a1a" stroke-width="0.7"/>
<line x1="251.90" y1="406.46" x2="255.90" y2="406.46" stroke="#1a1a1a" stroke-width="0.7"/>
<path d="M255.90 331.90 V408.00 H333.50" fill="none" stroke="#1a1a1a" stroke-width="1"/>
<line x1="258.90" y1="408.00" x2="258.90" y2="410.50" stroke="#1a1a1a" stroke-width="0.8"/>
<text x="258.90" y="419.20" font-size="6.2" text-anchor="middle" fill="#333" >0</text>
<line x1="281.80" y1="408.00" x2="281.80" y2="410.50" stroke="#1a1a1a" stroke-width="0.8"/>
<text x="281.80" y="419.20" font-size="6.2" text-anchor="middle" fill="#333" >400</text>
<line x1="304.70" y1="408.00" x2="304.70" y2="410.50" stroke="#1a1a1a" stroke-width="0.8"/>
<text x="304.70" y="419.20" font-size="6.2" text-anchor="middle" fill="#333" >800</text>
<line x1="327.60" y1="408.00" x2="327.60" y2="410.50" stroke="#1a1a1a" stroke-width="0.8"/>
<text x="327.60" y="419.20" font-size="6.2" text-anchor="middle" fill="#333" >1200</text>
<text x="294.00" y="327.00" font-size="8.3" text-anchor="middle" fill="#222" font-style="italic" >TNFRSF17</text>
<text transform="translate(237.3,370.3) rotate(-90)" x="0" y="0" font-size="8.8" text-anchor="middle" fill="#333" textLength="25" lengthAdjust="spacingAndGlyphs">Sections</text>
<text x="247.90" y="336.00" font-size="6.2" text-anchor="end" fill="#333" >1</text>
<text x="249.10" y="409.90" font-size="6.4" text-anchor="end" fill="#333" >40</text>
<text x="294.55" y="431.00" font-size="7.9" text-anchor="middle" fill="#333" textLength="52.6" lengthAdjust="spacingAndGlyphs" >Normalized count</text>
<path d="M369.00 332.40 H369.80 V334.27 H369.80 V336.15 H369.80 V338.02 H369.80 V339.90 H369.80 V341.77 H369.80 V343.65 H369.80 V345.52 H369.80 V347.40 H369.80 V349.27 H369.80 V351.15 H369.80 V353.02 H369.80 V354.90 H369.80 V356.77 H369.80 V358.65 H369.80 V360.52 H369.80 V362.40 H369.80 V364.27 H369.80 V366.15 H369.80 V368.02 H369.80 V369.90 H369.80 V371.77 H369.80 V373.65 H369.80 V375.52 H369.80 V377.40 H369.80 V379.27 H369.80 V381.15 H369.80 V383.02 H369.80 V384.90 H369.80 V386.77 H369.80 V388.65 H369.80 V390.52 H369.80 V392.40 H369.80 V394.27 H369.80 V396.15 H369.80 V398.02 H369.80 V399.90 H369.80 V401.77 H369.80 V403.65 H369.80 V405.52 H369.80 V407.40 H369.00 Z" fill="#a788b5"/>
<line x1="362.20" y1="333.34" x2="366.20" y2="333.34" stroke="#1a1a1a" stroke-width="0.7"/>
<line x1="362.20" y1="335.21" x2="366.20" y2="335.21" stroke="#1a1a1a" stroke-width="0.7"/>
<line x1="362.20" y1="337.09" x2="366.20" y2="337.09" stroke="#1a1a1a" stroke-width="0.7"/>
<line x1="362.20" y1="338.96" x2="366.20" y2="338.96" stroke="#1a1a1a" stroke-width="0.7"/>
<line x1="362.20" y1="340.84" x2="366.20" y2="340.84" stroke="#1a1a1a" stroke-width="0.7"/>
<line x1="362.20" y1="342.71" x2="366.20" y2="342.71" stroke="#1a1a1a" stroke-width="0.7"/>
<line x1="362.20" y1="344.59" x2="366.20" y2="344.59" stroke="#1a1a1a" stroke-width="0.7"/>
<line x1="362.20" y1="346.46" x2="366.20" y2="346.46" stroke="#1a1a1a" stroke-width="0.7"/>
<line x1="362.20" y1="348.34" x2="366.20" y2="348.34" stroke="#1a1a1a" stroke-width="0.7"/>
<line x1="362.20" y1="350.21" x2="366.20" y2="350.21" stroke="#1a1a1a" stroke-width="0.7"/>
<line x1="362.20" y1="352.09" x2="366.20" y2="352.09" stroke="#1a1a1a" stroke-width="0.7"/>
<line x1="362.20" y1="353.96" x2="366.20" y2="353.96" stroke="#1a1a1a" stroke-width="0.7"/>
<line x1="362.20" y1="355.84" x2="366.20" y2="355.84" stroke="#1a1a1a" stroke-width="0.7"/>
<line x1="362.20" y1="357.71" x2="366.20" y2="357.71" stroke="#1a1a1a" stroke-width="0.7"/>
<line x1="362.20" y1="359.59" x2="366.20" y2="359.59" stroke="#1a1a1a" stroke-width="0.7"/>
<line x1="362.20" y1="361.46" x2="366.20" y2="361.46" stroke="#1a1a1a" stroke-width="0.7"/>
<line x1="362.20" y1="363.34" x2="366.20" y2="363.34" stroke="#1a1a1a" stroke-width="0.7"/>
<line x1="362.20" y1="365.21" x2="366.20" y2="365.21" stroke="#1a1a1a" stroke-width="0.7"/>
<line x1="362.20" y1="367.09" x2="366.20" y2="367.09" stroke="#1a1a1a" stroke-width="0.7"/>
<line x1="362.20" y1="368.96" x2="366.20" y2="368.96" stroke="#1a1a1a" stroke-width="0.7"/>
<line x1="362.20" y1="370.84" x2="366.20" y2="370.84" stroke="#1a1a1a" stroke-width="0.7"/>
<line x1="362.20" y1="372.71" x2="366.20" y2="372.71" stroke="#1a1a1a" stroke-width="0.7"/>
<line x1="362.20" y1="374.59" x2="366.20" y2="374.59" stroke="#1a1a1a" stroke-width="0.7"/>
<line x1="362.20" y1="376.46" x2="366.20" y2="376.46" stroke="#1a1a1a" stroke-width="0.7"/>
<line x1="362.20" y1="378.34" x2="366.20" y2="378.34" stroke="#1a1a1a" stroke-width="0.7"/>
<line x1="362.20" y1="380.21" x2="366.20" y2="380.21" stroke="#1a1a1a" stroke-width="0.7"/>
<line x1="362.20" y1="382.09" x2="366.20" y2="382.09" stroke="#1a1a1a" stroke-width="0.7"/>
<line x1="362.20" y1="383.96" x2="366.20" y2="383.96" stroke="#1a1a1a" stroke-width="0.7"/>
<line x1="362.20" y1="385.84" x2="366.20" y2="385.84" stroke="#1a1a1a" stroke-width="0.7"/>
<line x1="362.20" y1="387.71" x2="366.20" y2="387.71" stroke="#1a1a1a" stroke-width="0.7"/>
<line x1="362.20" y1="389.59" x2="366.20" y2="389.59" stroke="#1a1a1a" stroke-width="0.7"/>
<line x1="362.20" y1="391.46" x2="366.20" y2="391.46" stroke="#1a1a1a" stroke-width="0.7"/>
<line x1="362.20" y1="393.34" x2="366.20" y2="393.34" stroke="#1a1a1a" stroke-width="0.7"/>
<line x1="362.20" y1="395.21" x2="366.20" y2="395.21" stroke="#1a1a1a" stroke-width="0.7"/>
<line x1="362.20" y1="397.09" x2="366.20" y2="397.09" stroke="#1a1a1a" stroke-width="0.7"/>
<line x1="362.20" y1="398.96" x2="366.20" y2="398.96" stroke="#1a1a1a" stroke-width="0.7"/>
<line x1="362.20" y1="400.84" x2="366.20" y2="400.84" stroke="#1a1a1a" stroke-width="0.7"/>
<line x1="362.20" y1="402.71" x2="366.20" y2="402.71" stroke="#1a1a1a" stroke-width="0.7"/>
<line x1="362.20" y1="404.59" x2="366.20" y2="404.59" stroke="#1a1a1a" stroke-width="0.7"/>
<line x1="362.20" y1="406.46" x2="366.20" y2="406.46" stroke="#1a1a1a" stroke-width="0.7"/>
<path d="M366.20 331.90 V408.00 H440.80" fill="none" stroke="#1a1a1a" stroke-width="1"/>
<line x1="369.30" y1="408.00" x2="369.30" y2="410.50" stroke="#1a1a1a" stroke-width="0.8"/>
<text x="369.30" y="419.20" font-size="6.2" text-anchor="middle" fill="#333" >0</text>
<line x1="386.40" y1="408.00" x2="386.40" y2="410.50" stroke="#1a1a1a" stroke-width="0.8"/>
<text x="386.40" y="419.20" font-size="6.2" text-anchor="middle" fill="#333" >50</text>
<line x1="403.50" y1="408.00" x2="403.50" y2="410.50" stroke="#1a1a1a" stroke-width="0.8"/>
<text x="403.50" y="419.20" font-size="6.2" text-anchor="middle" fill="#333" >100</text>
<line x1="420.60" y1="408.00" x2="420.60" y2="410.50" stroke="#1a1a1a" stroke-width="0.8"/>
<text x="420.60" y="419.20" font-size="6.2" text-anchor="middle" fill="#333" >150</text>
<line x1="437.70" y1="408.00" x2="437.70" y2="410.50" stroke="#1a1a1a" stroke-width="0.8"/>
<text x="437.70" y="419.20" font-size="6.2" text-anchor="middle" fill="#333" >200</text>
<text x="403.50" y="327.00" font-size="8.3" text-anchor="middle" fill="#222" font-style="italic" >GPRC5D</text>
<text transform="translate(348.8,370.3) rotate(-90)" x="0" y="0" font-size="8.8" text-anchor="middle" fill="#333" textLength="25" lengthAdjust="spacingAndGlyphs">Sections</text>
<text x="358.80" y="336.00" font-size="6.2" text-anchor="end" fill="#333" >1</text>
<text x="360.40" y="409.90" font-size="6.4" text-anchor="end" fill="#333" >40</text>
<text x="403.30" y="431.00" font-size="7.9" text-anchor="middle" fill="#333" textLength="52.6" lengthAdjust="spacingAndGlyphs" >Normalized count</text>
<text x="8.50" y="326.00" font-size="11.5" text-anchor="start" fill="#111" font-weight="bold" >I</text>
<text x="229.50" y="326.00" font-size="11.5" text-anchor="start" fill="#111" font-weight="bold" >J</text>
<path d="M247.08 479.00 A93.6 93.6 0 0 1 288.57 488.35 L285.61 494.47 A86.8 86.8 0 0 0 247.13 485.80 Z" fill="#ffffff" stroke="#6a6a6a" stroke-width="0.35"/>
<path d="M247.08 479.00 A93.6 93.6 0 0 1 248.30 479.00 L248.27 485.80 A86.8 86.8 0 0 0 247.13 485.80 Z" fill="#e2e2e2"/>
<path d="M250.05 479.03 A93.6 93.6 0 0 1 251.65 479.08 L251.37 485.87 A86.8 86.8 0 0 0 249.88 485.83 Z" fill="#c4c4c4"/>
<path d="M251.62 479.08 A93.6 93.6 0 0 1 252.36 479.11 L252.03 485.90 A86.8 86.8 0 0 0 251.34 485.87 Z" fill="#a2a2a2"/>
<path d="M252.32 479.11 A93.6 93.6 0 0 1 253.03 479.15 L252.65 485.94 A86.8 86.8 0 0 0 252.00 485.90 Z" fill="#c4c4c4"/>
<path d="M252.99 479.14 A93.6 93.6 0 0 1 253.75 479.19 L253.32 485.98 A86.8 86.8 0 0 0 252.62 485.93 Z" fill="#e2e2e2"/>
<path d="M253.72 479.19 A93.6 93.6 0 0 1 255.12 479.29 L254.59 486.07 A86.8 86.8 0 0 0 253.29 485.97 Z" fill="#4a4a4a"/>
<path d="M255.09 479.28 A93.6 93.6 0 0 1 255.94 479.35 L255.35 486.13 A86.8 86.8 0 0 0 254.56 486.06 Z" fill="#e2e2e2"/>
<path d="M255.91 479.35 A93.6 93.6 0 0 1 257.67 479.52 L256.96 486.28 A86.8 86.8 0 0 0 255.32 486.13 Z" fill="#111111"/>
<path d="M257.64 479.52 A93.6 93.6 0 0 1 259.31 479.71 L258.47 486.46 A86.8 86.8 0 0 0 256.93 486.28 Z" fill="#c4c4c4"/>
<path d="M261.62 480.03 A93.6 93.6 0 0 1 263.78 480.37 L262.62 487.07 A86.8 86.8 0 0 0 260.62 486.75 Z" fill="#c4c4c4"/>
<path d="M263.75 480.37 A93.6 93.6 0 0 1 264.63 480.53 L263.41 487.21 A86.8 86.8 0 0 0 262.59 487.07 Z" fill="#e2e2e2"/>
<path d="M264.60 480.52 A93.6 93.6 0 0 1 265.77 480.74 L264.46 487.41 A86.8 86.8 0 0 0 263.38 487.21 Z" fill="#4a4a4a"/>
<path d="M265.74 480.73 A93.6 93.6 0 0 1 266.68 480.92 L265.31 487.58 A86.8 86.8 0 0 0 264.43 487.41 Z" fill="#a2a2a2"/>
<path d="M266.65 480.92 A93.6 93.6 0 0 1 268.40 481.29 L266.90 487.93 A86.8 86.8 0 0 0 265.28 487.58 Z" fill="#c4c4c4"/>
<path d="M268.37 481.29 A93.6 93.6 0 0 1 269.95 481.66 L268.34 488.27 A86.8 86.8 0 0 0 266.87 487.92 Z" fill="#c9a0aa"/>
<path d="M269.92 481.65 A93.6 93.6 0 0 1 270.64 481.83 L268.98 488.42 A86.8 86.8 0 0 0 268.31 488.26 Z" fill="#e2e2e2"/>
<path d="M270.61 481.82 A93.6 93.6 0 0 1 272.41 482.29 L270.62 488.85 A86.8 86.8 0 0 0 268.95 488.42 Z" fill="#c4c4c4"/>
<path d="M272.38 482.28 A93.6 93.6 0 0 1 273.54 482.61 L271.67 489.15 A86.8 86.8 0 0 0 270.59 488.85 Z" fill="#a2a2a2"/>
<path d="M273.51 482.60 A93.6 93.6 0 0 1 274.90 483.01 L272.93 489.52 A86.8 86.8 0 0 0 271.64 489.14 Z" fill="#c4c4c4"/>
<path d="M274.87 483.00 A93.6 93.6 0 0 1 276.85 483.62 L274.74 490.08 A86.8 86.8 0 0 0 272.90 489.51 Z" fill="#7c7c7c"/>
<path d="M276.81 483.61 A93.6 93.6 0 0 1 277.84 483.95 L275.65 490.39 A86.8 86.8 0 0 0 274.71 490.08 Z" fill="#a2a2a2"/>
<path d="M277.80 483.94 A93.6 93.6 0 0 1 279.30 484.46 L277.01 490.86 A86.8 86.8 0 0 0 275.62 490.38 Z" fill="#4a4a4a"/>
<path d="M279.27 484.45 A93.6 93.6 0 0 1 281.10 485.13 L278.68 491.48 A86.8 86.8 0 0 0 276.98 490.85 Z" fill="#c4c4c4"/>
<path d="M281.07 485.11 A93.6 93.6 0 0 1 283.31 486.00 L280.73 492.29 A86.8 86.8 0 0 0 278.66 491.47 Z" fill="#e2e2e2"/>
<path d="M283.28 485.99 A93.6 93.6 0 0 1 284.56 486.52 L281.89 492.78 A86.8 86.8 0 0 0 280.70 492.28 Z" fill="#7c7c7c"/>
<path d="M284.53 486.51 A93.6 93.6 0 0 1 285.37 486.87 L282.64 493.10 A86.8 86.8 0 0 0 281.87 492.76 Z" fill="#a2a2a2"/>
<path d="M285.34 486.86 A93.6 93.6 0 0 1 285.98 487.14 L283.21 493.35 A86.8 86.8 0 0 0 282.61 493.09 Z" fill="#7c7c7c"/>
<path d="M285.96 487.13 A93.6 93.6 0 0 1 287.79 487.97 L284.88 494.12 A86.8 86.8 0 0 0 283.18 493.34 Z" fill="#a2a2a2"/>
<path d="M287.76 487.96 A93.6 93.6 0 0 1 288.60 488.36 L285.64 494.48 A86.8 86.8 0 0 0 284.86 494.11 Z" fill="#c4c4c4"/>
<line x1="247.08" y1="479.00" x2="247.06" y2="476.80" stroke="#666" stroke-width="0.4"/>
<text transform="translate(247.06,476.00) rotate(89.56)" x="0" y="1.5" font-size="4.4" text-anchor="end" fill="#505050">0</text>
<line x1="255.68" y1="479.33" x2="255.86" y2="477.14" stroke="#666" stroke-width="0.4"/>
<text transform="translate(255.93,476.34) rotate(-85.17)" x="0" y="1.5" font-size="4.4" text-anchor="start" fill="#505050" textLength="4.4" lengthAdjust="spacingAndGlyphs">50</text>
<line x1="264.21" y1="480.45" x2="264.60" y2="478.28" stroke="#666" stroke-width="0.4"/>
<text transform="translate(264.74,477.50) rotate(-79.90)" x="0" y="1.5" font-size="4.4" text-anchor="start" fill="#505050" textLength="6.6" lengthAdjust="spacingAndGlyphs">100</text>
<line x1="272.60" y1="482.35" x2="273.19" y2="480.22" stroke="#666" stroke-width="0.4"/>
<text transform="translate(273.40,479.45) rotate(-74.63)" x="0" y="1.5" font-size="4.4" text-anchor="start" fill="#505050" textLength="6.6" lengthAdjust="spacingAndGlyphs">150</text>
<line x1="280.79" y1="485.00" x2="281.56" y2="482.95" stroke="#666" stroke-width="0.4"/>
<text transform="translate(281.84,482.20) rotate(-69.37)" x="0" y="1.5" font-size="4.4" text-anchor="start" fill="#505050" textLength="6.6" lengthAdjust="spacingAndGlyphs">200</text>
<text transform="translate(271.27,468.41) rotate(12.69)" x="0" y="1.9" font-size="5.5" text-anchor="middle" fill="#333">1</text>
<path d="M290.63 489.38 A93.6 93.6 0 0 1 322.42 516.09 L317.00 520.19 A86.8 86.8 0 0 0 287.52 495.42 Z" fill="#ffffff" stroke="#6a6a6a" stroke-width="0.35"/>
<path d="M290.63 489.38 A93.6 93.6 0 0 1 292.31 490.26 L289.07 496.24 A86.8 86.8 0 0 0 287.52 495.42 Z" fill="#a2a2a2"/>
<path d="M292.28 490.24 A93.6 93.6 0 0 1 293.75 491.06 L290.41 496.98 A86.8 86.8 0 0 0 289.05 496.23 Z" fill="#c4c4c4"/>
<path d="M293.72 491.04 A93.6 93.6 0 0 1 295.59 492.12 L292.12 497.97 A86.8 86.8 0 0 0 290.39 496.97 Z" fill="#111111"/>
<path d="M295.56 492.10 A93.6 93.6 0 0 1 296.84 492.87 L293.27 498.67 A86.8 86.8 0 0 0 292.09 497.95 Z" fill="#7c7c7c"/>
<path d="M296.81 492.86 A93.6 93.6 0 0 1 297.44 493.25 L293.84 499.01 A86.8 86.8 0 0 0 293.25 498.65 Z" fill="#7c7c7c"/>
<path d="M297.41 493.23 A93.6 93.6 0 0 1 298.94 494.20 L295.22 499.90 A86.8 86.8 0 0 0 293.81 499.00 Z" fill="#111111"/>
<path d="M298.91 494.19 A93.6 93.6 0 0 1 300.67 495.36 L296.83 500.97 A86.8 86.8 0 0 0 295.20 499.88 Z" fill="#c4c4c4"/>
<path d="M300.65 495.34 A93.6 93.6 0 0 1 301.74 496.11 L297.82 501.66 A86.8 86.8 0 0 0 296.81 500.96 Z" fill="#7c7c7c"/>
<path d="M301.71 496.09 A93.6 93.6 0 0 1 302.26 496.48 L298.31 502.01 A86.8 86.8 0 0 0 297.80 501.64 Z" fill="#c4c4c4"/>
<path d="M302.24 496.46 A93.6 93.6 0 0 1 303.00 497.01 L298.99 502.50 A86.8 86.8 0 0 0 298.28 501.99 Z" fill="#e2e2e2"/>
<path d="M302.97 496.99 A93.6 93.6 0 0 1 303.57 497.43 L299.52 502.89 A86.8 86.8 0 0 0 298.96 502.48 Z" fill="#7c7c7c"/>
<path d="M303.54 497.41 A93.6 93.6 0 0 1 304.24 497.93 L300.14 503.35 A86.8 86.8 0 0 0 299.49 502.87 Z" fill="#e2e2e2"/>
<path d="M304.21 497.91 A93.6 93.6 0 0 1 305.28 498.73 L301.10 504.09 A86.8 86.8 0 0 0 300.11 503.34 Z" fill="#c9a0aa"/>
<path d="M305.25 498.71 A93.6 93.6 0 0 1 305.87 499.19 L301.65 504.52 A86.8 86.8 0 0 0 301.08 504.07 Z" fill="#c4c4c4"/>
<path d="M305.84 499.17 A93.6 93.6 0 0 1 307.11 500.19 L302.80 505.45 A86.8 86.8 0 0 0 301.62 504.50 Z" fill="#111111"/>
<path d="M307.08 500.17 A93.6 93.6 0 0 1 308.71 501.53 L304.28 506.69 A86.8 86.8 0 0 0 302.78 505.43 Z" fill="#4a4a4a"/>
<path d="M308.68 501.51 A93.6 93.6 0 0 1 309.54 502.25 L305.06 507.36 A86.8 86.8 0 0 0 304.26 506.67 Z" fill="#c4c4c4"/>
<path d="M309.52 502.23 A93.6 93.6 0 0 1 310.48 503.08 L305.92 508.13 A86.8 86.8 0 0 0 305.03 507.34 Z" fill="#111111"/>
<path d="M310.45 503.06 A93.6 93.6 0 0 1 312.19 504.67 L307.51 509.60 A86.8 86.8 0 0 0 305.90 508.11 Z" fill="#e2e2e2"/>
<path d="M312.17 504.64 A93.6 93.6 0 0 1 312.86 505.30 L308.13 510.19 A86.8 86.8 0 0 0 307.49 509.58 Z" fill="#e2e2e2"/>
<path d="M312.83 505.28 A93.6 93.6 0 0 1 313.59 506.02 L308.81 510.86 A86.8 86.8 0 0 0 308.11 510.17 Z" fill="#a2a2a2"/>
<path d="M313.56 506.00 A93.6 93.6 0 0 1 314.76 507.20 L309.90 511.95 A86.8 86.8 0 0 0 308.79 510.84 Z" fill="#e2e2e2"/>
<path d="M314.74 507.18 A93.6 93.6 0 0 1 315.19 507.64 L310.29 512.36 A86.8 86.8 0 0 0 309.88 511.93 Z" fill="#c4c4c4"/>
<path d="M315.17 507.62 A93.6 93.6 0 0 1 316.06 508.56 L311.10 513.21 A86.8 86.8 0 0 0 310.27 512.34 Z" fill="#a2a2a2"/>
<path d="M316.04 508.54 A93.6 93.6 0 0 1 317.63 510.28 L312.56 514.80 A86.8 86.8 0 0 0 311.08 513.19 Z" fill="#7c7c7c"/>
<path d="M317.61 510.25 A93.6 93.6 0 0 1 318.64 511.43 L313.50 515.87 A86.8 86.8 0 0 0 312.54 514.78 Z" fill="#a2a2a2"/>
<path d="M319.80 512.80 A93.6 93.6 0 0 1 321.23 514.55 L315.89 518.77 A86.8 86.8 0 0 0 314.57 517.14 Z" fill="#7c7c7c"/>
<path d="M321.21 514.53 A93.6 93.6 0 0 1 322.44 516.12 L317.01 520.22 A86.8 86.8 0 0 0 315.87 518.75 Z" fill="#4a4a4a"/>
<line x1="290.63" y1="489.38" x2="291.64" y2="487.42" stroke="#666" stroke-width="0.4"/>
<text transform="translate(292.01,486.71) rotate(-62.77)" x="0" y="1.5" font-size="4.4" text-anchor="start" fill="#505050">0</text>
<line x1="298.10" y1="493.66" x2="299.28" y2="491.81" stroke="#666" stroke-width="0.4"/>
<text transform="translate(299.71,491.13) rotate(-57.50)" x="0" y="1.5" font-size="4.4" text-anchor="start" fill="#505050" textLength="4.4" lengthAdjust="spacingAndGlyphs">50</text>
<line x1="305.13" y1="498.61" x2="306.48" y2="496.87" stroke="#666" stroke-width="0.4"/>
<text transform="translate(306.97,496.24) rotate(-52.23)" x="0" y="1.5" font-size="4.4" text-anchor="start" fill="#505050" textLength="6.6" lengthAdjust="spacingAndGlyphs">100</text>
<line x1="311.68" y1="504.19" x2="313.19" y2="502.58" stroke="#666" stroke-width="0.4"/>
<text transform="translate(313.73,502.00) rotate(-46.96)" x="0" y="1.5" font-size="4.4" text-anchor="start" fill="#505050" textLength="6.6" lengthAdjust="spacingAndGlyphs">150</text>
<line x1="317.70" y1="510.35" x2="319.34" y2="508.88" stroke="#666" stroke-width="0.4"/>
<text transform="translate(319.94,508.35) rotate(-41.69)" x="0" y="1.5" font-size="4.4" text-anchor="start" fill="#505050" textLength="6.6" lengthAdjust="spacingAndGlyphs">200</text>
<text transform="translate(316.52,490.84) rotate(40.05)" x="0" y="1.9" font-size="5.5" text-anchor="middle" fill="#333">2</text>
<path d="M323.78 517.94 A93.6 93.6 0 0 1 338.27 548.59 L331.70 550.33 A86.8 86.8 0 0 0 318.26 521.91 Z" fill="#ffffff" stroke="#6a6a6a" stroke-width="0.35"/>
<path d="M323.78 517.94 A93.6 93.6 0 0 1 324.56 519.04 L318.98 522.93 A86.8 86.8 0 0 0 318.26 521.91 Z" fill="#c4c4c4"/>
<path d="M324.54 519.01 A93.6 93.6 0 0 1 325.01 519.69 L319.40 523.53 A86.8 86.8 0 0 0 318.97 522.91 Z" fill="#a2a2a2"/>
<path d="M325.39 520.25 A93.6 93.6 0 0 1 325.96 521.10 L320.28 524.84 A86.8 86.8 0 0 0 319.76 524.06 Z" fill="#e2e2e2"/>
<path d="M326.60 522.09 A93.6 93.6 0 0 1 326.94 522.63 L321.19 526.26 A86.8 86.8 0 0 0 320.88 525.76 Z" fill="#e2e2e2"/>
<path d="M326.92 522.60 A93.6 93.6 0 0 1 327.36 523.29 L321.58 526.87 A86.8 86.8 0 0 0 321.18 526.23 Z" fill="#c4c4c4"/>
<path d="M327.34 523.26 A93.6 93.6 0 0 1 327.70 523.84 L321.89 527.39 A86.8 86.8 0 0 0 321.56 526.85 Z" fill="#4a4a4a"/>
<path d="M327.68 523.82 A93.6 93.6 0 0 1 328.58 525.31 L322.71 528.75 A86.8 86.8 0 0 0 321.88 527.36 Z" fill="#e2e2e2"/>
<path d="M328.56 525.29 A93.6 93.6 0 0 1 329.11 526.23 L323.20 529.60 A86.8 86.8 0 0 0 322.69 528.72 Z" fill="#c4c4c4"/>
<path d="M329.09 526.20 A93.6 93.6 0 0 1 329.72 527.33 L323.77 530.62 A86.8 86.8 0 0 0 323.18 529.57 Z" fill="#e2e2e2"/>
<path d="M329.71 527.30 A93.6 93.6 0 0 1 330.74 529.21 L324.71 532.36 A86.8 86.8 0 0 0 323.76 530.59 Z" fill="#111111"/>
<path d="M330.72 529.18 A93.6 93.6 0 0 1 331.40 530.50 L325.32 533.56 A86.8 86.8 0 0 0 324.70 532.34 Z" fill="#a2a2a2"/>
<path d="M331.38 530.47 A93.6 93.6 0 0 1 331.73 531.17 L325.64 534.18 A86.8 86.8 0 0 0 325.31 533.53 Z" fill="#e2e2e2"/>
<path d="M331.72 531.15 A93.6 93.6 0 0 1 332.27 532.27 L326.13 535.20 A86.8 86.8 0 0 0 325.62 534.16 Z" fill="#c9a0aa"/>
<path d="M332.25 532.24 A93.6 93.6 0 0 1 333.15 534.18 L326.95 536.97 A86.8 86.8 0 0 0 326.12 535.18 Z" fill="#e2e2e2"/>
<path d="M333.14 534.15 A93.6 93.6 0 0 1 333.41 534.77 L327.19 537.52 A86.8 86.8 0 0 0 326.94 536.94 Z" fill="#111111"/>
<path d="M333.40 534.74 A93.6 93.6 0 0 1 334.03 536.20 L327.77 538.84 A86.8 86.8 0 0 0 327.18 537.49 Z" fill="#e2e2e2"/>
<path d="M334.62 537.63 A93.6 93.6 0 0 1 335.20 539.11 L328.85 541.54 A86.8 86.8 0 0 0 328.32 540.17 Z" fill="#111111"/>
<path d="M335.19 539.08 A93.6 93.6 0 0 1 335.95 541.14 L329.55 543.43 A86.8 86.8 0 0 0 328.84 541.52 Z" fill="#7c7c7c"/>
<path d="M335.94 541.11 A93.6 93.6 0 0 1 336.31 542.15 L329.88 544.37 A86.8 86.8 0 0 0 329.54 543.40 Z" fill="#c4c4c4"/>
<path d="M336.30 542.12 A93.6 93.6 0 0 1 336.60 543.01 L330.15 545.16 A86.8 86.8 0 0 0 329.87 544.34 Z" fill="#7c7c7c"/>
<path d="M336.59 542.98 A93.6 93.6 0 0 1 337.08 544.50 L330.60 546.54 A86.8 86.8 0 0 0 330.14 545.13 Z" fill="#7c7c7c"/>
<path d="M337.07 544.47 A93.6 93.6 0 0 1 337.43 545.65 L330.92 547.60 A86.8 86.8 0 0 0 330.59 546.51 Z" fill="#e2e2e2"/>
<path d="M337.43 545.61 A93.6 93.6 0 0 1 338.01 547.63 L331.46 549.45 A86.8 86.8 0 0 0 330.91 547.57 Z" fill="#111111"/>
<path d="M338.00 547.60 A93.6 93.6 0 0 1 338.28 548.62 L331.70 550.36 A86.8 86.8 0 0 0 331.45 549.42 Z" fill="#4a4a4a"/>
<line x1="323.78" y1="517.94" x2="325.57" y2="516.66" stroke="#666" stroke-width="0.4"/>
<text transform="translate(326.22,516.19) rotate(-35.73)" x="0" y="1.5" font-size="4.4" text-anchor="start" fill="#505050">0</text>
<line x1="328.48" y1="525.15" x2="330.38" y2="524.04" stroke="#666" stroke-width="0.4"/>
<text transform="translate(331.07,523.63) rotate(-30.46)" x="0" y="1.5" font-size="4.4" text-anchor="start" fill="#505050" textLength="4.4" lengthAdjust="spacingAndGlyphs">50</text>
<line x1="332.50" y1="532.76" x2="334.49" y2="531.82" stroke="#666" stroke-width="0.4"/>
<text transform="translate(335.21,531.48) rotate(-25.19)" x="0" y="1.5" font-size="4.4" text-anchor="start" fill="#505050" textLength="6.6" lengthAdjust="spacingAndGlyphs">100</text>
<line x1="335.80" y1="540.71" x2="337.87" y2="539.96" stroke="#666" stroke-width="0.4"/>
<text transform="translate(338.62,539.68) rotate(-19.92)" x="0" y="1.5" font-size="4.4" text-anchor="start" fill="#505050" textLength="6.6" lengthAdjust="spacingAndGlyphs">150</text>
<text transform="translate(344.36,526.96) rotate(64.70)" x="0" y="1.9" font-size="5.5" text-anchor="middle" fill="#333">3</text>
<path d="M338.83 550.82 A93.6 93.6 0 0 1 340.76 583.51 L334.01 582.72 A86.8 86.8 0 0 0 332.22 552.40 Z" fill="#ffffff" stroke="#6a6a6a" stroke-width="0.35"/>
<path d="M338.83 550.82 A93.6 93.6 0 0 1 339.30 552.88 L332.65 554.32 A86.8 86.8 0 0 0 332.22 552.40 Z" fill="#7c7c7c"/>
<path d="M339.29 552.85 A93.6 93.6 0 0 1 339.51 553.87 L332.85 555.23 A86.8 86.8 0 0 0 332.65 554.29 Z" fill="#a2a2a2"/>
<path d="M339.74 555.06 A93.6 93.6 0 0 1 339.87 555.74 L333.18 556.96 A86.8 86.8 0 0 0 333.06 556.34 Z" fill="#e2e2e2"/>
<path d="M339.86 555.71 A93.6 93.6 0 0 1 340.06 556.79 L333.35 557.94 A86.8 86.8 0 0 0 333.17 556.93 Z" fill="#7c7c7c"/>
<path d="M340.05 556.76 A93.6 93.6 0 0 1 340.42 559.09 L333.69 560.08 A86.8 86.8 0 0 0 333.35 557.91 Z" fill="#c4c4c4"/>
<path d="M340.42 559.06 A93.6 93.6 0 0 1 340.72 561.37 L333.97 562.19 A86.8 86.8 0 0 0 333.69 560.05 Z" fill="#c9a0aa"/>
<path d="M340.72 561.34 A93.6 93.6 0 0 1 340.97 563.69 L334.21 564.33 A86.8 86.8 0 0 0 333.97 562.16 Z" fill="#c4c4c4"/>
<path d="M340.97 563.65 A93.6 93.6 0 0 1 341.06 564.68 L334.29 565.26 A86.8 86.8 0 0 0 334.20 564.30 Z" fill="#e2e2e2"/>
<path d="M341.06 564.65 A93.6 93.6 0 0 1 341.14 565.64 L334.36 566.14 A86.8 86.8 0 0 0 334.29 565.23 Z" fill="#e2e2e2"/>
<path d="M341.14 565.61 A93.6 93.6 0 0 1 341.25 567.36 L334.46 567.74 A86.8 86.8 0 0 0 334.36 566.11 Z" fill="#111111"/>
<path d="M341.25 567.33 A93.6 93.6 0 0 1 341.35 569.48 L334.55 569.71 A86.8 86.8 0 0 0 334.46 567.71 Z" fill="#c4c4c4"/>
<path d="M341.35 569.45 A93.6 93.6 0 0 1 341.39 571.27 L334.59 571.36 A86.8 86.8 0 0 0 334.55 569.68 Z" fill="#4a4a4a"/>
<path d="M341.39 571.23 A93.6 93.6 0 0 1 341.40 572.02 L334.60 572.06 A86.8 86.8 0 0 0 334.59 571.33 Z" fill="#7c7c7c"/>
<path d="M341.40 571.99 A93.6 93.6 0 0 1 341.39 574.27 L334.59 574.15 A86.8 86.8 0 0 0 334.60 572.03 Z" fill="#4a4a4a"/>
<path d="M341.39 574.24 A93.6 93.6 0 0 1 341.33 576.23 L334.53 575.96 A86.8 86.8 0 0 0 334.59 574.12 Z" fill="#c4c4c4"/>
<path d="M341.33 576.19 A93.6 93.6 0 0 1 341.29 577.15 L334.50 576.82 A86.8 86.8 0 0 0 334.54 575.93 Z" fill="#4a4a4a"/>
<path d="M341.29 577.12 A93.6 93.6 0 0 1 341.22 578.35 L334.44 577.93 A86.8 86.8 0 0 0 334.50 576.79 Z" fill="#4a4a4a"/>
<path d="M341.23 578.32 A93.6 93.6 0 0 1 341.05 580.70 L334.27 580.12 A86.8 86.8 0 0 0 334.44 577.90 Z" fill="#c4c4c4"/>
<path d="M341.05 580.67 A93.6 93.6 0 0 1 340.92 582.03 L334.16 581.34 A86.8 86.8 0 0 0 334.28 580.09 Z" fill="#111111"/>
<path d="M340.93 581.99 A93.6 93.6 0 0 1 340.76 583.54 L334.00 582.75 A86.8 86.8 0 0 0 334.16 581.31 Z" fill="#e2e2e2"/>
<line x1="338.83" y1="550.82" x2="340.97" y2="550.31" stroke="#666" stroke-width="0.4"/>
<text transform="translate(341.75,550.12) rotate(-13.45)" x="0" y="1.5" font-size="4.4" text-anchor="start" fill="#505050">0</text>
<line x1="340.45" y1="559.27" x2="342.62" y2="558.96" stroke="#666" stroke-width="0.4"/>
<text transform="translate(343.42,558.85) rotate(-8.19)" x="0" y="1.5" font-size="4.4" text-anchor="start" fill="#505050" textLength="4.4" lengthAdjust="spacingAndGlyphs">50</text>
<line x1="341.28" y1="567.84" x2="343.48" y2="567.72" stroke="#666" stroke-width="0.4"/>
<text transform="translate(344.27,567.68) rotate(-2.92)" x="0" y="1.5" font-size="4.4" text-anchor="start" fill="#505050" textLength="6.6" lengthAdjust="spacingAndGlyphs">100</text>
<line x1="341.32" y1="576.44" x2="343.52" y2="576.53" stroke="#666" stroke-width="0.4"/>
<text transform="translate(344.32,576.56) rotate(2.35)" x="0" y="1.5" font-size="4.4" text-anchor="start" fill="#505050" textLength="6.6" lengthAdjust="spacingAndGlyphs">150</text>
<text transform="translate(354.41,566.30) rotate(86.62)" x="0" y="1.9" font-size="5.5" text-anchor="middle" fill="#333">4</text>
<path d="M340.47 585.79 A93.6 93.6 0 0 1 331.08 615.33 L325.03 612.23 A86.8 86.8 0 0 0 333.73 584.83 Z" fill="#ffffff" stroke="#6a6a6a" stroke-width="0.35"/>
<path d="M340.47 585.79 A93.6 93.6 0 0 1 340.34 586.65 L333.62 585.63 A86.8 86.8 0 0 0 333.73 584.83 Z" fill="#e2e2e2"/>
<path d="M340.34 586.62 A93.6 93.6 0 0 1 339.98 588.86 L333.28 587.68 A86.8 86.8 0 0 0 333.62 585.60 Z" fill="#4a4a4a"/>
<path d="M339.98 588.83 A93.6 93.6 0 0 1 339.82 589.71 L333.14 588.47 A86.8 86.8 0 0 0 333.29 587.65 Z" fill="#4a4a4a"/>
<path d="M339.83 589.68 A93.6 93.6 0 0 1 339.36 592.04 L332.71 590.63 A86.8 86.8 0 0 0 333.14 588.44 Z" fill="#7c7c7c"/>
<path d="M339.37 592.01 A93.6 93.6 0 0 1 339.09 593.25 L332.46 591.75 A86.8 86.8 0 0 0 332.71 590.60 Z" fill="#a2a2a2"/>
<path d="M338.91 594.03 A93.6 93.6 0 0 1 338.34 596.35 L331.76 594.63 A86.8 86.8 0 0 0 332.29 592.47 Z" fill="#c9a0aa"/>
<path d="M338.34 596.32 A93.6 93.6 0 0 1 337.93 597.85 L331.38 596.02 A86.8 86.8 0 0 0 331.77 594.60 Z" fill="#111111"/>
<path d="M337.94 597.82 A93.6 93.6 0 0 1 337.55 599.18 L331.03 597.25 A86.8 86.8 0 0 0 331.39 595.99 Z" fill="#4a4a4a"/>
<path d="M337.55 599.15 A93.6 93.6 0 0 1 336.93 601.19 L330.45 599.11 A86.8 86.8 0 0 0 331.03 597.22 Z" fill="#e2e2e2"/>
<path d="M336.94 601.16 A93.6 93.6 0 0 1 336.60 602.19 L330.15 600.04 A86.8 86.8 0 0 0 330.46 599.08 Z" fill="#c4c4c4"/>
<path d="M336.61 602.16 A93.6 93.6 0 0 1 336.27 603.17 L329.84 600.95 A86.8 86.8 0 0 0 330.16 600.01 Z" fill="#a2a2a2"/>
<path d="M336.28 603.14 A93.6 93.6 0 0 1 335.91 604.18 L329.51 601.89 A86.8 86.8 0 0 0 329.85 600.92 Z" fill="#c4c4c4"/>
<path d="M335.92 604.15 A93.6 93.6 0 0 1 335.62 604.97 L329.24 602.62 A86.8 86.8 0 0 0 329.52 601.86 Z" fill="#111111"/>
<path d="M335.63 604.94 A93.6 93.6 0 0 1 335.19 606.14 L328.84 603.70 A86.8 86.8 0 0 0 329.25 602.59 Z" fill="#c4c4c4"/>
<path d="M335.20 606.11 A93.6 93.6 0 0 1 334.58 607.68 L328.27 605.13 A86.8 86.8 0 0 0 328.85 603.67 Z" fill="#111111"/>
<path d="M334.59 607.65 A93.6 93.6 0 0 1 334.06 608.94 L327.79 606.30 A86.8 86.8 0 0 0 328.29 605.10 Z" fill="#111111"/>
<path d="M334.07 608.91 A93.6 93.6 0 0 1 333.46 610.32 L327.24 607.58 A86.8 86.8 0 0 0 327.80 606.27 Z" fill="#a2a2a2"/>
<path d="M332.84 611.71 A93.6 93.6 0 0 1 332.23 613.00 L326.10 610.07 A86.8 86.8 0 0 0 326.66 608.86 Z" fill="#e2e2e2"/>
<path d="M332.25 612.97 A93.6 93.6 0 0 1 331.97 613.55 L325.85 610.57 A86.8 86.8 0 0 0 326.11 610.04 Z" fill="#4a4a4a"/>
<path d="M331.98 613.52 A93.6 93.6 0 0 1 331.56 614.37 L325.48 611.34 A86.8 86.8 0 0 0 325.87 610.55 Z" fill="#c4c4c4"/>
<path d="M331.58 614.34 A93.6 93.6 0 0 1 331.06 615.36 L325.01 612.26 A86.8 86.8 0 0 0 325.49 611.31 Z" fill="#a2a2a2"/>
<line x1="340.47" y1="585.79" x2="342.64" y2="586.10" stroke="#666" stroke-width="0.4"/>
<text transform="translate(343.44,586.22) rotate(8.10)" x="0" y="1.5" font-size="4.4" text-anchor="start" fill="#505050">0</text>
<line x1="338.86" y1="594.25" x2="341.00" y2="594.76" stroke="#666" stroke-width="0.4"/>
<text transform="translate(341.78,594.94) rotate(13.37)" x="0" y="1.5" font-size="4.4" text-anchor="start" fill="#505050" textLength="4.4" lengthAdjust="spacingAndGlyphs">50</text>
<line x1="336.49" y1="602.52" x2="338.57" y2="603.22" stroke="#666" stroke-width="0.4"/>
<text transform="translate(339.33,603.48) rotate(18.64)" x="0" y="1.5" font-size="4.4" text-anchor="start" fill="#505050" textLength="6.6" lengthAdjust="spacingAndGlyphs">100</text>
<line x1="333.37" y1="610.53" x2="335.38" y2="611.43" stroke="#666" stroke-width="0.4"/>
<text transform="translate(336.11,611.75) rotate(23.91)" x="0" y="1.5" font-size="4.4" text-anchor="start" fill="#505050" textLength="6.6" lengthAdjust="spacingAndGlyphs">150</text>
<text transform="translate(349.58,604.95) rotate(287.63)" x="0" y="1.9" font-size="5.5" text-anchor="middle" fill="#333">5</text>
<path d="M330.00 617.37 A93.6 93.6 0 0 1 312.11 640.61 L307.43 635.67 A86.8 86.8 0 0 0 324.03 614.12 Z" fill="#ffffff" stroke="#6a6a6a" stroke-width="0.35"/>
<path d="M330.00 617.37 A93.6 93.6 0 0 1 329.41 618.44 L323.48 615.11 A86.8 86.8 0 0 0 324.03 614.12 Z" fill="#a2a2a2"/>
<path d="M329.42 618.41 A93.6 93.6 0 0 1 328.61 619.84 L322.74 616.40 A86.8 86.8 0 0 0 323.49 615.08 Z" fill="#4a4a4a"/>
<path d="M328.62 619.81 A93.6 93.6 0 0 1 328.20 620.52 L322.36 617.04 A86.8 86.8 0 0 0 322.75 616.38 Z" fill="#a2a2a2"/>
<path d="M328.22 620.49 A93.6 93.6 0 0 1 327.66 621.42 L321.86 617.87 A86.8 86.8 0 0 0 322.38 617.01 Z" fill="#e2e2e2"/>
<path d="M327.68 621.39 A93.6 93.6 0 0 1 326.60 623.11 L320.87 619.44 A86.8 86.8 0 0 0 321.87 617.85 Z" fill="#a2a2a2"/>
<path d="M326.62 623.09 A93.6 93.6 0 0 1 325.71 624.47 L320.05 620.70 A86.8 86.8 0 0 0 320.89 619.42 Z" fill="#7c7c7c"/>
<path d="M325.73 624.44 A93.6 93.6 0 0 1 324.44 626.33 L318.88 622.42 A86.8 86.8 0 0 0 320.07 620.67 Z" fill="#c4c4c4"/>
<path d="M324.46 626.30 A93.6 93.6 0 0 1 323.45 627.72 L317.95 623.71 A86.8 86.8 0 0 0 318.89 622.40 Z" fill="#c9a0aa"/>
<path d="M323.47 627.69 A93.6 93.6 0 0 1 322.54 628.95 L317.11 624.85 A86.8 86.8 0 0 0 317.97 623.69 Z" fill="#7c7c7c"/>
<path d="M322.56 628.92 A93.6 93.6 0 0 1 321.68 630.07 L316.31 625.90 A86.8 86.8 0 0 0 317.13 624.83 Z" fill="#a2a2a2"/>
<path d="M321.70 630.05 A93.6 93.6 0 0 1 320.77 631.22 L315.47 626.96 A86.8 86.8 0 0 0 316.33 625.87 Z" fill="#111111"/>
<path d="M320.79 631.20 A93.6 93.6 0 0 1 319.58 632.67 L314.37 628.30 A86.8 86.8 0 0 0 315.49 626.94 Z" fill="#4a4a4a"/>
<path d="M319.61 632.64 A93.6 93.6 0 0 1 318.08 634.42 L312.98 629.93 A86.8 86.8 0 0 0 314.39 628.28 Z" fill="#e2e2e2"/>
<path d="M318.10 634.39 A93.6 93.6 0 0 1 317.01 635.62 L311.98 631.04 A86.8 86.8 0 0 0 313.00 629.90 Z" fill="#111111"/>
<path d="M317.03 635.59 A93.6 93.6 0 0 1 315.56 637.17 L310.64 632.48 A86.8 86.8 0 0 0 312.00 631.02 Z" fill="#e2e2e2"/>
<path d="M315.58 637.15 A93.6 93.6 0 0 1 314.99 637.76 L310.11 633.03 A86.8 86.8 0 0 0 310.66 632.46 Z" fill="#c4c4c4"/>
<path d="M315.01 637.74 A93.6 93.6 0 0 1 314.48 638.29 L309.63 633.52 A86.8 86.8 0 0 0 310.13 633.01 Z" fill="#e2e2e2"/>
<path d="M314.50 638.26 A93.6 93.6 0 0 1 313.96 638.81 L309.15 634.00 A86.8 86.8 0 0 0 309.66 633.49 Z" fill="#7c7c7c"/>
<path d="M313.98 638.79 A93.6 93.6 0 0 1 312.52 640.22 L307.82 635.31 A86.8 86.8 0 0 0 309.18 633.98 Z" fill="#111111"/>
<path d="M312.54 640.20 A93.6 93.6 0 0 1 312.08 640.64 L307.41 635.69 A86.8 86.8 0 0 0 307.84 635.29 Z" fill="#7c7c7c"/>
<line x1="330.00" y1="617.37" x2="331.93" y2="618.42" stroke="#666" stroke-width="0.4"/>
<text transform="translate(332.63,618.80) rotate(28.58)" x="0" y="1.5" font-size="4.4" text-anchor="start" fill="#505050">0</text>
<line x1="325.54" y1="624.73" x2="327.37" y2="625.95" stroke="#666" stroke-width="0.4"/>
<text transform="translate(328.03,626.40) rotate(33.84)" x="0" y="1.5" font-size="4.4" text-anchor="start" fill="#505050" textLength="4.4" lengthAdjust="spacingAndGlyphs">50</text>
<line x1="320.42" y1="631.65" x2="322.13" y2="633.04" stroke="#666" stroke-width="0.4"/>
<text transform="translate(322.75,633.54) rotate(39.11)" x="0" y="1.5" font-size="4.4" text-anchor="start" fill="#505050" textLength="6.6" lengthAdjust="spacingAndGlyphs">100</text>
<line x1="314.70" y1="638.07" x2="316.27" y2="639.61" stroke="#666" stroke-width="0.4"/>
<text transform="translate(316.84,640.16) rotate(44.38)" x="0" y="1.5" font-size="4.4" text-anchor="start" fill="#505050" textLength="6.6" lengthAdjust="spacingAndGlyphs">150</text>
<text transform="translate(332.43,637.75) rotate(307.59)" x="0" y="1.9" font-size="5.5" text-anchor="middle" fill="#333">6</text>
<path d="M310.41 642.17 A93.6 93.6 0 0 1 287.68 657.28 L284.79 651.13 A86.8 86.8 0 0 0 305.86 637.12 Z" fill="#ffffff" stroke="#6a6a6a" stroke-width="0.35"/>
<path d="M310.41 642.17 A93.6 93.6 0 0 1 309.04 643.38 L304.59 638.24 A86.8 86.8 0 0 0 305.86 637.12 Z" fill="#e2e2e2"/>
<path d="M309.07 643.36 A93.6 93.6 0 0 1 307.36 644.80 L303.04 639.56 A86.8 86.8 0 0 0 304.62 638.22 Z" fill="#111111"/>
<path d="M307.39 644.78 A93.6 93.6 0 0 1 306.59 645.43 L302.32 640.14 A86.8 86.8 0 0 0 303.06 639.54 Z" fill="#111111"/>
<path d="M306.61 645.41 A93.6 93.6 0 0 1 305.55 646.26 L301.36 640.91 A86.8 86.8 0 0 0 302.34 640.12 Z" fill="#a2a2a2"/>
<path d="M305.58 646.24 A93.6 93.6 0 0 1 303.65 647.71 L299.59 642.25 A86.8 86.8 0 0 0 301.38 640.89 Z" fill="#4a4a4a"/>
<path d="M303.68 647.69 A93.6 93.6 0 0 1 302.93 648.24 L298.93 642.74 A86.8 86.8 0 0 0 299.62 642.23 Z" fill="#c4c4c4"/>
<path d="M302.96 648.22 A93.6 93.6 0 0 1 301.69 649.13 L297.77 643.57 A86.8 86.8 0 0 0 298.95 642.73 Z" fill="#c4c4c4"/>
<path d="M301.71 649.11 A93.6 93.6 0 0 1 300.90 649.68 L297.04 644.08 A86.8 86.8 0 0 0 297.80 643.56 Z" fill="#c4c4c4"/>
<path d="M299.35 650.73 A93.6 93.6 0 0 1 297.97 651.62 L294.33 645.88 A86.8 86.8 0 0 0 295.60 645.05 Z" fill="#c4c4c4"/>
<path d="M298.00 651.60 A93.6 93.6 0 0 1 297.43 651.96 L293.83 646.19 A86.8 86.8 0 0 0 294.35 645.86 Z" fill="#c4c4c4"/>
<path d="M297.46 651.94 A93.6 93.6 0 0 1 295.96 652.86 L292.46 647.03 A86.8 86.8 0 0 0 293.85 646.17 Z" fill="#a2a2a2"/>
<path d="M295.99 652.84 A93.6 93.6 0 0 1 295.34 653.23 L291.89 647.37 A86.8 86.8 0 0 0 292.49 647.01 Z" fill="#111111"/>
<path d="M295.37 653.21 A93.6 93.6 0 0 1 293.58 654.24 L290.26 648.31 A86.8 86.8 0 0 0 291.91 647.35 Z" fill="#111111"/>
<path d="M293.61 654.22 A93.6 93.6 0 0 1 292.89 654.62 L289.62 648.66 A86.8 86.8 0 0 0 290.28 648.29 Z" fill="#e2e2e2"/>
<path d="M292.92 654.61 A93.6 93.6 0 0 1 292.30 654.95 L289.07 648.96 A86.8 86.8 0 0 0 289.64 648.65 Z" fill="#7c7c7c"/>
<path d="M292.33 654.93 A93.6 93.6 0 0 1 291.34 655.46 L288.17 649.44 A86.8 86.8 0 0 0 289.09 648.95 Z" fill="#e2e2e2"/>
<path d="M291.37 655.44 A93.6 93.6 0 0 1 290.12 656.08 L287.05 650.02 A86.8 86.8 0 0 0 288.20 649.42 Z" fill="#111111"/>
<path d="M290.15 656.07 A93.6 93.6 0 0 1 288.25 657.01 L285.32 650.87 A86.8 86.8 0 0 0 287.08 650.01 Z" fill="#e2e2e2"/>
<path d="M288.28 656.99 A93.6 93.6 0 0 1 287.65 657.29 L284.76 651.14 A86.8 86.8 0 0 0 285.34 650.86 Z" fill="#111111"/>
<line x1="310.41" y1="642.17" x2="311.88" y2="643.81" stroke="#666" stroke-width="0.4"/>
<text transform="translate(312.42,644.40) rotate(48.01)" x="0" y="1.5" font-size="4.4" text-anchor="start" fill="#505050">0</text>
<line x1="303.76" y1="647.63" x2="305.07" y2="649.39" stroke="#666" stroke-width="0.4"/>
<text transform="translate(305.55,650.03) rotate(53.28)" x="0" y="1.5" font-size="4.4" text-anchor="start" fill="#505050" textLength="4.4" lengthAdjust="spacingAndGlyphs">50</text>
<line x1="296.63" y1="652.45" x2="297.78" y2="654.33" stroke="#666" stroke-width="0.4"/>
<text transform="translate(298.20,655.01) rotate(58.55)" x="0" y="1.5" font-size="4.4" text-anchor="start" fill="#505050" textLength="6.6" lengthAdjust="spacingAndGlyphs">100</text>
<line x1="289.09" y1="656.60" x2="290.06" y2="658.57" stroke="#666" stroke-width="0.4"/>
<text transform="translate(290.42,659.29) rotate(63.82)" x="0" y="1.5" font-size="4.4" text-anchor="start" fill="#505050" textLength="6.6" lengthAdjust="spacingAndGlyphs">150</text>
<text transform="translate(306.91,661.55) rotate(326.40)" x="0" y="1.9" font-size="5.5" text-anchor="middle" fill="#333">7</text>
<path d="M285.59 658.23 A93.6 93.6 0 0 1 261.45 665.20 L260.46 658.47 A86.8 86.8 0 0 0 282.84 652.01 Z" fill="#ffffff" stroke="#6a6a6a" stroke-width="0.35"/>
<path d="M285.59 658.23 A93.6 93.6 0 0 1 284.06 658.89 L281.42 652.62 A86.8 86.8 0 0 0 282.84 652.01 Z" fill="#7c7c7c"/>
<path d="M283.38 659.17 A93.6 93.6 0 0 1 281.64 659.87 L279.18 653.53 A86.8 86.8 0 0 0 280.80 652.88 Z" fill="#c4c4c4"/>
<path d="M281.67 659.86 A93.6 93.6 0 0 1 280.95 660.13 L278.54 653.77 A86.8 86.8 0 0 0 279.21 653.52 Z" fill="#111111"/>
<path d="M280.98 660.12 A93.6 93.6 0 0 1 279.31 660.74 L277.02 654.33 A86.8 86.8 0 0 0 278.57 653.76 Z" fill="#4a4a4a"/>
<path d="M279.34 660.73 A93.6 93.6 0 0 1 278.60 660.99 L276.36 654.57 A86.8 86.8 0 0 0 277.05 654.32 Z" fill="#4a4a4a"/>
<path d="M278.63 660.98 A93.6 93.6 0 0 1 277.92 661.22 L275.73 654.78 A86.8 86.8 0 0 0 276.39 654.56 Z" fill="#c9a0aa"/>
<path d="M277.95 661.21 A93.6 93.6 0 0 1 276.56 661.67 L274.47 655.20 A86.8 86.8 0 0 0 275.76 654.77 Z" fill="#c9a0aa"/>
<path d="M276.60 661.66 A93.6 93.6 0 0 1 275.04 662.15 L273.06 655.64 A86.8 86.8 0 0 0 274.50 655.19 Z" fill="#111111"/>
<path d="M275.07 662.14 A93.6 93.6 0 0 1 273.99 662.46 L272.09 655.93 A86.8 86.8 0 0 0 273.09 655.64 Z" fill="#e2e2e2"/>
<path d="M274.03 662.45 A93.6 93.6 0 0 1 272.50 662.88 L270.70 656.32 A86.8 86.8 0 0 0 272.12 655.92 Z" fill="#e2e2e2"/>
<path d="M272.53 662.87 A93.6 93.6 0 0 1 271.73 663.09 L269.99 656.52 A86.8 86.8 0 0 0 270.73 656.32 Z" fill="#e2e2e2"/>
<path d="M271.76 663.08 A93.6 93.6 0 0 1 271.05 663.27 L269.36 656.68 A86.8 86.8 0 0 0 270.02 656.51 Z" fill="#e2e2e2"/>
<path d="M271.09 663.26 A93.6 93.6 0 0 1 269.92 663.55 L268.32 656.94 A86.8 86.8 0 0 0 269.39 656.67 Z" fill="#c4c4c4"/>
<path d="M269.95 663.54 A93.6 93.6 0 0 1 268.00 663.99 L266.53 657.35 A86.8 86.8 0 0 0 268.34 656.93 Z" fill="#c4c4c4"/>
<path d="M268.03 663.99 A93.6 93.6 0 0 1 266.52 664.31 L265.16 657.65 A86.8 86.8 0 0 0 266.56 657.35 Z" fill="#e2e2e2"/>
<path d="M264.31 664.73 A93.6 93.6 0 0 1 262.38 665.06 L261.32 658.34 A86.8 86.8 0 0 0 263.11 658.04 Z" fill="#a2a2a2"/>
<path d="M262.41 665.05 A93.6 93.6 0 0 1 261.45 665.20 L260.45 658.47 A86.8 86.8 0 0 0 261.35 658.34 Z" fill="#c4c4c4"/>
<path d="M261.48 665.20 A93.6 93.6 0 0 1 261.41 665.20 L260.43 658.48 A86.8 86.8 0 0 0 260.48 658.47 Z" fill="#e2e2e2"/>
<line x1="285.59" y1="658.23" x2="286.48" y2="660.25" stroke="#666" stroke-width="0.4"/>
<text transform="translate(286.80,660.98) rotate(66.19)" x="0" y="1.5" font-size="4.4" text-anchor="start" fill="#505050">0</text>
<line x1="277.56" y1="661.34" x2="278.26" y2="663.43" stroke="#666" stroke-width="0.4"/>
<text transform="translate(278.52,664.19) rotate(71.46)" x="0" y="1.5" font-size="4.4" text-anchor="start" fill="#505050" textLength="4.4" lengthAdjust="spacingAndGlyphs">50</text>
<line x1="269.29" y1="663.70" x2="269.79" y2="665.84" stroke="#666" stroke-width="0.4"/>
<text transform="translate(269.98,666.62) rotate(76.73)" x="0" y="1.5" font-size="4.4" text-anchor="start" fill="#505050" textLength="6.6" lengthAdjust="spacingAndGlyphs">100</text>
<text transform="translate(277.41,675.21) rotate(343.90)" x="0" y="1.9" font-size="5.5" text-anchor="middle" fill="#333">8</text>
<path d="M259.16 665.51 A93.6 93.6 0 0 1 234.93 665.31 L235.86 658.58 A86.8 86.8 0 0 0 258.34 658.76 Z" fill="#ffffff" stroke="#6a6a6a" stroke-width="0.35"/>
<path d="M259.16 665.51 A93.6 93.6 0 0 1 257.06 665.74 L256.39 658.97 A86.8 86.8 0 0 0 258.34 658.76 Z" fill="#c4c4c4"/>
<path d="M257.09 665.74 A93.6 93.6 0 0 1 255.57 665.88 L255.01 659.10 A86.8 86.8 0 0 0 256.42 658.97 Z" fill="#4a4a4a"/>
<path d="M255.60 665.87 A93.6 93.6 0 0 1 254.26 665.98 L253.79 659.19 A86.8 86.8 0 0 0 255.04 659.10 Z" fill="#a2a2a2"/>
<path d="M254.29 665.97 A93.6 93.6 0 0 1 252.42 666.09 L252.08 659.29 A86.8 86.8 0 0 0 253.82 659.19 Z" fill="#111111"/>
<path d="M252.45 666.08 A93.6 93.6 0 0 1 251.20 666.14 L250.95 659.34 A86.8 86.8 0 0 0 252.11 659.29 Z" fill="#4a4a4a"/>
<path d="M251.23 666.14 A93.6 93.6 0 0 1 249.32 666.19 L249.21 659.39 A86.8 86.8 0 0 0 250.98 659.34 Z" fill="#c9a0aa"/>
<path d="M249.35 666.19 A93.6 93.6 0 0 1 247.99 666.20 L247.97 659.40 A86.8 86.8 0 0 0 249.24 659.39 Z" fill="#c4c4c4"/>
<path d="M248.02 666.20 A93.6 93.6 0 0 1 247.28 666.20 L247.32 659.40 A86.8 86.8 0 0 0 248.00 659.40 Z" fill="#e2e2e2"/>
<path d="M247.32 666.20 A93.6 93.6 0 0 1 246.55 666.19 L246.64 659.39 A86.8 86.8 0 0 0 247.35 659.40 Z" fill="#7c7c7c"/>
<path d="M246.59 666.19 A93.6 93.6 0 0 1 245.49 666.17 L245.66 659.37 A86.8 86.8 0 0 0 246.67 659.39 Z" fill="#e2e2e2"/>
<path d="M245.52 666.17 A93.6 93.6 0 0 1 244.73 666.15 L244.96 659.35 A86.8 86.8 0 0 0 245.69 659.37 Z" fill="#4a4a4a"/>
<path d="M244.77 666.15 A93.6 93.6 0 0 1 242.56 666.05 L242.94 659.26 A86.8 86.8 0 0 0 244.99 659.35 Z" fill="#7c7c7c"/>
<path d="M242.59 666.06 A93.6 93.6 0 0 1 241.45 665.98 L241.91 659.20 A86.8 86.8 0 0 0 242.97 659.27 Z" fill="#e2e2e2"/>
<path d="M241.48 665.99 A93.6 93.6 0 0 1 240.32 665.90 L240.87 659.12 A86.8 86.8 0 0 0 241.94 659.20 Z" fill="#c4c4c4"/>
<path d="M240.35 665.90 A93.6 93.6 0 0 1 239.44 665.83 L240.05 659.05 A86.8 86.8 0 0 0 240.90 659.12 Z" fill="#c4c4c4"/>
<path d="M239.47 665.83 A93.6 93.6 0 0 1 238.36 665.72 L239.05 658.96 A86.8 86.8 0 0 0 240.08 659.06 Z" fill="#111111"/>
<path d="M238.40 665.73 A93.6 93.6 0 0 1 236.02 665.46 L236.88 658.71 A86.8 86.8 0 0 0 239.08 658.96 Z" fill="#a2a2a2"/>
<path d="M236.05 665.46 A93.6 93.6 0 0 1 234.98 665.32 L235.92 658.58 A86.8 86.8 0 0 0 236.91 658.71 Z" fill="#111111"/>
<path d="M235.02 665.32 A93.6 93.6 0 0 1 234.89 665.31 L235.83 658.57 A86.8 86.8 0 0 0 235.95 658.59 Z" fill="#c4c4c4"/>
<line x1="259.16" y1="665.51" x2="259.43" y2="667.69" stroke="#666" stroke-width="0.4"/>
<text transform="translate(259.53,668.49) rotate(83.03)" x="0" y="1.5" font-size="4.4" text-anchor="start" fill="#505050">0</text>
<line x1="250.58" y1="666.16" x2="250.65" y2="668.36" stroke="#666" stroke-width="0.4"/>
<text transform="translate(250.67,669.16) rotate(88.30)" x="0" y="1.5" font-size="4.4" text-anchor="start" fill="#505050" textLength="4.4" lengthAdjust="spacingAndGlyphs">50</text>
<line x1="241.98" y1="666.02" x2="241.84" y2="668.21" stroke="#666" stroke-width="0.4"/>
<text transform="translate(241.80,669.01) rotate(273.56)" x="0" y="1.5" font-size="4.4" text-anchor="end" fill="#505050" textLength="6.6" lengthAdjust="spacingAndGlyphs">100</text>
<text transform="translate(246.93,679.40) rotate(360.47)" x="0" y="1.9" font-size="5.5" text-anchor="middle" fill="#333">9</text>
<path d="M232.65 664.97 A93.6 93.6 0 0 1 210.34 658.38 L213.06 652.14 A86.8 86.8 0 0 0 233.75 658.26 Z" fill="#ffffff" stroke="#6a6a6a" stroke-width="0.35"/>
<path d="M232.65 664.97 A93.6 93.6 0 0 1 232.02 664.86 L233.17 658.16 A86.8 86.8 0 0 0 233.75 658.26 Z" fill="#c4c4c4"/>
<path d="M232.05 664.87 A93.6 93.6 0 0 1 230.58 664.60 L231.83 657.92 A86.8 86.8 0 0 0 233.20 658.16 Z" fill="#a2a2a2"/>
<path d="M230.62 664.61 A93.6 93.6 0 0 1 229.63 664.42 L230.95 657.75 A86.8 86.8 0 0 0 231.86 657.92 Z" fill="#a2a2a2"/>
<path d="M229.67 664.43 A93.6 93.6 0 0 1 229.04 664.30 L230.40 657.64 A86.8 86.8 0 0 0 230.98 657.76 Z" fill="#e2e2e2"/>
<path d="M229.07 664.31 A93.6 93.6 0 0 1 228.29 664.14 L229.70 657.49 A86.8 86.8 0 0 0 230.43 657.64 Z" fill="#c4c4c4"/>
<path d="M227.66 664.01 A93.6 93.6 0 0 1 226.50 663.74 L228.05 657.12 A86.8 86.8 0 0 0 229.12 657.37 Z" fill="#e2e2e2"/>
<path d="M226.53 663.75 A93.6 93.6 0 0 1 224.89 663.35 L226.55 656.76 A86.8 86.8 0 0 0 228.08 657.13 Z" fill="#a2a2a2"/>
<path d="M224.92 663.36 A93.6 93.6 0 0 1 222.99 662.85 L224.79 656.30 A86.8 86.8 0 0 0 226.58 656.77 Z" fill="#7c7c7c"/>
<path d="M223.02 662.86 A93.6 93.6 0 0 1 221.17 662.33 L223.10 655.81 A86.8 86.8 0 0 0 224.82 656.30 Z" fill="#4a4a4a"/>
<path d="M221.20 662.34 A93.6 93.6 0 0 1 219.92 661.95 L221.94 655.46 A86.8 86.8 0 0 0 223.13 655.82 Z" fill="#c4c4c4"/>
<path d="M219.95 661.96 A93.6 93.6 0 0 1 217.65 661.21 L219.84 654.77 A86.8 86.8 0 0 0 221.97 655.47 Z" fill="#e2e2e2"/>
<path d="M217.68 661.22 A93.6 93.6 0 0 1 215.85 660.58 L218.17 654.19 A86.8 86.8 0 0 0 219.87 654.78 Z" fill="#a2a2a2"/>
<path d="M215.88 660.59 A93.6 93.6 0 0 1 215.21 660.34 L217.58 653.97 A86.8 86.8 0 0 0 218.20 654.20 Z" fill="#4a4a4a"/>
<path d="M215.24 660.35 A93.6 93.6 0 0 1 213.14 659.55 L215.66 653.23 A86.8 86.8 0 0 0 217.61 653.98 Z" fill="#a2a2a2"/>
<path d="M213.17 659.56 A93.6 93.6 0 0 1 211.36 658.82 L214.01 652.55 A86.8 86.8 0 0 0 215.69 653.24 Z" fill="#4a4a4a"/>
<path d="M211.39 658.83 A93.6 93.6 0 0 1 210.57 658.48 L213.28 652.24 A86.8 86.8 0 0 0 214.04 652.56 Z" fill="#a2a2a2"/>
<path d="M210.60 658.49 A93.6 93.6 0 0 1 210.31 658.36 L213.03 652.13 A86.8 86.8 0 0 0 213.31 652.25 Z" fill="#4a4a4a"/>
<line x1="232.65" y1="664.97" x2="232.29" y2="667.14" stroke="#666" stroke-width="0.4"/>
<text transform="translate(232.16,667.93) rotate(279.32)" x="0" y="1.5" font-size="4.4" text-anchor="end" fill="#505050">0</text>
<line x1="224.23" y1="663.18" x2="223.68" y2="665.31" stroke="#666" stroke-width="0.4"/>
<text transform="translate(223.48,666.09) rotate(284.58)" x="0" y="1.5" font-size="4.4" text-anchor="end" fill="#505050" textLength="4.4" lengthAdjust="spacingAndGlyphs">50</text>
<line x1="216.01" y1="660.64" x2="215.27" y2="662.71" stroke="#666" stroke-width="0.4"/>
<text transform="translate(214.99,663.46) rotate(289.85)" x="0" y="1.5" font-size="4.4" text-anchor="end" fill="#505050" textLength="6.6" lengthAdjust="spacingAndGlyphs">100</text>
<text transform="translate(217.55,675.03) rotate(376.45)" x="0" y="1.9" font-size="5.5" text-anchor="middle" fill="#333">10</text>
<path d="M208.24 657.43 A93.6 93.6 0 0 1 188.61 645.10 L192.91 639.84 A86.8 86.8 0 0 0 211.11 651.27 Z" fill="#ffffff" stroke="#6a6a6a" stroke-width="0.35"/>
<path d="M208.24 657.43 A93.6 93.6 0 0 1 206.35 656.52 L209.36 650.43 A86.8 86.8 0 0 0 211.11 651.27 Z" fill="#4a4a4a"/>
<path d="M206.38 656.54 A93.6 93.6 0 0 1 204.87 655.78 L207.99 649.73 A86.8 86.8 0 0 0 209.39 650.44 Z" fill="#111111"/>
<path d="M204.90 655.79 A93.6 93.6 0 0 1 203.25 654.92 L206.49 648.94 A86.8 86.8 0 0 0 208.02 649.75 Z" fill="#7c7c7c"/>
<path d="M202.39 654.44 A93.6 93.6 0 0 1 201.62 654.02 L204.98 648.10 A86.8 86.8 0 0 0 205.69 648.50 Z" fill="#c4c4c4"/>
<path d="M201.65 654.03 A93.6 93.6 0 0 1 200.93 653.62 L204.34 647.74 A86.8 86.8 0 0 0 205.00 648.12 Z" fill="#4a4a4a"/>
<path d="M200.96 653.64 A93.6 93.6 0 0 1 199.55 652.80 L203.05 646.98 A86.8 86.8 0 0 0 204.37 647.75 Z" fill="#a2a2a2"/>
<path d="M199.57 652.82 A93.6 93.6 0 0 1 198.07 651.90 L201.68 646.13 A86.8 86.8 0 0 0 203.08 646.99 Z" fill="#7c7c7c"/>
<path d="M196.84 651.11 A93.6 93.6 0 0 1 195.11 649.96 L198.94 644.34 A86.8 86.8 0 0 0 200.54 645.41 Z" fill="#7c7c7c"/>
<path d="M195.14 649.98 A93.6 93.6 0 0 1 193.87 649.10 L197.79 643.54 A86.8 86.8 0 0 0 198.97 644.36 Z" fill="#a2a2a2"/>
<path d="M192.44 648.07 A93.6 93.6 0 0 1 190.87 646.89 L195.00 641.50 A86.8 86.8 0 0 0 196.46 642.59 Z" fill="#e2e2e2"/>
<path d="M190.89 646.91 A93.6 93.6 0 0 1 190.28 646.44 L194.46 641.08 A86.8 86.8 0 0 0 195.03 641.51 Z" fill="#e2e2e2"/>
<path d="M190.31 646.46 A93.6 93.6 0 0 1 188.78 645.25 L193.07 639.97 A86.8 86.8 0 0 0 194.49 641.10 Z" fill="#e2e2e2"/>
<path d="M188.81 645.27 A93.6 93.6 0 0 1 188.58 645.08 L192.88 639.82 A86.8 86.8 0 0 0 193.09 639.99 Z" fill="#111111"/>
<line x1="208.24" y1="657.43" x2="207.31" y2="659.42" stroke="#666" stroke-width="0.4"/>
<text transform="translate(206.97,660.15) rotate(295.00)" x="0" y="1.5" font-size="4.4" text-anchor="end" fill="#505050">0</text>
<line x1="200.62" y1="653.44" x2="199.51" y2="655.34" stroke="#666" stroke-width="0.4"/>
<text transform="translate(199.10,656.03) rotate(300.27)" x="0" y="1.5" font-size="4.4" text-anchor="end" fill="#505050" textLength="4.4" lengthAdjust="spacingAndGlyphs">50</text>
<line x1="193.39" y1="648.76" x2="192.11" y2="650.55" stroke="#666" stroke-width="0.4"/>
<text transform="translate(191.65,651.20) rotate(305.54)" x="0" y="1.5" font-size="4.4" text-anchor="end" fill="#505050" textLength="6.6" lengthAdjust="spacingAndGlyphs">100</text>
<text transform="translate(191.02,663.06) rotate(392.12)" x="0" y="1.9" font-size="5.5" text-anchor="middle" fill="#333">11</text>
<path d="M186.84 643.63 A93.6 93.6 0 0 1 171.36 626.62 L176.92 622.70 A86.8 86.8 0 0 0 191.27 638.47 Z" fill="#ffffff" stroke="#6a6a6a" stroke-width="0.35"/>
<path d="M186.84 643.63 A93.6 93.6 0 0 1 185.69 642.62 L190.20 637.53 A86.8 86.8 0 0 0 191.27 638.47 Z" fill="#c4c4c4"/>
<path d="M185.71 642.64 A93.6 93.6 0 0 1 184.60 641.64 L189.19 636.62 A86.8 86.8 0 0 0 190.22 637.55 Z" fill="#7c7c7c"/>
<path d="M184.62 641.66 A93.6 93.6 0 0 1 183.14 640.28 L187.84 635.36 A86.8 86.8 0 0 0 189.21 636.64 Z" fill="#a2a2a2"/>
<path d="M181.90 639.07 A93.6 93.6 0 0 1 181.27 638.43 L186.10 633.65 A86.8 86.8 0 0 0 186.69 634.24 Z" fill="#e2e2e2"/>
<path d="M181.29 638.46 A93.6 93.6 0 0 1 179.91 637.04 L184.84 632.36 A86.8 86.8 0 0 0 186.12 633.67 Z" fill="#c4c4c4"/>
<path d="M178.82 635.87 A93.6 93.6 0 0 1 178.32 635.32 L183.37 630.76 A86.8 86.8 0 0 0 183.83 631.27 Z" fill="#e2e2e2"/>
<path d="M178.34 635.34 A93.6 93.6 0 0 1 177.12 633.96 L182.25 629.50 A86.8 86.8 0 0 0 183.39 630.79 Z" fill="#7c7c7c"/>
<path d="M177.14 633.98 A93.6 93.6 0 0 1 175.94 632.57 L181.16 628.21 A86.8 86.8 0 0 0 182.27 629.52 Z" fill="#c4c4c4"/>
<path d="M175.96 632.60 A93.6 93.6 0 0 1 174.96 631.38 L180.25 627.11 A86.8 86.8 0 0 0 181.18 628.24 Z" fill="#c4c4c4"/>
<path d="M174.98 631.41 A93.6 93.6 0 0 1 174.06 630.25 L179.42 626.06 A86.8 86.8 0 0 0 180.27 627.14 Z" fill="#e2e2e2"/>
<path d="M174.08 630.28 A93.6 93.6 0 0 1 172.72 628.49 L178.17 624.43 A86.8 86.8 0 0 0 179.44 626.09 Z" fill="#e2e2e2"/>
<path d="M172.74 628.51 A93.6 93.6 0 0 1 171.34 626.60 L176.90 622.67 A86.8 86.8 0 0 0 178.19 624.45 Z" fill="#111111"/>
<line x1="186.84" y1="643.63" x2="185.41" y2="645.30" stroke="#666" stroke-width="0.4"/>
<text transform="translate(184.89,645.90) rotate(310.64)" x="0" y="1.5" font-size="4.4" text-anchor="end" fill="#505050">0</text>
<line x1="180.57" y1="637.73" x2="178.99" y2="639.26" stroke="#666" stroke-width="0.4"/>
<text transform="translate(178.42,639.82) rotate(315.91)" x="0" y="1.5" font-size="4.4" text-anchor="end" fill="#505050" textLength="4.4" lengthAdjust="spacingAndGlyphs">50</text>
<line x1="174.88" y1="631.28" x2="173.16" y2="632.66" stroke="#666" stroke-width="0.4"/>
<text transform="translate(172.54,633.16) rotate(321.18)" x="0" y="1.5" font-size="4.4" text-anchor="end" fill="#505050" textLength="6.6" lengthAdjust="spacingAndGlyphs">100</text>
<text transform="translate(168.82,644.49) rotate(407.69)" x="0" y="1.9" font-size="5.5" text-anchor="middle" fill="#333">12</text>
<path d="M170.06 624.73 A93.6 93.6 0 0 1 160.83 607.21 L167.15 604.70 A86.8 86.8 0 0 0 175.71 620.94 Z" fill="#ffffff" stroke="#6a6a6a" stroke-width="0.35"/>
<path d="M170.06 624.73 A93.6 93.6 0 0 1 169.69 624.17 L175.36 620.42 A86.8 86.8 0 0 0 175.71 620.94 Z" fill="#c4c4c4"/>
<path d="M169.71 624.20 A93.6 93.6 0 0 1 168.56 622.42 L174.32 618.80 A86.8 86.8 0 0 0 175.38 620.45 Z" fill="#111111"/>
<path d="M168.58 622.45 A93.6 93.6 0 0 1 167.82 621.21 L173.63 617.68 A86.8 86.8 0 0 0 174.33 618.82 Z" fill="#c9a0aa"/>
<path d="M167.83 621.24 A93.6 93.6 0 0 1 167.31 620.37 L173.16 616.90 A86.8 86.8 0 0 0 173.64 617.71 Z" fill="#111111"/>
<path d="M167.33 620.40 A93.6 93.6 0 0 1 166.81 619.52 L172.70 616.12 A86.8 86.8 0 0 0 173.17 616.93 Z" fill="#a2a2a2"/>
<path d="M166.83 619.55 A93.6 93.6 0 0 1 166.39 618.78 L172.30 615.42 A86.8 86.8 0 0 0 172.71 616.14 Z" fill="#a2a2a2"/>
<path d="M166.40 618.81 A93.6 93.6 0 0 1 165.26 616.74 L171.26 613.54 A86.8 86.8 0 0 0 172.31 615.45 Z" fill="#e2e2e2"/>
<path d="M165.28 616.77 A93.6 93.6 0 0 1 164.30 614.89 L170.37 611.82 A86.8 86.8 0 0 0 171.27 613.56 Z" fill="#a2a2a2"/>
<path d="M164.32 614.92 A93.6 93.6 0 0 1 163.33 612.92 L169.46 609.99 A86.8 86.8 0 0 0 170.38 611.85 Z" fill="#7c7c7c"/>
<path d="M163.34 612.94 A93.6 93.6 0 0 1 162.89 611.99 L169.06 609.13 A86.8 86.8 0 0 0 169.48 610.01 Z" fill="#111111"/>
<path d="M162.29 610.67 A93.6 93.6 0 0 1 162.03 610.09 L168.27 607.36 A86.8 86.8 0 0 0 168.51 607.91 Z" fill="#a2a2a2"/>
<path d="M162.05 610.12 A93.6 93.6 0 0 1 161.48 608.78 L167.75 606.15 A86.8 86.8 0 0 0 168.28 607.39 Z" fill="#c4c4c4"/>
<path d="M161.49 608.81 A93.6 93.6 0 0 1 161.15 607.99 L167.44 605.42 A86.8 86.8 0 0 0 167.76 606.18 Z" fill="#c4c4c4"/>
<path d="M161.16 608.02 A93.6 93.6 0 0 1 160.82 607.18 L167.14 604.67 A86.8 86.8 0 0 0 167.46 605.45 Z" fill="#4a4a4a"/>
<line x1="170.06" y1="624.73" x2="168.23" y2="625.95" stroke="#666" stroke-width="0.4"/>
<text transform="translate(167.57,626.40) rotate(326.16)" x="0" y="1.5" font-size="4.4" text-anchor="end" fill="#505050">0</text>
<line x1="165.60" y1="617.37" x2="163.67" y2="618.42" stroke="#666" stroke-width="0.4"/>
<text transform="translate(162.96,618.80) rotate(331.43)" x="0" y="1.5" font-size="4.4" text-anchor="end" fill="#505050" textLength="4.4" lengthAdjust="spacingAndGlyphs">50</text>
<line x1="161.84" y1="609.63" x2="159.82" y2="610.50" stroke="#666" stroke-width="0.4"/>
<text transform="translate(159.08,610.82) rotate(336.70)" x="0" y="1.5" font-size="4.4" text-anchor="end" fill="#505050" textLength="6.6" lengthAdjust="spacingAndGlyphs">100</text>
<text transform="translate(153.30,622.36) rotate(422.23)" x="0" y="1.9" font-size="5.5" text-anchor="middle" fill="#333">13</text>
<path d="M160.01 605.06 A93.6 93.6 0 0 1 155.35 587.22 L162.07 586.16 A86.8 86.8 0 0 0 166.39 602.70 Z" fill="#ffffff" stroke="#6a6a6a" stroke-width="0.35"/>
<path d="M160.01 605.06 A93.6 93.6 0 0 1 159.79 604.46 L166.18 602.15 A86.8 86.8 0 0 0 166.39 602.70 Z" fill="#7c7c7c"/>
<path d="M159.80 604.49 A93.6 93.6 0 0 1 159.09 602.46 L165.54 600.29 A86.8 86.8 0 0 0 166.19 602.18 Z" fill="#e2e2e2"/>
<path d="M159.10 602.49 A93.6 93.6 0 0 1 158.39 600.29 L164.89 598.28 A86.8 86.8 0 0 0 165.55 600.32 Z" fill="#c9a0aa"/>
<path d="M158.40 600.33 A93.6 93.6 0 0 1 157.76 598.15 L164.30 596.30 A86.8 86.8 0 0 0 164.90 598.31 Z" fill="#c4c4c4"/>
<path d="M157.77 598.19 A93.6 93.6 0 0 1 157.42 596.93 L163.98 595.16 A86.8 86.8 0 0 0 164.31 596.33 Z" fill="#c4c4c4"/>
<path d="M157.42 596.96 A93.6 93.6 0 0 1 156.82 594.59 L163.43 593.00 A86.8 86.8 0 0 0 163.99 595.19 Z" fill="#a2a2a2"/>
<path d="M156.83 594.62 A93.6 93.6 0 0 1 156.53 593.37 L163.16 591.86 A86.8 86.8 0 0 0 163.44 593.02 Z" fill="#c4c4c4"/>
<path d="M156.30 592.33 A93.6 93.6 0 0 1 156.13 591.53 L162.79 590.15 A86.8 86.8 0 0 0 162.95 590.90 Z" fill="#4a4a4a"/>
<path d="M156.14 591.56 A93.6 93.6 0 0 1 155.91 590.43 L162.59 589.14 A86.8 86.8 0 0 0 162.80 590.18 Z" fill="#111111"/>
<path d="M155.92 590.46 A93.6 93.6 0 0 1 155.72 589.40 L162.41 588.18 A86.8 86.8 0 0 0 162.60 589.17 Z" fill="#e2e2e2"/>
<path d="M155.73 589.43 A93.6 93.6 0 0 1 155.46 587.89 L162.17 586.78 A86.8 86.8 0 0 0 162.41 588.21 Z" fill="#e2e2e2"/>
<path d="M155.46 587.93 A93.6 93.6 0 0 1 155.34 587.19 L162.06 586.13 A86.8 86.8 0 0 0 162.17 586.81 Z" fill="#111111"/>
<line x1="160.01" y1="605.06" x2="157.95" y2="605.82" stroke="#666" stroke-width="0.4"/>
<text transform="translate(157.20,606.10) rotate(339.71)" x="0" y="1.5" font-size="4.4" text-anchor="end" fill="#505050">0</text>
<line x1="157.40" y1="596.86" x2="155.27" y2="597.43" stroke="#666" stroke-width="0.4"/>
<text transform="translate(154.50,597.64) rotate(344.98)" x="0" y="1.5" font-size="4.4" text-anchor="end" fill="#505050" textLength="4.4" lengthAdjust="spacingAndGlyphs">50</text>
<line x1="155.55" y1="588.46" x2="153.39" y2="588.83" stroke="#666" stroke-width="0.4"/>
<text transform="translate(152.60,588.97) rotate(350.25)" x="0" y="1.5" font-size="4.4" text-anchor="end" fill="#505050" textLength="6.6" lengthAdjust="spacingAndGlyphs">100</text>
<text transform="translate(144.47,599.59) rotate(435.36)" x="0" y="1.9" font-size="5.5" text-anchor="middle" fill="#333">14</text>
<path d="M155.02 584.94 A93.6 93.6 0 0 1 154.35 567.33 L161.14 567.72 A86.8 86.8 0 0 0 161.76 584.04 Z" fill="#ffffff" stroke="#6a6a6a" stroke-width="0.35"/>
<path d="M155.02 584.94 A93.6 93.6 0 0 1 154.75 582.72 L161.51 581.99 A86.8 86.8 0 0 0 161.76 584.04 Z" fill="#4a4a4a"/>
<path d="M154.75 582.75 A93.6 93.6 0 0 1 154.58 580.99 L161.35 580.38 A86.8 86.8 0 0 0 161.51 582.02 Z" fill="#111111"/>
<path d="M154.58 581.02 A93.6 93.6 0 0 1 154.40 578.69 L161.18 578.25 A86.8 86.8 0 0 0 161.35 580.41 Z" fill="#a2a2a2"/>
<path d="M154.30 576.82 A93.6 93.6 0 0 1 154.23 574.87 L161.03 574.70 A86.8 86.8 0 0 0 161.09 576.52 Z" fill="#c4c4c4"/>
<path d="M154.23 574.90 A93.6 93.6 0 0 1 154.20 572.90 L161.00 572.88 A86.8 86.8 0 0 0 161.03 574.73 Z" fill="#a2a2a2"/>
<path d="M154.20 571.82 A93.6 93.6 0 0 1 154.25 569.51 L161.05 569.73 A86.8 86.8 0 0 0 161.00 571.87 Z" fill="#e2e2e2"/>
<path d="M154.25 569.54 A93.6 93.6 0 0 1 154.31 568.05 L161.10 568.38 A86.8 86.8 0 0 0 161.05 569.76 Z" fill="#c4c4c4"/>
<path d="M154.31 568.09 A93.6 93.6 0 0 1 154.35 567.30 L161.14 567.69 A86.8 86.8 0 0 0 161.10 568.41 Z" fill="#7c7c7c"/>
<line x1="155.02" y1="584.94" x2="152.84" y2="585.23" stroke="#666" stroke-width="0.4"/>
<text transform="translate(152.04,585.34) rotate(352.42)" x="0" y="1.5" font-size="4.4" text-anchor="end" fill="#505050">0</text>
<line x1="154.28" y1="576.37" x2="152.08" y2="576.46" stroke="#666" stroke-width="0.4"/>
<text transform="translate(151.28,576.49) rotate(357.69)" x="0" y="1.5" font-size="4.4" text-anchor="end" fill="#505050" textLength="4.4" lengthAdjust="spacingAndGlyphs">50</text>
<line x1="154.33" y1="567.76" x2="152.13" y2="567.65" stroke="#666" stroke-width="0.4"/>
<text transform="translate(151.33,567.61) rotate(362.96)" x="0" y="1.5" font-size="4.4" text-anchor="end" fill="#505050" textLength="6.6" lengthAdjust="spacingAndGlyphs">100</text>
<text transform="translate(141.08,576.65) rotate(447.82)" x="0" y="1.9" font-size="5.5" text-anchor="middle" fill="#333">15</text>
<path d="M154.51 565.04 A93.6 93.6 0 0 1 157.04 549.70 L163.64 551.36 A86.8 86.8 0 0 0 161.28 565.59 Z" fill="#ffffff" stroke="#6a6a6a" stroke-width="0.35"/>
<path d="M154.51 565.04 A93.6 93.6 0 0 1 154.73 562.65 L161.49 563.37 A86.8 86.8 0 0 0 161.28 565.59 Z" fill="#e2e2e2"/>
<path d="M154.73 562.68 A93.6 93.6 0 0 1 154.94 560.87 L161.68 561.72 A86.8 86.8 0 0 0 161.49 563.40 Z" fill="#c4c4c4"/>
<path d="M154.93 560.90 A93.6 93.6 0 0 1 155.15 559.28 L161.88 560.24 A86.8 86.8 0 0 0 161.68 561.75 Z" fill="#c4c4c4"/>
<path d="M155.15 559.31 A93.6 93.6 0 0 1 155.29 558.38 L162.01 559.41 A86.8 86.8 0 0 0 161.88 560.27 Z" fill="#c9a0aa"/>
<path d="M155.28 558.41 A93.6 93.6 0 0 1 155.44 557.41 L162.15 558.52 A86.8 86.8 0 0 0 162.00 559.44 Z" fill="#c9a0aa"/>
<path d="M155.43 557.45 A93.6 93.6 0 0 1 155.70 555.94 L162.39 557.15 A86.8 86.8 0 0 0 162.15 558.55 Z" fill="#e2e2e2"/>
<path d="M155.69 555.97 A93.6 93.6 0 0 1 156.12 553.74 L162.78 555.11 A86.8 86.8 0 0 0 162.38 557.18 Z" fill="#111111"/>
<path d="M156.11 553.77 A93.6 93.6 0 0 1 156.42 552.35 L163.06 553.82 A86.8 86.8 0 0 0 162.78 555.14 Z" fill="#e2e2e2"/>
<path d="M156.41 552.38 A93.6 93.6 0 0 1 156.63 551.42 L163.25 552.96 A86.8 86.8 0 0 0 163.05 553.85 Z" fill="#e2e2e2"/>
<path d="M156.62 551.46 A93.6 93.6 0 0 1 156.91 550.24 L163.51 551.86 A86.8 86.8 0 0 0 163.24 552.99 Z" fill="#e2e2e2"/>
<path d="M156.90 550.27 A93.6 93.6 0 0 1 157.05 549.67 L163.65 551.34 A86.8 86.8 0 0 0 163.51 551.89 Z" fill="#e2e2e2"/>
<line x1="154.51" y1="565.04" x2="152.31" y2="564.86" stroke="#666" stroke-width="0.4"/>
<text transform="translate(151.52,564.79) rotate(364.64)" x="0" y="1.5" font-size="4.4" text-anchor="end" fill="#505050">0</text>
<line x1="155.59" y1="556.50" x2="153.43" y2="556.12" stroke="#666" stroke-width="0.4"/>
<text transform="translate(152.64,555.99) rotate(369.90)" x="0" y="1.5" font-size="4.4" text-anchor="end" fill="#505050" textLength="4.4" lengthAdjust="spacingAndGlyphs">50</text>
<text transform="translate(142.43,555.16) rotate(279.40)" x="0" y="1.9" font-size="5.5" text-anchor="middle" fill="#333">16</text>
<path d="M157.64 547.47 A93.6 93.6 0 0 1 162.38 534.34 L168.58 537.12 A86.8 86.8 0 0 0 164.19 549.30 Z" fill="#ffffff" stroke="#6a6a6a" stroke-width="0.35"/>
<path d="M157.64 547.47 A93.6 93.6 0 0 1 158.10 545.88 L164.61 547.82 A86.8 86.8 0 0 0 164.19 549.30 Z" fill="#111111"/>
<path d="M158.09 545.91 A93.6 93.6 0 0 1 158.67 544.01 L165.15 546.08 A86.8 86.8 0 0 0 164.60 547.85 Z" fill="#c4c4c4"/>
<path d="M158.66 544.04 A93.6 93.6 0 0 1 159.10 542.72 L165.54 544.89 A86.8 86.8 0 0 0 165.14 546.11 Z" fill="#a2a2a2"/>
<path d="M159.09 542.75 A93.6 93.6 0 0 1 159.51 541.51 L165.93 543.77 A86.8 86.8 0 0 0 165.53 544.92 Z" fill="#c4c4c4"/>
<path d="M159.50 541.54 A93.6 93.6 0 0 1 159.75 540.84 L166.15 543.14 A86.8 86.8 0 0 0 165.92 543.80 Z" fill="#e2e2e2"/>
<path d="M159.74 540.87 A93.6 93.6 0 0 1 160.58 538.63 L166.92 541.10 A86.8 86.8 0 0 0 166.14 543.17 Z" fill="#e2e2e2"/>
<path d="M160.57 538.66 A93.6 93.6 0 0 1 161.14 537.23 L167.44 539.80 A86.8 86.8 0 0 0 166.91 541.13 Z" fill="#a2a2a2"/>
<path d="M161.13 537.26 A93.6 93.6 0 0 1 161.98 535.24 L168.22 537.95 A86.8 86.8 0 0 0 167.43 539.83 Z" fill="#e2e2e2"/>
<path d="M161.97 535.27 A93.6 93.6 0 0 1 162.39 534.31 L168.60 537.09 A86.8 86.8 0 0 0 168.20 537.98 Z" fill="#e2e2e2"/>
<line x1="157.64" y1="547.47" x2="155.52" y2="546.88" stroke="#666" stroke-width="0.4"/>
<text transform="translate(154.75,546.67) rotate(375.57)" x="0" y="1.5" font-size="4.4" text-anchor="end" fill="#505050">0</text>
<line x1="160.32" y1="539.30" x2="158.27" y2="538.52" stroke="#666" stroke-width="0.4"/>
<text transform="translate(157.52,538.23) rotate(380.84)" x="0" y="1.5" font-size="4.4" text-anchor="end" fill="#505050" textLength="4.4" lengthAdjust="spacingAndGlyphs">50</text>
<text transform="translate(147.35,536.34) rotate(289.85)" x="0" y="1.9" font-size="5.5" text-anchor="middle" fill="#333">17</text>
<path d="M163.34 532.25 A93.6 93.6 0 0 1 169.99 520.58 L175.64 524.35 A86.8 86.8 0 0 0 169.48 535.18 Z" fill="#ffffff" stroke="#6a6a6a" stroke-width="0.35"/>
<path d="M163.34 532.25 A93.6 93.6 0 0 1 163.94 531.03 L170.03 534.05 A86.8 86.8 0 0 0 169.48 535.18 Z" fill="#c4c4c4"/>
<path d="M163.92 531.06 A93.6 93.6 0 0 1 165.00 528.96 L171.01 532.13 A86.8 86.8 0 0 0 170.02 534.08 Z" fill="#4a4a4a"/>
<path d="M166.02 527.07 A93.6 93.6 0 0 1 166.36 526.46 L172.28 529.82 A86.8 86.8 0 0 0 171.96 530.38 Z" fill="#7c7c7c"/>
<path d="M166.34 526.49 A93.6 93.6 0 0 1 167.48 524.54 L173.31 528.04 A86.8 86.8 0 0 0 172.26 529.84 Z" fill="#c4c4c4"/>
<path d="M168.33 523.15 A93.6 93.6 0 0 1 169.05 522.02 L174.77 525.69 A86.8 86.8 0 0 0 174.10 526.74 Z" fill="#111111"/>
<path d="M169.03 522.04 A93.6 93.6 0 0 1 170.01 520.55 L175.66 524.33 A86.8 86.8 0 0 0 174.75 525.72 Z" fill="#4a4a4a"/>
<line x1="163.34" y1="532.25" x2="161.36" y2="531.30" stroke="#666" stroke-width="0.4"/>
<text transform="translate(160.64,530.96) rotate(385.54)" x="0" y="1.5" font-size="4.4" text-anchor="end" fill="#505050">0</text>
<line x1="167.41" y1="524.66" x2="165.52" y2="523.54" stroke="#666" stroke-width="0.4"/>
<text transform="translate(164.83,523.13) rotate(390.81)" x="0" y="1.5" font-size="4.4" text-anchor="end" fill="#505050" textLength="4.4" lengthAdjust="spacingAndGlyphs">50</text>
<text transform="translate(154.99,519.76) rotate(299.65)" x="0" y="1.9" font-size="5.5" text-anchor="middle" fill="#333">18</text>
<path d="M171.29 518.68 A93.6 93.6 0 0 1 177.59 510.70 L182.70 515.19 A86.8 86.8 0 0 0 176.85 522.59 Z" fill="#ffffff" stroke="#6a6a6a" stroke-width="0.35"/>
<path d="M171.29 518.68 A93.6 93.6 0 0 1 172.70 516.74 L178.15 520.80 A86.8 86.8 0 0 0 176.85 522.59 Z" fill="#e2e2e2"/>
<path d="M172.68 516.77 A93.6 93.6 0 0 1 173.18 516.10 L178.60 520.20 A86.8 86.8 0 0 0 178.13 520.82 Z" fill="#e2e2e2"/>
<path d="M173.16 516.13 A93.6 93.6 0 0 1 174.12 514.87 L179.47 519.07 A86.8 86.8 0 0 0 178.58 520.23 Z" fill="#7c7c7c"/>
<path d="M174.10 514.90 A93.6 93.6 0 0 1 175.56 513.08 L180.81 517.40 A86.8 86.8 0 0 0 179.45 519.09 Z" fill="#c9a0aa"/>
<path d="M175.54 513.10 A93.6 93.6 0 0 1 176.70 511.72 L181.87 516.14 A86.8 86.8 0 0 0 180.79 517.43 Z" fill="#7c7c7c"/>
<path d="M176.68 511.75 A93.6 93.6 0 0 1 177.62 510.67 L182.72 515.17 A86.8 86.8 0 0 0 181.85 516.17 Z" fill="#a2a2a2"/>
<line x1="171.29" y1="518.68" x2="169.50" y2="517.41" stroke="#666" stroke-width="0.4"/>
<text transform="translate(168.84,516.95) rotate(395.18)" x="0" y="1.5" font-size="4.4" text-anchor="end" fill="#505050">0</text>
<line x1="176.57" y1="511.88" x2="174.89" y2="510.45" stroke="#666" stroke-width="0.4"/>
<text transform="translate(174.29,509.93) rotate(400.45)" x="0" y="1.5" font-size="4.4" text-anchor="end" fill="#505050" textLength="4.4" lengthAdjust="spacingAndGlyphs">50</text>
<text transform="translate(163.98,506.42) rotate(308.29)" x="0" y="1.9" font-size="5.5" text-anchor="middle" fill="#333">19</text>
<path d="M179.14 508.99 A93.6 93.6 0 0 1 186.95 501.48 L191.37 506.64 A86.8 86.8 0 0 0 184.13 513.61 Z" fill="#ffffff" stroke="#6a6a6a" stroke-width="0.35"/>
<path d="M179.14 508.99 A93.6 93.6 0 0 1 179.62 508.47 L184.57 513.13 A86.8 86.8 0 0 0 184.13 513.61 Z" fill="#4a4a4a"/>
<path d="M179.60 508.49 A93.6 93.6 0 0 1 180.33 507.73 L185.23 512.44 A86.8 86.8 0 0 0 184.55 513.15 Z" fill="#111111"/>
<path d="M180.30 507.75 A93.6 93.6 0 0 1 181.56 506.47 L186.38 511.27 A86.8 86.8 0 0 0 185.21 512.46 Z" fill="#c4c4c4"/>
<path d="M181.54 506.49 A93.6 93.6 0 0 1 182.16 505.88 L186.93 510.73 A86.8 86.8 0 0 0 186.36 511.29 Z" fill="#e2e2e2"/>
<path d="M182.13 505.90 A93.6 93.6 0 0 1 183.42 504.66 L188.09 509.60 A86.8 86.8 0 0 0 186.90 510.75 Z" fill="#7c7c7c"/>
<path d="M183.98 504.13 A93.6 93.6 0 0 1 185.15 503.06 L189.70 508.11 A86.8 86.8 0 0 0 188.62 509.11 Z" fill="#a2a2a2"/>
<path d="M185.12 503.08 A93.6 93.6 0 0 1 186.12 502.20 L190.60 507.31 A86.8 86.8 0 0 0 189.68 508.13 Z" fill="#e2e2e2"/>
<line x1="179.14" y1="508.99" x2="177.53" y2="507.49" stroke="#666" stroke-width="0.4"/>
<text transform="translate(176.94,506.95) rotate(402.81)" x="0" y="1.5" font-size="4.4" text-anchor="end" fill="#505050">0</text>
<line x1="185.27" y1="502.95" x2="183.80" y2="501.31" stroke="#666" stroke-width="0.4"/>
<text transform="translate(183.27,500.72) rotate(408.08)" x="0" y="1.5" font-size="4.4" text-anchor="end" fill="#505050" textLength="4.4" lengthAdjust="spacingAndGlyphs">50</text>
<text transform="translate(173.79,495.60) rotate(316.13)" x="0" y="1.9" font-size="5.5" text-anchor="middle" fill="#333">20</text>
<path d="M188.72 500.00 A93.6 93.6 0 0 1 195.37 495.06 L199.18 500.70 A86.8 86.8 0 0 0 193.01 505.27 Z" fill="#ffffff" stroke="#6a6a6a" stroke-width="0.35"/>
<path d="M188.72 500.00 A93.6 93.6 0 0 1 189.64 499.26 L193.87 504.59 A86.8 86.8 0 0 0 193.01 505.27 Z" fill="#c4c4c4"/>
<path d="M189.62 499.28 A93.6 93.6 0 0 1 191.49 497.83 L195.58 503.26 A86.8 86.8 0 0 0 193.84 504.61 Z" fill="#a2a2a2"/>
<path d="M191.46 497.85 A93.6 93.6 0 0 1 193.26 496.53 L197.23 502.06 A86.8 86.8 0 0 0 195.56 503.28 Z" fill="#c4c4c4"/>
<path d="M193.24 496.55 A93.6 93.6 0 0 1 194.10 495.94 L198.00 501.51 A86.8 86.8 0 0 0 197.20 502.07 Z" fill="#e2e2e2"/>
<path d="M194.07 495.95 A93.6 93.6 0 0 1 195.39 495.05 L199.20 500.68 A86.8 86.8 0 0 0 197.98 501.52 Z" fill="#7c7c7c"/>
<line x1="188.72" y1="500.00" x2="187.33" y2="498.29" stroke="#666" stroke-width="0.4"/>
<text transform="translate(186.83,497.67) rotate(410.86)" x="0" y="1.5" font-size="4.4" text-anchor="end" fill="#505050">0</text>
<text transform="translate(184.12,486.86) rotate(323.40)" x="0" y="1.9" font-size="5.5" text-anchor="middle" fill="#333">21</text>
<path d="M197.29 493.80 A93.6 93.6 0 0 1 204.94 489.39 L208.05 495.44 A86.8 86.8 0 0 0 200.96 499.52 Z" fill="#ffffff" stroke="#6a6a6a" stroke-width="0.35"/>
<path d="M198.27 493.18 A93.6 93.6 0 0 1 199.58 492.38 L203.08 498.21 A86.8 86.8 0 0 0 201.87 498.95 Z" fill="#7c7c7c"/>
<path d="M199.55 492.39 A93.6 93.6 0 0 1 200.75 491.68 L204.17 497.56 A86.8 86.8 0 0 0 203.06 498.22 Z" fill="#c9a0aa"/>
<path d="M200.72 491.70 A93.6 93.6 0 0 1 202.32 490.79 L205.63 496.73 A86.8 86.8 0 0 0 204.14 497.58 Z" fill="#111111"/>
<path d="M203.18 490.32 A93.6 93.6 0 0 1 204.28 489.73 L207.44 495.75 A86.8 86.8 0 0 0 206.42 496.30 Z" fill="#c4c4c4"/>
<path d="M204.25 489.75 A93.6 93.6 0 0 1 204.97 489.37 L208.08 495.42 A86.8 86.8 0 0 0 207.42 495.77 Z" fill="#e2e2e2"/>
<line x1="197.29" y1="493.80" x2="196.10" y2="491.95" stroke="#666" stroke-width="0.4"/>
<text transform="translate(195.67,491.27) rotate(417.34)" x="0" y="1.5" font-size="4.4" text-anchor="end" fill="#505050">0</text>
<line x1="204.74" y1="489.49" x2="203.73" y2="487.54" stroke="#666" stroke-width="0.4"/>
<text transform="translate(203.36,486.83) rotate(422.61)" x="0" y="1.5" font-size="4.4" text-anchor="end" fill="#505050" textLength="4.4" lengthAdjust="spacingAndGlyphs">50</text>
<text transform="translate(194.47,480.07) rotate(330.04)" x="0" y="1.9" font-size="5.5" text-anchor="middle" fill="#333">22</text>
<path d="M207.00 488.36 A93.6 93.6 0 0 1 232.39 480.28 L233.51 486.98 A86.8 86.8 0 0 0 209.96 494.48 Z" fill="#ffffff" stroke="#6a6a6a" stroke-width="0.35"/>
<path d="M207.00 488.36 A93.6 93.6 0 0 1 208.88 487.48 L211.71 493.66 A86.8 86.8 0 0 0 209.96 494.48 Z" fill="#7c7c7c"/>
<path d="M208.85 487.49 A93.6 93.6 0 0 1 210.26 486.86 L212.99 493.09 A86.8 86.8 0 0 0 211.68 493.67 Z" fill="#e2e2e2"/>
<path d="M210.23 486.87 A93.6 93.6 0 0 1 212.43 485.94 L215.00 492.24 A86.8 86.8 0 0 0 212.96 493.10 Z" fill="#c4c4c4"/>
<path d="M212.40 485.95 A93.6 93.6 0 0 1 214.37 485.17 L216.80 491.53 A86.8 86.8 0 0 0 214.97 492.25 Z" fill="#e2e2e2"/>
<path d="M214.34 485.19 A93.6 93.6 0 0 1 215.31 484.82 L217.67 491.20 A86.8 86.8 0 0 0 216.77 491.54 Z" fill="#7c7c7c"/>
<path d="M215.28 484.83 A93.6 93.6 0 0 1 216.37 484.43 L218.66 490.84 A86.8 86.8 0 0 0 217.64 491.21 Z" fill="#111111"/>
<path d="M216.34 484.44 A93.6 93.6 0 0 1 217.79 483.94 L219.97 490.38 A86.8 86.8 0 0 0 218.63 490.85 Z" fill="#c9a0aa"/>
<path d="M217.76 483.95 A93.6 93.6 0 0 1 218.75 483.62 L220.86 490.09 A86.8 86.8 0 0 0 219.94 490.39 Z" fill="#c4c4c4"/>
<path d="M218.71 483.63 A93.6 93.6 0 0 1 220.47 483.08 L222.45 489.58 A86.8 86.8 0 0 0 220.83 490.10 Z" fill="#111111"/>
<path d="M220.44 483.09 A93.6 93.6 0 0 1 221.30 482.83 L223.22 489.35 A86.8 86.8 0 0 0 222.42 489.59 Z" fill="#c4c4c4"/>
<path d="M221.27 482.84 A93.6 93.6 0 0 1 222.25 482.56 L224.10 489.10 A86.8 86.8 0 0 0 223.19 489.36 Z" fill="#111111"/>
<path d="M223.04 482.33 A93.6 93.6 0 0 1 223.76 482.14 L225.51 488.71 A86.8 86.8 0 0 0 224.84 488.89 Z" fill="#c4c4c4"/>
<path d="M223.73 482.15 A93.6 93.6 0 0 1 225.92 481.59 L227.51 488.21 A86.8 86.8 0 0 0 225.48 488.72 Z" fill="#111111"/>
<path d="M225.89 481.60 A93.6 93.6 0 0 1 227.80 481.16 L229.25 487.81 A86.8 86.8 0 0 0 227.48 488.21 Z" fill="#111111"/>
<path d="M227.76 481.17 A93.6 93.6 0 0 1 230.03 480.70 L231.32 487.38 A86.8 86.8 0 0 0 229.22 487.81 Z" fill="#c4c4c4"/>
<path d="M230.00 480.71 A93.6 93.6 0 0 1 230.96 480.53 L232.18 487.22 A86.8 86.8 0 0 0 231.30 487.38 Z" fill="#111111"/>
<line x1="207.00" y1="488.36" x2="206.04" y2="486.38" stroke="#666" stroke-width="0.4"/>
<text transform="translate(205.69,485.66) rotate(424.16)" x="0" y="1.5" font-size="4.4" text-anchor="end" fill="#505050">0</text>
<line x1="214.91" y1="484.97" x2="214.13" y2="482.91" stroke="#666" stroke-width="0.4"/>
<text transform="translate(213.85,482.16) rotate(429.43)" x="0" y="1.5" font-size="4.4" text-anchor="end" fill="#505050" textLength="4.4" lengthAdjust="spacingAndGlyphs">50</text>
<line x1="223.09" y1="482.32" x2="222.51" y2="480.20" stroke="#666" stroke-width="0.4"/>
<text transform="translate(222.30,479.43) rotate(434.69)" x="0" y="1.5" font-size="4.4" text-anchor="end" fill="#505050" textLength="6.6" lengthAdjust="spacingAndGlyphs">100</text>
<line x1="231.49" y1="480.43" x2="231.10" y2="478.27" stroke="#666" stroke-width="0.4"/>
<text transform="translate(230.97,477.48) rotate(439.96)" x="0" y="1.5" font-size="4.4" text-anchor="end" fill="#505050" textLength="6.6" lengthAdjust="spacingAndGlyphs">150</text>
<text transform="translate(215.40,470.83) rotate(342.34)" x="0" y="1.9" font-size="5.5" text-anchor="middle" fill="#333">X</text>
<path d="M234.66 479.93 A93.6 93.6 0 0 1 244.85 479.05 L245.06 485.84 A86.8 86.8 0 0 0 235.62 486.66 Z" fill="#ffffff" stroke="#6a6a6a" stroke-width="0.35"/>
<path d="M234.66 479.93 A93.6 93.6 0 0 1 236.48 479.69 L237.31 486.44 A86.8 86.8 0 0 0 235.62 486.66 Z" fill="#c4c4c4"/>
<path d="M236.45 479.69 A93.6 93.6 0 0 1 237.75 479.54 L238.48 486.30 A86.8 86.8 0 0 0 237.28 486.44 Z" fill="#c9a0aa"/>
<path d="M238.62 479.45 A93.6 93.6 0 0 1 239.76 479.35 L240.34 486.12 A86.8 86.8 0 0 0 239.29 486.22 Z" fill="#c4c4c4"/>
<path d="M239.73 479.35 A93.6 93.6 0 0 1 242.08 479.17 L242.50 485.96 A86.8 86.8 0 0 0 240.31 486.12 Z" fill="#e2e2e2"/>
<path d="M242.05 479.18 A93.6 93.6 0 0 1 244.43 479.06 L244.67 485.86 A86.8 86.8 0 0 0 242.47 485.96 Z" fill="#e2e2e2"/>
<path d="M244.39 479.06 A93.6 93.6 0 0 1 244.88 479.05 L245.09 485.84 A86.8 86.8 0 0 0 244.64 485.86 Z" fill="#4a4a4a"/>
<line x1="234.66" y1="479.93" x2="234.35" y2="477.75" stroke="#666" stroke-width="0.4"/>
<text transform="translate(234.24,476.96) rotate(441.93)" x="0" y="1.5" font-size="4.4" text-anchor="end" fill="#505050">0</text>
<line x1="243.23" y1="479.11" x2="243.12" y2="476.91" stroke="#666" stroke-width="0.4"/>
<text transform="translate(243.08,476.12) rotate(447.20)" x="0" y="1.5" font-size="4.4" text-anchor="end" fill="#505050" textLength="4.4" lengthAdjust="spacingAndGlyphs">50</text>
<text transform="translate(238.61,466.20) rotate(355.06)" x="0" y="1.9" font-size="5.5" text-anchor="middle" fill="#333">Y</text>
<path d="M235.64 487.16 A86.3 86.3 0 0 1 244.79 486.35 L244.95 491.05 A81.6 81.6 0 0 0 236.30 491.81 Z" fill="#e3161e"/>
<path d="M203.61 498.47 A86.3 86.3 0 0 1 206.75 496.69 L208.80 500.47 A82.0 82.0 0 0 0 205.81 502.17 Z" fill="#e3161e"/>
<path d="M162.81 557.61 A86.3 86.3 0 0 1 164.17 551.28 L168.73 552.44 A81.6 81.6 0 0 0 167.44 558.43 Z" fill="#e3161e"/>
<path d="M165.59 598.84 A86.3 86.3 0 0 1 162.76 587.29 L167.39 586.49 A81.6 81.6 0 0 0 170.06 597.41 Z" fill="#e3161e"/>
<path d="M192.10 638.52 A86.3 86.3 0 0 1 188.94 635.72 L192.01 632.42 A81.8 81.8 0 0 0 195.00 635.08 Z" fill="#e3161e"/>
<path d="M239.38 658.49 A86.3 86.3 0 0 1 236.68 658.18 L237.26 653.72 A81.8 81.8 0 0 0 239.82 654.01 Z" fill="#e3161e"/>
<path d="M316.70 624.90 A86.5 86.5 0 0 1 308.54 634.19 L304.89 630.49 A81.3 81.3 0 0 0 312.56 621.75 Z" fill="#e3161e"/>
<path d="M269.95 488.78 A86.7 86.7 0 0 1 284.72 494.15 L282.08 499.76 A80.5 80.5 0 0 0 268.36 494.77 Z" fill="#f1f6fb" stroke="#b4cbe3" stroke-width="0.45"/>
<path d="M339.51 551.09 A94.2 94.2 0 0 1 340.14 553.98 L327.40 556.55 A81.2 81.2 0 0 0 326.85 554.06 Z" fill="#f1f6fb" stroke="#b4cbe3" stroke-width="0.45"/>
<path d="M327.74 608.19 A87.5 87.5 0 0 1 325.06 613.68 L320.03 611.00 A81.8 81.8 0 0 0 322.53 605.87 Z" fill="#f1f6fb" stroke="#b4cbe3" stroke-width="0.45"/>
<path d="M311.48 639.00 A92.0 92.0 0 0 1 309.60 640.75 L301.87 632.23 A80.5 80.5 0 0 0 303.52 630.70 Z" fill="#f1f6fb" stroke="#b4cbe3" stroke-width="0.45"/>
<path d="M164.6 586.2 C210 576 240 622 198.5 650" fill="none" stroke="#e8505a" stroke-width="0.7"/>
<line x1="257.63" y1="479.11" x2="260.37" y2="462.31" stroke="#e24a52" stroke-width="0.45"/>
<text transform="translate(260.40,462.02) rotate(-83.50)" x="0" y="1.66" font-size="4.6" text-anchor="start" fill="#e24a52">CDKN2C</text>
<line x1="155.12" y1="588.28" x2="138.85" y2="591.03" stroke="#444" stroke-width="0.45"/>
<text transform="translate(138.35,591.11) rotate(350.40)" x="0" y="1.62" font-size="4.5" text-anchor="end" fill="#444">TRAF3</text>
<line x1="190.40" y1="650.17" x2="182.37" y2="661.02" stroke="#555" stroke-width="0.45"/>
<text transform="translate(182.07,661.43) rotate(306.50)" x="0" y="1.69" font-size="4.7" text-anchor="end" fill="#555">KMT2A</text>
<line x1="206.31" y1="661.16" x2="201.66" y2="674.32" stroke="#555" stroke-width="0.45"/>
<text transform="translate(201.45,674.78) rotate(294.40)" x="0" y="1.58" font-size="4.4" text-anchor="end" fill="#555">MUC2</text>
<line x1="302.94" y1="652.53" x2="309.67" y2="665.36" stroke="#555" stroke-width="0.45"/>
<text transform="translate(309.94,665.78) rotate(56.30)" x="0" y="1.66" font-size="4.6" text-anchor="start" fill="#555">PCLO</text>
<line x1="167.43" y1="515.48" x2="156.96" y2="508.28" stroke="#555" stroke-width="0.45"/>
<text transform="translate(156.56,508.00) rotate(395.30)" x="0" y="1.40" font-size="3.9" text-anchor="end" fill="#555">BCL3</text>
<polyline points="157.5,546.0 152.0,545.3 139.6,538.4" fill="none" stroke="#8aa0b8" stroke-width="0.4"/>
<polyline points="157.5,546.4 152.0,546.0 139.8,542.2" fill="none" stroke="#e25a64" stroke-width="0.4"/>
<text transform="translate(139.2,538.2) rotate(17)" x="0" y="1.2" font-size="3.8" text-anchor="end" fill="#8aa0b8">TP53</text>
<text transform="translate(139.4,542.0) rotate(17)" x="0" y="1.3" font-size="3.9" text-anchor="end" fill="#e25a64">TP53</text>
<line x1="160.8" y1="664.2" x2="173.4" y2="652.0" stroke="#111" stroke-width="0.9"/>
<path d="M176.4 649.2 L170.6 651.3 L174.3 655.0 Z" fill="#111"/>
<text x="140.20" y="453.80" font-size="11.5" text-anchor="start" fill="#111" font-weight="bold" >K</text>
<rect x="0.6" y="0.6" width="518.8" height="691.8" fill="none" stroke="#3a3a3a" stroke-width="1.3"/>
</svg>
</body></html>
